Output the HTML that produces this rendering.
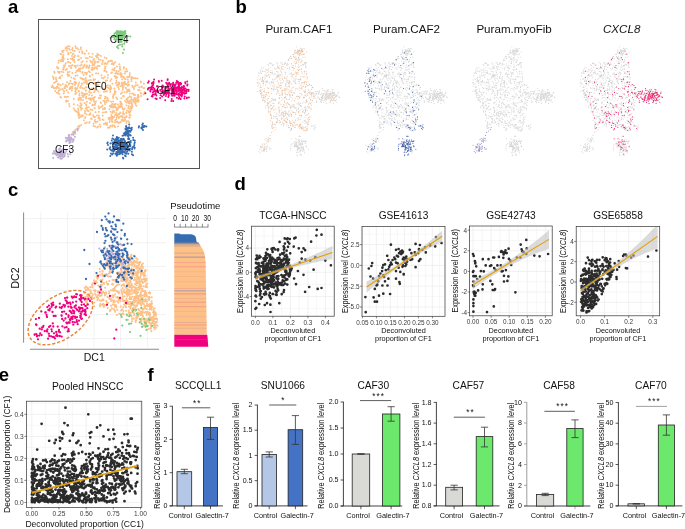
<!DOCTYPE html><html><head><meta charset="utf-8"><style>html,body{margin:0;padding:0;background:#fff;}svg{display:block;will-change:transform;font-family:"Liberation Sans",sans-serif;}</style></head><body><svg width="685" height="529" viewBox="0 0 685 529"><text x="8" y="13" font-size="18.5" text-anchor="start" fill="#000" font-weight="bold">a</text>
<rect x="38.5" y="19.5" width="161" height="149" fill="none" stroke="#555" stroke-width="1"/>
<path d="M109.8 120h0M78.9 118h0M126.2 84.3h0M79.2 68.6h0M74.6 82.4h0M98.4 91.4h0M109.6 127.6h0M70.9 58.8h0M53.8 88.2h0M94.7 121.6h0M110.2 88.2h0M97.7 66h0M98.9 115.8h0M111.2 107.1h0M59.1 90.4h0M98.7 117.8h0M84.8 95.1h0M56 77.7h0M81.1 58h0M128 77h0M143.5 94.5h0M107.9 98.5h0M92.3 65.4h0M88.7 53.5h0M114.3 70.4h0M133.5 100.5h0M104.6 57.6h0M102.9 60.5h0M134.5 98.8h0M104.6 76.7h0M89.5 65.4h0M94.9 91h0M81 107.9h0M52.8 76.4h0M91.1 89h0M106.5 102.2h0M84.2 88.6h0M123.2 121h0M90.2 113.2h0M125.8 88.1h0M119.4 64.3h0M69.3 75.6h0M67.5 74.2h0M140.6 93.1h0M82.7 68h0M140.9 82.4h0M143.6 88.3h0M100 119.9h0M121 93.7h0M91 118.4h0M89.5 122.1h0M56.9 81.2h0M99.8 124.4h0M114.7 105h0M110.3 126.1h0M82 78.6h0M69.7 49.7h0M107.8 85.3h0M107 100.2h0M94.7 97.6h0M110.8 60.8h0M56.3 79.7h0M123.1 113.2h0M133.9 88.9h0M74.4 66.1h0M68.2 92.6h0M66.2 101.8h0M139.6 90.2h0M127.6 100.1h0M108.5 61.4h0M82.6 71.9h0M61.1 97.5h0M126.2 71.5h0M105 98.5h0M113.3 98h0M128.8 112.2h0M81.5 105.4h0M65.8 47.7h0M112.3 63.3h0M104 123.9h0M86.5 66.5h0M93.8 100.1h0M60 77.1h0M129.4 76.8h0M85.8 90.3h0M70.9 66h0M81.8 83.5h0M105.5 70.4h0M62.9 56.6h0M62.8 52.2h0M79.5 114.6h0M109.4 61h0M91.8 118.9h0M86.1 104.5h0M124.2 114h0M114.5 76.3h0M56.5 88.6h0M75.7 90h0M121.6 119.9h0M62.4 60.8h0M126.4 99h0M124.3 78.3h0M111.4 60.8h0M122.6 108.4h0M119 82.4h0M86.4 80.3h0M102 77.7h0M102.5 105.4h0M86.7 114.4h0M118.2 114h0M61.5 60.2h0M105.1 82.5h0M80.2 71.4h0M118.8 83.3h0M73.8 78.2h0M72 55.9h0M53.5 87.3h0M62.1 60.1h0M132.2 85.7h0M67.9 101.1h0M75.7 89.2h0M77.3 88.3h0M110.2 90h0M88 111.1h0M63.4 54.9h0M70.2 87.5h0M97.7 121.4h0M54.3 71.7h0M72.9 84.1h0M129.2 108.7h0M117.7 116h0M115.2 106.6h0M79.1 59.4h0M137.8 95h0M65.2 88.2h0M105.1 112.2h0M77.2 112h0M117.2 98.9h0M140.8 81.5h0M89.9 102.9h0M129.8 73.3h0M114.1 62.9h0M102.9 109.3h0M95 79.5h0M118.9 88.9h0M103.9 91.8h0M93.5 97.9h0M106.8 63.9h0M69.2 83.2h0M121.8 104.2h0M103 112.5h0M94.7 97h0M128.3 101.8h0M111.4 79.2h0M103.5 78.4h0M121.2 77.1h0M94.8 108.2h0M98.3 73.6h0M129 77.1h0M130.7 110.7h0M92.9 104.7h0M53.7 77.9h0M132.2 93.6h0M103.4 100.7h0M114.8 93.9h0M90.4 60.7h0M78.2 69.8h0M83.9 82.6h0M85.7 93.8h0M86.3 67.7h0M134.5 86.5h0M97.4 61.9h0M90.4 114.2h0M129.1 84.8h0M123.4 83.5h0M85.9 90.8h0M69.5 71.8h0M117.6 109.5h0M128.1 82.5h0M73.8 98.9h0M86.2 98.4h0M74.9 85.1h0M100.3 97.9h0M77.9 70.9h0M74.8 51.1h0M90.6 109.6h0M63.4 72.2h0M123.5 86h0M138.2 100h0M109.4 109.2h0M121.7 74h0M74.8 81.8h0M96.9 57.3h0M92.4 98.6h0M63.3 57h0M66.9 69h0M67.9 59.2h0M94 59h0M76 111.3h0M67.9 96.7h0M89 80.2h0M113.5 95.3h0M61.3 71.7h0M108.6 100.8h0M114.9 92.8h0M141 96h0M82.3 88.1h0M116.4 80.4h0M131.4 108.2h0M82.4 51.9h0M63 60.8h0M79.3 82.6h0M135.9 102h0M131.6 79h0M73.7 57.3h0M126.4 102.5h0M70.6 67.7h0M102.7 115.8h0M58.4 68.3h0M123.1 96h0M80.1 97.7h0M93.6 117.1h0M78.3 108.4h0M110.9 107h0M86.4 105.7h0M116.8 77.7h0M119.9 68.6h0M95 116.9h0M93 69.4h0M79.5 51.9h0M71.3 68h0M66.8 50.7h0M94.7 63.3h0M120.7 122.1h0M76.4 93h0M95.5 112.3h0M85.5 108.6h0M57.4 67.5h0M127.7 84.5h0M93.5 125.9h0M80.8 49h0M87.7 58.2h0M58.2 92.6h0M141.1 93.6h0M111.9 72.4h0M104.7 107.9h0M106.4 112.1h0M102.7 61.9h0M105.8 86.2h0M66.2 96.9h0M102.2 106.4h0M88.7 67.9h0M85.8 90.5h0M115.7 91.9h0M74.1 59.9h0M54.6 73.1h0M68.7 84.5h0M66.7 85.9h0M100.2 107.4h0M92 57.2h0M127.3 71.3h0M93.7 100.4h0M98.7 59.2h0M63.6 69.1h0M62.8 84.1h0M84.3 94.2h0M77.1 48.3h0M81.9 108.2h0M74.7 79.1h0M122.2 79.3h0M79.9 106.6h0M74.5 57.1h0M92 95.5h0M118.1 85h0M59.2 73h0M137.7 96.3h0M56.8 92.7h0M94 92.3h0M120.5 101.8h0M127.7 79.6h0M124.9 119.5h0M93.5 123.8h0M86 108.3h0M95.2 82.7h0M87.1 81.4h0M63.7 50.6h0M122.1 92.4h0M114.3 112.1h0M72.3 64.9h0M76.8 70.7h0M122.7 76.6h0M81.1 98.3h0M68.1 54.3h0M116.7 108.3h0M78.6 98.3h0M53.6 79.1h0M105.4 66.5h0M83.5 96.1h0M106.5 58.3h0M74.5 62.1h0M108 127.7h0M100 95.4h0M117.2 73.4h0M82.1 51.3h0M91.8 62.5h0M135.8 98.3h0M59.3 71.9h0M82.3 73.1h0M114.7 90.9h0M75.2 93.9h0M111.3 88.6h0M116.3 112.9h0M125.2 83h0M67.2 48.4h0M88.7 71.3h0M92.5 62.1h0M118.2 87.2h0M80.5 68.8h0M139.7 87.3h0M144.6 93.6h0M55.6 87.9h0M98.3 81.6h0M62.3 58.1h0M89.2 114.7h0M109.7 106.1h0M105.2 62.9h0M95.2 126.4h0M91.2 100.3h0M86.7 87.3h0M78.5 100h0M141.7 86.4h0M94.7 116.8h0M78 112.2h0M77.7 105.3h0M82.2 95.5h0M127.2 90.5h0M86.4 74.6h0M57 66.9h0M114.1 125.4h0M109.5 88.8h0M69.5 88.6h0M78 55.9h0M63.2 61.2h0M105.9 80.6h0M91.2 62.6h0M113.6 69.5h0M88.4 84h0M118.7 71.2h0M135.5 78.2h0M98.4 118.3h0M65.7 63.2h0M58.6 84.7h0M106.7 71.9h0M126.9 92.2h0M63.5 90.5h0M110.3 81h0M132.6 77.9h0M99 55h0M104 109.1h0M119.9 66.8h0M90.7 79.9h0M111.2 105.2h0M99.5 118h0M95 84.1h0M80.5 103.2h0M89.3 123.1h0M57.4 86.8h0M55.1 91.1h0M68 76h0M79.4 95.5h0M81.7 92.8h0M133.1 99.7h0M78.3 110.1h0M121.7 82.8h0M64.4 88.1h0M78.6 91.1h0M121.1 116.6h0M143.9 83.7h0M133.5 93.8h0M75.7 72.5h0M106.6 97.6h0M68.8 75.5h0M128.2 91.1h0M99.1 108.6h0M112.7 69.6h0M58.7 83.9h0M134.1 95.1h0M55.5 82h0M87 93.8h0M106.2 124.5h0M82.6 79.4h0M108.7 119.1h0M117.6 84.6h0M127.9 85.8h0M78.7 115.8h0M108.4 87.7h0M96 55.9h0M97.8 66h0M89.2 98.6h0M65.7 85.1h0M97.2 127.6h0M58.7 87.9h0M137.4 78.6h0M75.3 91.6h0M58.5 62.7h0M117.2 121.6h0M84.5 53.7h0M103.6 88.8h0M85 72.7h0M68.1 46.2h0M135 95.1h0M114.3 106.4h0M98.4 106.6h0M112.9 96.7h0M89.4 90.9h0M118.7 123.3h0M120.4 74.3h0M94.1 88.9h0M108.8 127.6h0M115.8 78.1h0M118.4 84.2h0M89.7 75.8h0M97.3 68.8h0M73.4 57.8h0M92.3 69.8h0M83.1 96.9h0M103.2 82.3h0M112.2 125.2h0M113.7 111.6h0M110.8 117.7h0M81.4 104.3h0M75.5 87.7h0M115.2 62.2h0M127.3 100.8h0M81 100.1h0M105.2 96.7h0M92.9 64.2h0M119.4 84h0M121.3 75.7h0M58.7 90.5h0M109.6 122h0M123.8 67.2h0M116.7 77h0M81 86h0M100.9 103.1h0M111.1 101.8h0M86.9 101.7h0M83.2 95.9h0M94.1 92.2h0M52.1 86.9h0M71.3 77.5h0M60.4 97h0M62 75.5h0M97.4 55.3h0M80.7 68.3h0M84.9 111.1h0M63.7 93.6h0M91.6 69.4h0M128.5 107.5h0M63.1 69.8h0M108.6 117.9h0M111.7 63.9h0M85.6 97.3h0M116.7 82.3h0M113.1 101.4h0M94.6 61.2h0M88.7 107.3h0M68.4 53h0M94.4 65h0M126.5 113.3h0M112 61h0M128.7 105.9h0M121.4 103.4h0M114.4 88.4h0M82.5 72.6h0M65.2 86.3h0M85.5 80.5h0M131.4 102.1h0M115.1 127.2h0M71.1 87.7h0M59.2 78.1h0M122.5 117.3h0M98.8 111.7h0M92.3 74.8h0M98.5 61.7h0M79.6 70.8h0M131.5 99.2h0M91.1 61.9h0M60.5 54.1h0M83.6 79.3h0M138.2 90h0M64.3 91.4h0M65.6 48.8h0M68.4 53.9h0M112.4 83.8h0M74.8 110.3h0M96.9 90h0M93.9 101.6h0M57 86.6h0M72.7 54h0M69 66.1h0M131.5 103.5h0M80.4 78h0M92.3 69.9h0M90.5 109.5h0M57.6 68.5h0M96 101.6h0M111.8 105.7h0M60.4 60.5h0M79.8 68.9h0M78.7 112.2h0M138.3 94.9h0M83.6 75h0M110.6 117.2h0M82.8 61.3h0M131.3 97.3h0M85.2 111.5h0M88.6 98.4h0M115.8 83h0M94.8 105h0M72.9 50.7h0M68.5 62.1h0M89.9 72.2h0M84.9 113.3h0M127.2 89.8h0M92.1 67.7h0M102 63.9h0M81 47.5h0M112.9 116.7h0M126.3 117.1h0M96.9 115.4h0M94.3 67.4h0M96.1 73.3h0M123.4 114.5h0M63.8 59.1h0M86.9 84h0M114.8 67.9h0M57.9 71.7h0M81.1 105.6h0M110.2 91.9h0M122.7 88.1h0M65.7 63.4h0M86.5 73h0M56.2 79.2h0M93.1 69.3h0M86.9 73.1h0M86.2 96.9h0M97.7 61.9h0M126 88.1h0M94 104.7h0M121.9 116h0M127.5 101h0M116.9 66.6h0M74.9 55.5h0M112.9 107.6h0M111.4 115.1h0M75.9 83.8h0M66.8 90.2h0M83.1 99.9h0M100.9 102.5h0M73.8 104.2h0M120.3 105.4h0M105.3 68.1h0M91.7 88.5h0M99.6 66.1h0M75.6 75.7h0M124.7 81.8h0M54.1 83h0M69.5 46.5h0M101.5 75.2h0M90.2 76.5h0M66.3 100.4h0M124.8 108.6h0M72.2 88.2h0M117.2 77.6h0M93.1 115.3h0M72 49.4h0M90 99.4h0M69.1 104h0M69.5 106.2h0M59.2 94.1h0M97.9 85.3h0M124.7 83.9h0M97.7 85.9h0M93.6 79.2h0M65.7 70h0M75.6 66.1h0M69.9 89.2h0M80.1 65.4h0M85.9 87.2h0M114.5 126.2h0M131.5 81.2h0M93.4 80h0M113.4 94.4h0M89.3 95h0M60.2 78.2h0M72.6 48.1h0M81.4 62.4h0M51.7 86.9h0M115.8 76.2h0M130.4 111.6h0M81.4 115.8h0M138.8 97h0M83.9 120.2h0M113.6 64.8h0M104.3 71.1h0M69.1 49.1h0M71.2 83.5h0M78.5 113.7h0M106.7 91.6h0M116.4 71h0M86.9 65.5h0M78.2 60.1h0M84.6 103h0M97 68.8h0M82.9 93.5h0M120.1 112.5h0M118 126.6h0M76.9 88.8h0M70.8 52.4h0M92.1 105.2h0M78.2 114.6h0M82.1 83.9h0M129.8 75.2h0M127 110.4h0M95 119.9h0M87 107.7h0M111.2 73h0M101 95.8h0M100.9 55.9h0M128.4 81.4h0M118.2 114.2h0M128.6 103.1h0M125.1 118h0M84.2 79.5h0M72.4 73h0M91 92.7h0M77.5 75.4h0M122 84.5h0M107.1 80.6h0M103.4 120h0M75.8 88.6h0M141.9 86.9h0M73.7 108.6h0M128 97.8h0M100.6 107.2h0M137.6 98.7h0M107.7 77.7h0M104.8 91.5h0M120.5 122.2h0M94.5 107.9h0M78.6 84.3h0M78.1 86h0M79.2 91.5h0M112.6 118.5h0M121.3 98.2h0M87.1 109.9h0M135.8 85.3h0M79.5 94.1h0M97.7 57.6h0M122.1 107h0M64.2 67.1h0M126.5 121.2h0M133.1 87.2h0M85.3 82.5h0M67.2 86.7h0M72.4 58.9h0M86.6 50.8h0M95.1 103.3h0M112.3 126.4h0M134.6 98.1h0M135.8 82.4h0M126.4 69.1h0M100.5 126.8h0M107.3 87.6h0M125.3 71.4h0M73.1 60.2h0M105 103.9h0M124 77.3h0M62 50.9h0M72.4 86.4h0M104 88.8h0M116.3 97.5h0M82.4 53.2h0M110.7 111.7h0M86.8 122.4h0M106.9 90.9h0M128.2 97.4h0M107.9 75.1h0M96 67.3h0M80.2 87.8h0M70.4 62.8h0M88.7 111.1h0M144.6 91.9h0M84.6 64.9h0M67.8 72.3h0M125.1 100.9h0M120.3 101.4h0M80.2 117h0M70.4 80.9h0M58.7 60.4h0M123.3 87h0M113.3 106.4h0M108.1 61.9h0M76.1 82.7h0M61.3 54.3h0M112.4 107.1h0M85.7 77.9h0M70.1 88.8h0M105.6 123h0M119.4 114h0M112.3 69.5h0M109.6 118.3h0M60.6 85.3h0M121.3 102.9h0M62.4 89.1h0M116 73.3h0M98.3 126.5h0M110.9 87.2h0M131.3 107.1h0M129.8 93.5h0M105.2 89.5h0M120.3 72.9h0M97.6 84.5h0M113.3 63.4h0M118.6 107.7h0M92.6 54h0M94.6 117.1h0M98.8 97.9h0M86 58h0M110 85.8h0M83.3 67h0M116.6 71.9h0M105.2 67.1h0M122 76.6h0M95.9 122.5h0M118.7 106.6h0M82.7 115.2h0M135.6 100.2h0M129.5 90.7h0M63.9 65.6h0M105.1 108.8h0M122 85.8h0M84.9 53.5h0M124 120.8h0M85.1 123.3h0M132.3 103.9h0M117.2 115.3h0M101.4 87.6h0M85.3 117.3h0M123.8 68.4h0M67.9 61.9h0M104.9 68.7h0M73.4 53.7h0M81.3 109.7h0M52.5 85.6h0M93.3 59.7h0M96.1 122.1h0M133.8 78h0M144.2 87.9h0M71.8 90.6h0M116.6 85.5h0M83.9 66.1h0M78.6 49.6h0M125.4 79.1h0M107 63.8h0M113.9 104.2h0M120.3 86.3h0M104.8 102.1h0M111.8 119.8h0M60.4 89.5h0M60.9 61.3h0M86.8 61.4h0M82.4 116.6h0M115.7 103.9h0M113.6 107.3h0M121.6 104.8h0M123.9 96.3h0M75.4 46.3h0M121.6 73.8h0M97.4 53.8h0M124.6 92h0M115.3 73.4h0M131.7 77h0M120.3 69.7h0M90.7 98.3h0M71.4 86.9h0M81.6 65.1h0M139.3 87.6h0M112.3 104h0M57.9 84.3h0M66.6 47.2h0M137.9 97.5h0M89.8 56.8h0M122.8 89.7h0M129 89.6h0M79 99.6h0M64.8 96.7h0M118.4 73.9h0M116.7 110.2h0M129.8 96.6h0M130.9 100.2h0M87.4 66.4h0M122.9 82.7h0M63.4 67.8h0M86.2 105.3h0M78.5 56.3h0M115.4 107.6h0M68.9 74.9h0M92.5 109.9h0M78.5 99.8h0M87.5 84.1h0M94.3 68.6h0M116.6 115.3h0M65 65.2h0M107.1 123.2h0M95.3 62.2h0M107 125h0M89.4 67.3h0M131.4 78h0M77.6 65.4h0M85.3 118.1h0M86.7 82.7h0M104.3 63.9h0M75.8 67.6h0M75.1 88.3h0M67 82.3h0M89.3 92.2h0M102.7 119.6h0M129.6 91.1h0M95.3 103.6h0M126.2 112.4h0M104.5 101h0M131.4 79.2h0M127.2 77h0M100.6 59.9h0M122.6 119.4h0M137.6 85.3h0M76 48h0M124.8 73.5h0M129.4 102.4h0M112.3 121.2h0M136.6 100.8h0M118.7 118h0M117.9 104.5h0M120.3 106.9h0M123.2 112.1h0M129 122.2h0M114.1 116.9h0M115.3 122.5h0M128.5 102.7h0M136.8 101h0M131.1 109.1h0M126.6 115.9h0M115.2 122.2h0M119.3 106.7h0M122 120.3h0M135.5 103.7h0M120.4 112.9h0M113.4 110.4h0M128.7 111.2h0M115 120.3h0M120.3 103.6h0M116.6 117.2h0M115.1 115.1h0M124.6 120.2h0M112 121.5h0M128.3 121.2h0M111.8 117.1h0M120.3 116.3h0M112.6 121.9h0M119 117.6h0M112.9 111.8h0M118 108.1h0M131.9 105.6h0M126.4 105.4h0M116.4 110.3h0M118.6 122.9h0M124.4 117.3h0M138.6 100.2h0M116.9 115.7h0M129.7 101h0M134.7 102.5h0M115.2 114.7h0M111.9 119.4h0M126.4 123.2h0M129.6 115h0M123.6 120.5h0M132.3 106.5h0M116.2 119.2h0M136.3 105.7h0M133.7 101h0M130.5 115.6h0M136.1 105.4h0M129.2 117.4h0M133.4 101.6h0M129.5 103.6h0M138.5 101.8h0M117.1 122.1h0M128.3 108.1h0M112.3 113.1h0M132.1 107.8h0M116.6 121.8h0M130.7 106.8h0M122.5 108.7h0M118.8 122.6h0M129.7 117.7h0M121.3 105.7h0M123.7 109.8h0M129.6 112.9h0M74.4 131.9h0M77.3 129h0M73 132.4h0M73.3 135.3h0M78.1 126.6h0M74.8 131.5h0M81.3 124.9h0M73.2 131.8h0M79.5 126.7h0M75.3 133.7h0M79.5 125.8h0M75.4 129.8h0M73.7 133.6h0M78.5 128.8h0" stroke="#FDC086" stroke-width="2" stroke-linecap="round" fill="none"/>
<path d="M184.9 91.6h0M163 86.9h0M159 81.7h0M174.3 94.2h0M188.6 89.7h0M170 84.7h0M180.4 91.9h0M166.9 93.3h0M176.8 81h0M178.3 90.7h0M168.7 88h0M186.9 97.4h0M187.5 84.5h0M166.4 94.3h0M161.7 86.5h0M156.7 98.9h0M181 92.2h0M173.9 88h0M168.6 93h0M165.9 95.9h0M167.8 85.8h0M183 89.3h0M176.7 88h0M152.9 92.6h0M160.6 95.2h0M158.8 81h0M174.6 92h0M172.9 84.2h0M179.6 83h0M168.1 86.2h0M168.8 94.1h0M166.6 92.7h0M177.9 81.8h0M162.1 88.2h0M167 91.5h0M155.6 93.5h0M178.3 89.2h0M160.2 90h0M167.4 92.7h0M171.3 93.5h0M168.3 96.9h0M152.4 85.1h0M176.2 82.7h0M178.3 84.2h0M172.8 85.6h0M168.2 90.8h0M171.1 88.2h0M163.8 94.5h0M179 95.9h0M187.2 85.5h0M181 95.5h0M172 91.2h0M152.4 87.2h0M187.2 81.4h0M167.4 91.4h0M176.9 97.8h0M157 90.2h0M179.3 83.7h0M171.7 99h0M183.2 92.6h0M152.4 89.4h0M175.3 88.5h0M171.4 101h0M170.2 85.3h0M174.1 88.5h0M169.4 89.6h0M178.6 91.1h0M161.8 89.4h0M176 87.8h0M181.8 93.7h0M163.6 91.5h0M188.9 97.5h0M171.5 94.3h0M166.3 83h0M176.7 91.2h0M176.4 89.9h0M174.8 87.5h0M176 94h0M171.5 93.9h0M156.9 86.2h0M184.3 98.5h0M174.1 89.5h0M161.2 91.7h0M178.6 82.9h0M176.8 92.4h0M175.7 84.6h0M176.6 82.8h0M184.7 90.6h0M162.1 96.5h0M181.8 86.9h0M174.7 95.7h0M152.7 94.8h0M171.4 89.9h0M162.8 91.6h0M162.6 85.4h0M168.2 84.1h0M185.4 83.6h0M165.6 88.5h0M172 93.8h0M179 88.5h0M168.7 90.2h0M179 93.3h0M167.6 80.1h0M174.2 91.6h0M167.6 85.2h0M169.2 88.9h0M166.7 83h0M169.3 92.8h0M167.8 90.1h0M154.4 89h0M171 84.1h0M157.3 92h0M165.1 92.3h0M168.4 93h0M169.1 82.8h0M171.3 88.4h0M177.6 87.8h0M168.7 94.1h0M181.9 93.6h0M180.8 92.2h0M178.5 94.2h0M175.4 90.3h0M173.2 101h0M172.1 88.9h0M168.9 89.8h0M174.1 84.6h0M155.2 91.4h0M158.3 91.2h0M173.2 95.5h0M186.2 91.8h0M167.3 84.4h0M165.3 90.2h0M154.4 90.4h0M171.9 93.1h0M169.2 90.5h0M165.7 87.8h0M156.9 90.6h0M185.2 90.8h0M175.1 85.3h0M184.2 86.3h0M178.8 90.5h0M163.8 94.9h0M172.1 90.9h0M175.8 89.9h0M168.8 92.2h0M168.6 90.3h0M166.3 82.8h0M166.3 87.6h0M172.1 95.7h0M157.6 90.6h0M153.2 85h0M167.7 79.2h0M156.2 90.7h0M172.7 89.5h0M165.2 100.3h0M170.6 85.9h0M186.3 92.9h0M168.8 95.7h0M173.3 93.1h0M174 85.1h0M180.3 90.8h0M163.4 86.3h0M180.1 88.2h0M172.4 93.1h0M173.1 82.7h0M177.4 94.5h0M179.4 97.8h0M175.1 93.7h0M185.5 88.6h0M186.8 98.3h0M178.7 98.8h0M179.2 85.8h0M181.7 91.6h0M175.5 90.7h0M183.6 92.7h0M166.1 92.3h0M178.2 86.5h0M168.3 88.2h0M166.8 91.7h0M180.7 99.1h0M182.2 94.9h0M181.7 96.4h0M168.8 93.3h0M174.7 89.4h0M168.1 87.6h0M169.7 84.1h0M176.4 89.9h0M154.5 90.5h0M157.6 86.3h0M153.5 81.8h0M161.7 80.8h0M156.4 95.6h0M151.7 96.3h0M163.2 93.3h0M165.5 91.8h0M150.4 91.4h0M151.8 83.2h0M147.6 99.3h0M151.3 88.9h0M150.7 89.7h0M152.8 87.2h0M148 82.7h0M150.3 90.4h0M164.4 93.8h0M163.2 91.2h0M153.6 83.1h0M154.1 79.4h0M152.6 96.4h0M155.7 94.2h0M152.2 82.9h0M151.7 87.3h0M160.1 98h0M150.4 87.5h0M153.4 87.5h0M147.9 89.5h0M155.9 90.8h0M148.1 88.6h0M145.4 93.2h0M149 87.9h0M151.9 86.5h0M148.8 81.2h0M162.8 90.3h0M155.5 98.6h0M153.6 91.6h0M154.3 94.5h0M156.7 90.6h0M180.2 90.6h0M185.2 82.3h0M180.7 88.1h0M180.1 82.7h0M183.7 86.7h0M180.3 87.9h0M175.3 88.1h0M174.7 86.3h0M180 89.6h0M181.3 89.1h0M188.6 91.1h0M176.8 87.5h0M178.8 89h0M179 86.6h0M186.9 89.8h0M179.9 88.7h0M180.4 94.5h0M182.8 93.5h0M172.9 90.8h0M184.8 96.5h0M181.2 83.6h0M183.2 87.5h0M174.9 87.5h0M184.8 93.8h0M183.6 86h0M180.9 84.6h0M185.7 91.2h0M184.2 89.9h0M180.9 90.2h0M174.5 93.1h0M184.3 88.3h0M181.1 90.7h0M186.6 91.2h0M181.3 87.9h0M175.9 87.6h0M181.4 88.8h0M181.4 92.3h0M182.7 90.6h0M183.5 90.3h0" stroke="#F0027F" stroke-width="2" stroke-linecap="round" fill="none"/>
<path d="M121.1 149.6h0M110.9 153.5h0M113.5 151.4h0M121.4 152.8h0M121.5 142.5h0M127.7 148.2h0M122 147.7h0M127.3 151.3h0M122.7 139.5h0M118.9 147.8h0M132.1 149.2h0M120.8 153.2h0M120.6 147.1h0M122.3 139.8h0M127.1 149.4h0M119.6 141.6h0M122.6 154.3h0M117.5 142h0M123.9 139.3h0M108 145.1h0M117.2 145.9h0M118 148.9h0M120 144.3h0M118.6 150.4h0M127.1 151.8h0M125.5 135.5h0M115.3 145.7h0M122.6 139.2h0M129.9 148.8h0M117.6 148.1h0M119.3 143.5h0M124.4 145h0M112.9 144.1h0M120.7 141.9h0M128.9 141.9h0M131.9 151.8h0M115.7 148h0M128.5 146.4h0M114.2 147.9h0M133.3 139.9h0M124.7 147.4h0M120.7 145.4h0M119.5 152.5h0M125 142.3h0M130.8 140.9h0M125.4 148.3h0M128.6 149.1h0M127.8 147.2h0M127.3 149.1h0M134.3 143.9h0M128.6 149.7h0M122.5 144.5h0M124.1 140h0M113.2 150.9h0M112.1 154.6h0M119.8 148.6h0M121.9 149.5h0M119.8 145.5h0M120.7 152.6h0M128.3 153.7h0M123.6 146.4h0M111.4 150.6h0M126.5 145.4h0M126.3 153.8h0M122 152.7h0M123.3 138.7h0M118.6 145.3h0M124.6 143.1h0M118.8 142.6h0M121.2 147.7h0M127.3 151.4h0M122.4 148.6h0M122.1 147.9h0M130.7 135.5h0M120.4 148.9h0M128.2 141.9h0M123.5 151.7h0M118.8 137.8h0M119.3 141.4h0M125.4 143.1h0M132.1 148.1h0M116.6 144.9h0M114.9 149.3h0M130.4 146.3h0M127 142.7h0M123.3 158.5h0M113 153.5h0M128.5 138h0M112.9 142.5h0M127.3 145.2h0M120.5 150.9h0M122.2 148.5h0M119.5 153h0M116.8 155.8h0M119.4 143.4h0M125.3 149.6h0M109.6 148.5h0M113.4 143.2h0M126.2 143.1h0M123.6 145.5h0M133 146.9h0M114.4 141.8h0M116 148h0M121.4 152.2h0M122.4 148h0M123.4 146.7h0M123.2 151.3h0M126.1 144.6h0M110.8 143.3h0M123.1 135.5h0M118.5 149.6h0M118 141.7h0M131.9 154.2h0M119.8 153.9h0M129.2 141.7h0M134.8 142.6h0M119.8 141.8h0M121.8 140.7h0M121.3 152.7h0M122.6 146h0M130.6 142.8h0M127.1 145.8h0M122.6 147.4h0M122.1 147h0M116.6 144.4h0M123.9 146.7h0M114.3 143.7h0M117.1 147h0M122.3 147.7h0M117.3 147.3h0M113 135.5h0M120.9 138.9h0M115.6 141.2h0M125 141.1h0M122.9 144.7h0M113.8 139.3h0M124 149.1h0M125.8 156.3h0M122.8 148.5h0M120.4 147.6h0M119 142.6h0M133.1 137.8h0M122.6 149.3h0M122 142.3h0M119.9 144.8h0M114.6 146.8h0M118.6 144.3h0M125.1 141.7h0M123.7 144h0M123.6 147.4h0M122.5 142.1h0M116.4 142.7h0M122 150.7h0M127.4 144.5h0M121.5 138.9h0M107.7 142.6h0M117 139.2h0M110.3 149.6h0M116.1 138.6h0M134.8 147.8h0M119 150.3h0M116.4 154.8h0M111.7 140.4h0M120.1 143.1h0M129.3 138.9h0M116.5 148.1h0M124.2 151.9h0M122.9 157.8h0M118 147.7h0M125.9 145.3h0M119.1 144.5h0M116.9 141.2h0M117.5 139.1h0M123.1 138.9h0M133.1 155.3h0M127.4 145.7h0M117.2 152.9h0M121.8 149.6h0M116.4 152.1h0M116 147.3h0M110.4 143.5h0M123.7 144.5h0M118 150.7h0M120.3 152.9h0M107.2 149.6h0M123.7 139.1h0M112.9 151.1h0M114.3 143.6h0M124.3 145.1h0M123.5 142.4h0M122.5 152.1h0M122.6 135.8h0M124.6 147h0M115.3 153.7h0M110.3 156.1h0M116.9 154.6h0M120.4 140.1h0M121.2 148.4h0M123.9 152h0M115.3 149.2h0M125.1 145.4h0M115.1 142h0M125.2 150.7h0M115.7 140.1h0M128.1 139h0M121.6 142.7h0M110.2 147.3h0M119.5 153.9h0M134.2 145.8h0M126.8 151.9h0M117.5 142.4h0M130.3 144.9h0M120.5 145.3h0M119.9 143.7h0M125.1 153h0M118.4 139.9h0M121 139.3h0M116.8 152.8h0M134.5 148.6h0M114.3 150.6h0M107.3 143.3h0M129.8 150.4h0M112.4 138.4h0M125.8 146.5h0M117.1 148.8h0M117.2 137.2h0M125.5 143.5h0M114.7 140.1h0M122.2 142.7h0M124.4 145.4h0M127.1 144.8h0M116.8 136.9h0M114.1 150.3h0M134.8 140.5h0M114.5 148.4h0M123.5 143.4h0M121.1 138.7h0M118.9 151.2h0M130.4 145.9h0M119.1 149h0M127.3 149.1h0M116.2 148.5h0M126.4 143.2h0M112.7 149.3h0M122.9 151.5h0M121.2 143.5h0M118.1 141.6h0M115 143.9h0M117.8 152.3h0M113.4 146.5h0M117.2 154.1h0M122.3 144.9h0M125.6 147.1h0M117.9 154.4h0M124.9 155.4h0M127.6 150.6h0M121.5 141.4h0M124.9 147.1h0M124.8 146.7h0M116.6 141.8h0M129.1 134.7h0M126.7 132.2h0M130.8 128.4h0M126.5 127.5h0M130.3 131.7h0M126.2 125.9h0M126.9 133.8h0M126.7 129.6h0M129 127.2h0M127.5 132.7h0M125.5 128.4h0M128 130.6h0M126.8 131.5h0M128 128.1h0M125.7 132.2h0M130.2 134.9h0M125.3 134.1h0M129.3 130.8h0M128.6 133.4h0M131.8 127.8h0M128.9 130.5h0M126.9 134.3h0M129.4 127.9h0M126.7 131.6h0M123.9 133.5h0M127.2 131.4h0M128.3 136.3h0M127.5 129.8h0M131.7 129.4h0M126.1 126.8h0M130.1 131.7h0M128.6 131.4h0M127.1 128.6h0M125.5 132.2h0M127.7 135.8h0M125.5 129.5h0M124.9 135h0M124.4 133.2h0M131 130.5h0M129.2 124.6h0M142.5 124.5h0M143.9 127h0M141.5 128.4h0M144.3 126.2h0M142.2 124.8h0M143 130.1h0M141.7 127.6h0M142.1 128.2h0M144.5 126.6h0M139 126.2h0M146.4 126.6h0M145 126.2h0M138.8 127.6h0M144.2 126.1h0M142.5 127.4h0M142 127.5h0M142.9 123.5h0M143.1 126.1h0M141.4 127.6h0M142.2 127.8h0" stroke="#386CB0" stroke-width="2" stroke-linecap="round" fill="none"/>
<path d="M72 139.2h0M65.8 137.7h0M71.6 138.5h0M67.5 138.8h0M70.6 139.4h0M71 137.5h0M68.8 138.5h0M69.4 135.2h0M68.9 136.6h0M72.7 141.7h0M73.4 140.4h0M68.3 140.7h0M69 140.1h0M67.3 137.9h0M70.6 142.1h0M69.4 143h0M75 136.7h0M69.4 137.3h0M69.1 138h0M69.3 140.7h0M71.7 139.4h0M69.5 139.2h0M69.8 140h0M69.5 139.9h0M66.4 140.4h0M73.6 139.3h0M66.1 141.4h0M68.7 134.9h0M68.9 140.1h0M70.4 141.2h0M63.8 153.8h0M54 150.9h0M62.1 155h0M57.6 152.1h0M63.2 149.1h0M54.1 152.9h0M62.4 152.4h0M52.8 153.5h0M56.5 155h0M61.1 154.1h0M63.9 152.3h0M64.6 156.3h0M62.9 156.5h0M59.1 155.6h0M62.5 151.2h0M61.2 152.3h0M59.4 153.7h0M65.4 152.8h0M61.9 150.1h0M61.9 156.1h0M64.5 154.6h0M59.5 151.3h0M61.1 150.4h0M56.8 155.6h0M58 157.6h0M56.1 154.5h0M57 153.9h0M57.5 153.6h0M60.9 152.4h0M63.4 156.9h0M59.2 155.5h0M61.8 153.4h0M69.7 148.5h0M58.9 149.3h0M60.3 153h0M70.2 154.3h0M68.2 156.4h0M59.8 154.6h0M67.7 153.9h0M62.2 154.6h0M55.8 151.6h0M62.7 154.7h0M58 152.7h0M61 153.1h0M64.1 153.7h0M62.1 150.2h0M57.5 154.2h0M55.4 154.1h0M59 151.6h0M63.9 151.9h0M58.2 151.9h0M61.7 158.8h0M53.5 153.4h0M60.5 155.6h0M60 148.2h0M66.4 151h0M61.2 150.3h0M57.3 152.3h0M64.7 155.4h0M59.2 154.6h0M60 153.7h0M62 154.9h0M59.1 153.1h0M62.2 153.6h0M58.4 157.4h0M59.7 155.2h0M62.2 156.2h0M53.2 158.1h0M60.6 150.6h0M61.9 158.6h0M63.3 150.6h0M59.6 156.5h0M56.1 153h0M60.3 158.4h0M60.3 156.4h0M77.5 128.4h0M77.5 130.6h0M74.4 131.8h0M74.8 132.2h0M73.3 134h0M71.6 134.6h0" stroke="#BEAED4" stroke-width="2" stroke-linecap="round" fill="none"/>
<path d="M118.9 33h0M116.9 33.4h0M116.5 33.6h0M120.7 31.6h0M123.4 36.9h0M124.8 31h0M124.7 33.8h0M120.7 32.4h0M120.9 35.9h0M122.5 32.7h0M118.9 32.7h0M122.6 36.8h0M117.7 33.4h0M119.8 32.1h0M122.1 34.4h0M116.7 31.6h0M124.5 34h0M122.4 32.5h0M119.8 34.3h0M119.4 31.5h0M120.9 35.1h0M117.8 35.3h0M123 31.9h0M120.9 33.4h0M122.8 34.6h0M117 31h0M124 33.6h0M122.1 34h0M125.4 31.3h0M124.1 32h0M123.1 35.8h0M116.8 34.2h0M120.1 32.9h0M121 31.6h0M118 34.6h0M123.4 32.4h0M116.6 37.6h0M124.2 34.1h0M117.8 32.4h0M121.6 31.7h0M125.6 33.7h0M122.1 31.6h0M118.2 32h0M121.7 33h0M120 34h0M121.6 36.1h0M120.3 31.6h0M120.9 36h0M119.3 33.5h0M119.8 34.2h0M121.7 32h0M120.2 35.1h0M124.1 35.1h0M123.4 32.8h0M119.8 35.1h0M117.4 33.3h0M115.4 32.8h0M118.8 31.3h0M122.6 32.1h0M119.8 33h0M118.7 36h0M119.4 33.8h0M117.1 32.6h0M119.9 32.9h0M119.2 33.7h0M125.5 33.2h0M120.5 32.8h0M127.9 36.3h0M122.5 34.7h0M118.8 33.2h0M120.8 38.2h0M116.1 36h0M122.1 38.7h0M110.6 38.1h0M125.5 36.3h0M120.9 34.4h0M123.5 35.2h0M114.3 37.1h0M130.3 36.4h0M114.3 39.1h0M120.9 42h0M114.3 34h0M118.5 38.9h0M121.4 40.6h0M113.3 35.9h0M119.3 40h0M122 36.9h0M115.4 40.1h0M124.1 43.8h0M119.1 41.9h0M114.5 36.6h0M116.9 36.8h0M116 36.6h0M119.6 36.8h0M122.8 37.7h0M119.9 41.5h0M121.3 38.3h0M119.8 38.1h0M122.4 36h0M124.9 41.8h0M125 36.7h0M112.8 36.9h0M120.5 40h0M119.1 37.2h0M126.6 36.3h0M124 49.4h0M117 47h0M119.3 42.2h0M115.5 39.7h0M122.1 44.4h0M121.7 41.7h0M120 44.8h0M116.4 39.4h0M122.2 46.5h0M118.2 45.5h0M122.9 53.1h0M118.3 48.3h0" stroke="#7FC97F" stroke-width="2" stroke-linecap="round" fill="none"/>
<text x="119.2" y="42.7" font-size="10" text-anchor="middle" fill="#111">CF4</text>
<text x="97" y="90.3" font-size="10" text-anchor="middle" fill="#111">CF0</text>
<text x="166" y="93.7" font-size="10" text-anchor="middle" fill="#111">CF1</text>
<text x="121.2" y="150" font-size="10" text-anchor="middle" fill="#111">CF2</text>
<text x="64.5" y="153.1" font-size="10" text-anchor="middle" fill="#111">CF3</text>
<text x="235.5" y="13" font-size="18.5" text-anchor="start" fill="#000" font-weight="bold">b</text>
<text x="298.9" y="33.2" font-size="11.6" text-anchor="middle" fill="#111">Puram.CAF1</text>
<path d="M316.5 102.5h0M283 64.3h0M276.7 71.4h0M311.8 96.9h0M276.9 75.1h0M294.2 117.1h0M277.9 68.1h0M277.5 75.1h0M263.7 80.8h0M287 65.3h0M282.6 92.7h0M307.2 126.1h0M268.7 108.6h0M307.4 106.6h0M279 74.4h0M279.7 111.2h0M282.3 74.7h0M304.7 62.7h0M283.1 66.4h0M297.7 89.1h0M263.2 83.5h0M303.4 97h0M289.8 121.8h0M273.2 106.6h0M279.1 93.6h0M260.7 78.6h0M297.6 73.9h0M282.8 118.3h0M293.1 125.5h0M283.7 124.6h0M293.5 67.6h0M326.9 92.9h0M271.7 125.3h0M291.9 107h0M339.4 97.1h0M289.1 84.2h0M301.3 109h0M298.4 102.4h0M285.6 108h0M285.6 113.6h0M267.1 102.7h0M279 76.9h0M262.1 81.6h0M269 76.1h0M266.3 94.4h0M301.3 69.4h0M292 100.7h0M301.3 115h0M302 82.6h0M304.8 109.3h0M276.9 116.2h0M275.1 108.8h0M314.8 94.7h0M290.1 97h0M291.4 72.3h0M266.8 105.2h0M268.6 74.2h0M291.4 73.7h0M305.4 130.9h0M302.5 64.4h0M267.6 105.4h0M283.7 125.9h0M286 77.7h0M336.8 95.3h0M319 93.7h0M263.5 99.1h0M281.7 73.1h0M270.1 74.8h0M299.7 125.4h0M315.6 93.3h0M279.3 76.1h0M330.4 100.2h0M305.9 100.2h0M272.1 99.7h0M280.2 95.3h0M282.3 95h0M297.8 69.2h0M259.8 90.4h0M335.6 100.9h0M321.9 94.4h0M268 92.8h0M271.5 109.2h0M272.4 65.5h0M272.3 124.3h0M260.1 87.5h0M278.4 82.7h0M303.4 76.9h0M303.9 64.7h0M299.6 128.1h0M292.2 74.4h0M290.4 113.1h0M300.7 62.2h0M295 80.6h0M288.1 60.7h0M282.9 98.9h0M298.7 108.2h0M271.8 89.9h0M339.1 96.9h0M286.7 124.7h0M271.6 126.8h0M305 117.2h0M272.8 85.9h0M296.7 124.3h0M258.3 82.6h0M291.4 129.7h0M288.4 90h0M271.9 128.1h0M302.9 126.5h0M265.2 77.7h0M282.9 123.3h0M281.6 110h0M324.9 100h0M290.9 108.5h0M295.7 76.7h0M278.8 87h0M288.7 112.7h0M271.7 108.4h0M299 105.1h0M306.1 108.3h0M271.6 118.2h0M284.7 64.5h0M306.4 101.2h0M272.1 125.3h0M285.2 86.2h0M277.7 71.9h0M291.5 115.3h0M298.9 119.1h0M261.8 95.5h0M276.6 62.8h0M307.4 101.6h0M325.8 101.1h0M298.1 74.1h0M284.9 88.9h0M292.2 75h0M282.2 76.8h0M272.6 98.8h0M264.3 71.6h0M285.7 96.8h0M274.2 123.8h0M301.7 85h0M272.7 65.4h0M291.8 110.2h0M315.4 91.6h0M279.5 78.9h0M288.5 104.3h0M284.8 120.5h0M287 86.7h0M293 124.8h0M309.8 107.1h0M269.7 62.9h0M270.8 67.2h0M294.8 125.3h0M265.4 107.7h0M316.5 100.7h0M281.3 72.2h0M275.6 69.3h0M309 108.5h0M281.3 67.1h0M260.3 72.8h0M261.6 92.4h0M275.6 124.8h0M273.9 103.5h0M261 90.7h0M270.1 63.5h0M335.3 96.9h0M261.1 69h0M309.4 107.8h0M277.5 121.6h0M298.7 117.7h0M300.4 119.1h0M334.6 93.8h0M289.5 94.2h0M291.1 106.1h0M287.4 102.4h0M311 104.8h0M311.5 85.4h0M330.6 101.7h0M292.2 105.9h0M267.6 103.3h0M290 127.7h0M283.6 90.3h0M265.6 84.7h0M319 98.7h0M299.4 87.7h0M281.2 97.5h0M289.4 81.8h0M331.9 95.2h0M289.4 95.9h0M268.9 71.8h0M282.7 93.1h0M279.8 65.7h0M260.5 89.9h0M273.7 90.6h0M273.9 115.7h0M288.4 82.5h0M294.8 106.2h0M258.8 84h0M291.9 84.7h0M306.8 115.1h0M289 60.5h0M302 86.8h0M280.8 62.7h0M283.9 119.1h0M333.1 95.3h0M267.6 100.7h0M294 57.2h0M259.2 73.5h0M298 54.8h0M282.7 122.1h0M309.2 98.8h0M266.8 82.9h0M289.3 85.9h0M283.1 114.9h0M295.6 125.1h0M290.3 74.7h0M303.9 54.1h0M265.2 101.4h0M300.9 124.5h0M321.6 97.5h0M299.7 97.8h0M291.3 97.3h0M293.5 112.4h0M301.8 59.5h0M287.4 63.4h0M285.1 118.8h0M279.4 115.6h0M302.1 95.1h0M306 96.4h0M305.5 106.7h0M262.1 67.9h0M289.5 67.9h0M308.4 90.3h0M284 69.5h0M272.2 72.3h0M276.6 93.8h0M336.3 95.2h0M283.3 106.3h0M281.9 62.9h0M286.8 80h0M302.9 122.1h0M277.1 89.5h0M282.8 118.3h0M302.8 109h0M285 67.5h0M274.7 124.3h0M299.6 79.3h0M305.3 87.5h0M267.8 72.6h0M270.2 114.5h0M304.3 63.7h0M290.1 73.6h0M287.5 107h0M268 64.6h0M280.4 80.2h0M279.2 115.8h0M278.8 75.2h0M302.7 103.1h0M295.2 90.1h0M284.9 97.9h0M289.4 81.5h0M266 99.2h0M301.2 61.2h0M321.9 96.8h0M262.1 93.3h0M276.8 68.3h0M305 57.1h0M281.3 97.3h0M268.2 107.8h0M310.7 100.8h0M279.5 86h0M264.4 100.4h0M272.1 126.5h0M295.4 79.1h0M309.9 103.3h0M307.7 123.2h0M330.8 100.7h0M297.9 99.1h0M306.3 129.2h0M303.6 110.2h0M305.5 126.9h0M270.2 114.6h0M305.3 89.6h0M335.9 96.4h0M297.9 88.9h0M280.7 74.8h0M278.5 91.6h0M293.6 54.3h0M297.5 96.1h0M293.1 77.3h0M279.1 123.1h0M285.5 94.1h0M291.6 128.6h0M265.8 106.8h0M273.2 127.2h0M272.5 73.4h0M285.1 72.8h0M291.5 116.6h0M266.3 73.1h0M270.3 114.1h0M336.3 99.8h0M304.7 121.1h0M274.9 73.5h0M283.6 104.6h0M291.3 58.1h0M290.2 56.4h0M296.1 61.4h0M305.5 112.7h0M300.8 76.8h0M268.5 88.5h0M290.9 56.4h0M314.6 97.2h0M322.8 90.3h0M296.9 78.9h0M309 84h0M286.4 105.1h0M290.3 130.5h0M287 117.7h0M304.5 113.6h0M277.1 122.5h0M303.7 97.4h0M321.4 97.8h0M304.3 112.6h0M288.7 114.8h0M285.4 84.1h0M261.6 93.5h0M321.8 93.1h0M313.5 92.6h0M267 95.3h0M287.4 76.4h0M282.2 64.2h0M288.9 127.7h0M284.8 120.5h0M307 77.7h0M272.4 82.5h0M331.3 93.6h0M272.1 64.2h0M268.3 103.3h0M301.6 68.8h0M298.1 60.2h0M279.9 85.2h0M331.8 99.1h0M264.1 77h0M304 84.3h0M298.6 52.7h0M267.3 80.4h0M268.3 70.2h0M318.1 97.4h0M308.8 85.6h0M307.5 95.1h0M277.2 76.4h0M295.9 83.7h0M273.5 83.1h0M307.5 93.4h0M258.7 75.9h0M292.2 74.3h0M292.1 76.8h0M289.6 91.8h0M306.9 73.5h0M285.9 72.8h0M298 104h0M276.3 77.1h0M263.5 81.7h0M333.5 93.5h0M275.3 73.7h0M306.9 128.2h0M281.2 100.6h0M283.8 113.6h0M269.3 82h0M290.7 107.9h0M300.7 115.9h0M261.3 73.4h0M288.8 64.2h0M285.1 72h0M291 66h0M280.9 115.8h0M257.8 79.9h0M283.4 80.9h0M298.9 90.8h0M299.2 87.6h0M303.3 111.9h0M260.2 91.4h0M274.8 99.5h0M271.8 100.9h0M321.4 99.6h0M305.1 120.2h0M321.3 102.4h0M289 82.5h0M282.4 90.1h0M298.7 64.9h0M277.8 63.2h0M299.1 110.6h0M275.5 109.7h0M283.8 81h0M273.6 89.4h0M323.2 93.8h0M270.5 110.9h0M268.4 110.7h0M301.9 117h0M307.6 122.2h0M274.9 99h0M279 112.7h0M293.1 70.4h0M274.4 112.2h0M282 69.5h0M289.3 69.2h0M299.3 66.9h0M285.8 111.1h0M276.9 87.9h0M304.8 92.4h0M265.7 71h0M264.8 98.1h0M275.5 116.6h0M275.5 89.4h0M296.9 58.9h0M305.4 87.4h0M297.7 124.3h0M261.3 97.1h0M292.4 94.5h0M310.2 94.4h0M305.5 81.5h0M331.5 96.7h0M278.7 67.4h0M311.7 105.6h0M271.6 98.5h0M273.1 82.6h0M295.4 98.5h0M273.8 100.6h0M279.4 97.6h0M265.8 85h0M303.4 130.5h0M296.5 109.9h0M280.8 78.1h0M333.4 98.5h0M319.5 98.5h0M296.9 96.8h0M331.7 93.1h0M303.9 127.7h0M292.8 98.2h0M292.7 87.5h0M309.9 91.1h0M322.1 100.5h0M285.3 85.6h0M275.6 99.4h0M327.9 94h0M285 63.2h0M270 70.1h0M295.3 53.1h0M273.8 86.2h0M277.7 64.8h0M278.2 107.9h0M318.1 96.7h0M290.4 95.4h0M303 98.1h0M267.7 82.1h0M289.4 99.1h0M282.3 115.1h0M304.2 127.5h0M296.7 111h0M289.4 80.7h0M270.7 105.9h0M262.2 81.5h0M313.8 93h0M309.1 122h0M305 123.5h0M325.1 94.3h0M308.7 89.6h0M289.2 110.8h0M307.2 81.5h0M278.9 108h0M273.4 118.3h0M307.3 106.8h0M276 116.8h0M303.7 82.4h0M281.3 117.9h0M263.2 85.7h0M316.3 94h0M304.1 120.2h0M281.5 87.9h0M295.4 59.5h0M294.1 122.4h0M260.8 71.8h0M307.7 95.6h0M266.9 81.5h0M270.4 104.7h0M311.7 92.7h0M330.6 93.9h0M279.5 112.1h0M281.4 85.6h0M298.8 119.4h0M302.2 76.4h0M273.8 81.2h0M264.7 75.3h0M319.6 91.9h0M289.2 116.5h0M314.8 97h0M267.6 98.7h0M298.8 102.9h0M270.9 85.3h0M316.8 101.9h0M286.9 78.9h0M274.1 87.3h0M287.1 113h0M303.9 102h0M311.8 102.6h0M271.3 72.9h0M281.1 114.4h0M285.4 74.6h0M278.7 74.1h0M264.8 79h0M260.3 70.6h0M296.8 107.2h0M296.2 75.9h0M287.2 64.8h0M289.8 87.5h0M277.5 118.9h0M272.1 70.9h0M284.5 111.6h0M275.5 100.5h0M270.2 63.7h0M323.7 102.4h0M278.2 114.8h0M281.6 112.7h0M287.3 94.7h0M292.8 54.5h0M288.5 115.5h0M296 59.8h0M285.7 84.1h0M273.2 64.7h0M294.5 52.5h0M299.2 83.4h0M337 102.2h0M263.2 70.8h0M299 111.2h0M305 62.5h0M293 124.8h0M296 58.6h0M291.8 88.8h0M283.3 112.2h0M309.2 102.2h0M262.8 99.2h0M334.1 94.8h0M272.5 79.4h0M310.1 92.2h0M331 100.3h0M270.7 115.5h0M298.6 107.7h0M297.2 124.9h0M294.1 61.2h0M267.5 87.5h0M295.5 53.2h0M314.4 97.2h0M300.1 96h0M308 124.3h0M285.9 84.4h0M268.6 106.7h0M258.8 72.8h0M270.1 88.1h0M294.7 82.7h0M285.3 113.8h0M317.7 91.3h0M286.9 112.8h0M293.5 68.6h0M273.8 74.7h0M281.6 83.1h0M282.2 115.1h0M304.2 83.5h0M305.9 62.7h0M313.6 98.4h0M311 108.4h0M307.1 79.3h0M268.5 65.6h0M299.6 81.2h0M288.6 111h0M295.5 119.9h0M298.5 54.8h0M306.3 67h0M280.6 75.4h0M291.3 129.1h0M297.1 118.2h0M290.2 92h0M274.1 88.5h0M278.8 87.5h0M274.9 116.9h0M284.4 63.1h0M300 128.1h0M301.3 62h0M271.1 63.4h0M266 81.9h0M272 88.5h0M295.2 127.3h0M260 79.6h0M263.2 80.4h0M303.2 129h0M320.4 101.4h0M286 83.2h0M284.1 105.3h0M263.8 67.8h0M277.6 87h0M286.2 103.5h0M276.7 118.3h0M264.9 92.4h0M304.1 73.9h0M276.3 118.8h0M268.7 68.2h0M305.7 115.2h0M279.8 102.3h0M299 57h0M288.8 111.2h0M275 73.9h0M329 93.4h0M334.8 100.3h0M272.9 79.9h0M273.6 116h0M291.7 114.6h0M296.8 103.7h0M281.3 124.5h0M272.4 122.9h0M286.9 87.1h0M284.4 76.8h0M315.2 95.5h0M269.6 101.9h0M261.8 97.4h0M305.9 64.1h0M299.5 104.1h0M259.2 73.5h0M301.4 106.4h0M287.1 119.7h0M277.3 92h0M325.6 95.1h0M330.1 93h0M330.6 94.9h0M331.4 99.9h0M334.4 95.2h0M322.6 88.6h0M316.6 93.8h0M330.1 94.1h0M325.9 91.2h0M319.6 90.8h0M333.1 89.9h0M333.4 93.3h0M332.5 96.9h0M333.8 99.9h0M324.6 93h0M326.6 93.6h0M329.2 97.4h0M326.3 99.5h0M318.1 96.8h0M332.1 93.6h0M324.9 98.9h0M327.1 89.9h0M321 99.2h0M323.8 100.2h0M337.2 95.4h0M332.3 93.4h0M326.6 93.8h0M332.5 91.9h0M328.2 96.2h0M332.1 89.2h0M318.3 93.2h0M327.6 96.4h0M330.1 102.4h0M332.9 97.8h0M326 98.5h0M333.1 98.1h0M328.3 98h0M338 93.4h0M316.1 98.6h0M333.3 95.2h0M326.3 103.4h0M326.2 92.1h0M326.1 97.6h0M325.3 94.7h0M330.7 94.6h0M329.7 95.8h0M322.6 96.2h0M322 98.9h0M323.3 95.2h0M318.1 94.5h0M321.5 100.7h0M328.2 97.6h0M318.5 92h0M327.9 91.6h0M335.7 94.7h0M329.8 96.9h0M328 98.4h0M324.9 97.1h0M336 96.6h0M329.6 94.9h0M329.2 98.1h0M327.4 90.6h0M329.8 95.4h0M331.6 96h0M338.2 92.1h0M323.1 98h0M322.8 96.9h0M328.7 89.7h0M332.8 100.2h0M330.1 91.5h0M333.5 92.6h0M328.1 97.2h0M328 95.8h0M323.8 93.5h0M333.2 95.6h0M326.1 94h0M329.8 96.2h0M327.8 91.5h0M326.6 93.9h0M329.2 99.5h0M329.5 94.9h0M330.8 94.4h0M326.8 93.3h0M328.5 95.6h0M339.6 97.6h0M326.6 98.3h0M326 99h0M333.3 103.4h0M322.5 95.7h0M328.1 96.8h0M332.9 92.9h0M324.6 96.8h0M334.4 92.4h0M333.7 99.3h0M330.1 97.3h0M328.1 95.7h0M334.7 94.5h0M325.6 94.6h0M325.8 96.3h0M327.6 94.5h0M337 96.8h0M326.8 99.8h0M325.6 95.9h0M328.3 94.1h0M326.6 96.1h0M320.5 94.7h0M301 51.2h0M302.1 50.5h0M301.5 50.2h0M297.6 51.8h0M299.6 49.9h0M300.6 48.3h0M297.8 49.5h0M299.4 50.1h0M298.8 51.8h0M301.8 50.6h0M301.1 50.9h0M296.7 46.7h0M301.9 49.8h0M301.4 50.2h0M297.4 50.7h0M297.7 50.9h0M301.6 51.8h0M300.8 48.4h0M301 52.3h0M301.8 49h0M303 48.8h0M298.3 51.8h0M299.7 51.1h0M295 50h0M299 53.4h0M301.3 143.9h0M296.1 146h0M297.1 154.7h0M290.8 146.1h0M290.8 150h0M296.5 152.2h0M297.4 150.2h0M300.1 150.6h0M299.4 136.3h0M296.7 139.6h0M302.8 148h0M299.4 147.7h0M300.1 143.6h0M306.4 146.8h0M298.7 140h0M297.1 145.9h0M298.7 143.9h0M299.2 141.4h0M299.4 139.7h0M296.3 142.9h0M302.5 147.8h0M299.6 141.3h0M297.9 149h0M303.9 140h0M297.8 146.3h0M300.6 145.9h0M301.8 140.1h0M305 141.3h0M299.6 147.9h0M303.6 149.5h0M302.5 151h0M298.8 148.9h0M305 142.8h0M294.3 141.9h0M304.5 150.8h0M298.1 146.9h0M301.1 150.1h0M292.6 143.7h0M298.5 147.2h0M299.7 144.6h0M300.5 136.3h0M308.2 149.2h0M302.6 143.3h0M300.9 154.1h0M306 146.2h0M294.9 146.6h0M298.3 149.3h0M294.8 145.2h0M300.4 144h0M303.3 141.4h0M294.9 144.5h0M302.4 144.7h0M297.3 149.2h0M300.2 143.8h0M299.9 145h0M301.6 146.5h0M296.5 144h0M297.9 147.4h0M300.8 142.6h0M298.7 147.2h0M303.4 146.9h0M306.5 146h0M302.1 144.6h0M295.8 146.4h0M301.2 147.2h0M300 144.6h0M296.4 144.7h0M301.1 149.8h0M290.8 148.4h0M303.4 151h0M300.8 148.6h0M297.8 145.6h0M301.3 141.5h0M296.6 146.7h0M294.6 146.1h0M294 146.7h0M299.5 143.7h0M296 143.9h0M291.3 144.3h0M299.9 150.8h0M297.6 145.2h0M304.5 152.9h0M297.7 150.1h0M303.7 148h0M295.8 142.1h0M301.5 155.3h0M298.8 152.2h0M306.3 140.9h0M297.2 152h0M303 148.1h0M299.4 148.5h0M297.1 155.7h0M295.2 138.7h0M300 151.7h0M297.6 145.7h0M295.7 145.6h0M295.7 141.9h0M294.1 143.7h0M306.2 145.7h0M300.1 154.9h0M297.1 141.9h0M301.3 141h0M300.6 150.6h0M295.5 143.8h0M305.6 141.6h0M296.9 146.9h0M298.3 142.5h0M305.3 143.6h0M300.6 144.3h0M298.6 140.4h0M302.8 144.2h0M304.1 141.2h0M297.7 147.9h0M299.8 143.3h0M298.9 140.7h0M299.6 136.3h0M300.1 151.4h0M302.7 149.4h0M297.9 147.9h0M298 145.6h0M299.1 136.3h0M302.8 147.8h0M302.5 142.1h0M302 147.9h0M291.3 138.8h0M313.3 126.2h0M313.2 126.2h0M315.3 124.8h0M311.4 125.8h0M311.4 126.3h0M313.2 125.4h0M313.8 128.5h0M314.7 129.3h0M314.8 126.9h0M315.7 127.8h0M269.4 147.5h0M257.9 145.3h0M263.4 150.3h0M266.8 148.1h0M264.2 151.2h0M264.6 144h0M263.9 148.9h0M259 151.6h0M269.8 149.1h0M266.7 151.5h0M263.5 150.4h0M265.1 144.5h0M261.4 146.7h0M267.1 148.2h0M266.8 146.9h0M260.3 152.8h0M270.9 148.9h0M263.4 150.7h0M260.8 147.5h0M264.7 147.1h0M262.1 144.5h0M261.6 150.8h0M263 150.9h0M261.5 147.8h0M262.7 147.4h0M266.2 143.3h0M264 148.2h0M263.4 149.6h0M264.2 146h0M264.4 150.2h0M264.6 146.9h0M262.7 143.7h0M263.5 150.3h0M262.9 145.9h0M268.7 139.3h0M269.7 138.4h0M267.1 141.5h0M268.6 137.2h0M268.8 140.6h0M266.1 140.8h0M269.7 138.3h0M270.7 140.7h0M267.9 138.9h0M267.6 140.1h0M266.1 138.2h0M264.8 139.5h0M275.9 127.5h0M275.4 129.6h0M273.3 131h0M271.5 132.4h0M270.2 135.4h0" stroke="#D6D6D6" stroke-width="1.1" stroke-linecap="round" fill="none"/>
<path d="M274.7 84.8h0M265.6 96.6h0M277.3 81.2h0M326.9 94.9h0M276 78.2h0M285.1 88.7h0M325.4 98h0M270.3 120.3h0M313 94h0M301.7 127.4h0M296 88.5h0M304.1 54.1h0M282.1 93.1h0M283.7 123.2h0M293.4 106.8h0M305.6 86.4h0M290.7 123.5h0M264.1 97h0M291.4 63.8h0M302.9 57.3h0M274.2 68.3h0M296.1 73.5h0M295 51.9h0M282.6 106.6h0M300.7 103.2h0M268.5 92.4h0M306.4 130.6h0M261.2 87.5h0M264.1 95.2h0M304.9 91.3h0M299.3 98h0M271.3 88.3h0M271.4 81.7h0M296.3 73.9h0M292.5 124.8h0M261.3 95h0M281.4 113.3h0M276.5 122.8h0M285 92.9h0M279.1 107h0M308.3 120.9h0M299.9 93.6h0M292.5 112h0M298.9 81.5h0M299.1 126.5h0M295.8 120.9h0M296.8 52.9h0M269 106.7h0M302.5 111.7h0M261.6 81.4h0M294.5 68.5h0M287.7 114.5h0M279.4 95.3h0M306.6 99.9h0M306.5 101.2h0M288.9 86.4h0M263.5 97.4h0M294.9 58h0M288.7 83.5h0M280.9 104.2h0M262 89.5h0M309.7 92.9h0M264.3 90.9h0M290.2 90.6h0M305.5 63h0M286.8 90h0M301.3 94h0M295.8 56.8h0M273.8 109.9h0M287.6 119.5h0M300.7 105.6h0M264.2 88.7h0M299.6 59.6h0M278.8 103.5h0M265.9 75h0M311.3 93.2h0M282.9 112.1h0M296.7 52.4h0M270.9 108.8h0M297 96.4h0M285.7 112h0M291.7 92.4h0M310.6 99.4h0M290.3 107.4h0M300.9 79.7h0M294.1 78.8h0M307.5 129.7h0M272.9 124.3h0M289.5 83h0M305.6 111.5h0M286.3 81.3h0M302.9 128.1h0M301.2 65.8h0M277.9 90.9h0M295.8 112.9h0M304.9 107.4h0M289.8 58.1h0M288.6 59.4h0M278.7 102.2h0M295.8 83.2h0M309.5 84.5h0M312.2 92.8h0M268.7 92.6h0M333.1 100.8h0M307.5 85.6h0M306.6 74.2h0M293.4 92.3h0M282.7 82.8h0M286.9 64.9h0M282.5 78.9h0M294.6 123.1h0M267.1 70.1h0M278 67.3h0M305.7 67.3h0M258 86.1h0M285.5 63.1h0M286.4 122.2h0M286.8 118h0M294.4 107.8h0M288.8 127.4h0M309.9 116.9h0M293.7 87h0M289.6 120.9h0M293.5 81h0M307.2 76.9h0M289.8 81.5h0M268.3 103.4h0M290.1 122.6h0M273.7 127.8h0M284.8 90.7h0M288.4 92.8h0M295 127.2h0M306.4 84.3h0M263.7 91.5h0M273 103.5h0M298.8 112.8h0M298.4 111.8h0M287.9 80.6h0M280.4 85.3h0M284.3 107.5h0M284.1 116.4h0M300.6 78.9h0M304.5 82.4h0M305.6 110.5h0M299.7 69.6h0M301.8 87.7h0M308.8 92.4h0M280.1 122.3h0M276.3 122h0M287.3 94.7h0M280 122.5h0M263 94.9h0M262.3 79.1h0M293.8 54.3h0M302.1 73h0M295.4 72h0M300.3 124.4h0M296.8 72.5h0M287.1 122.4h0M262.5 71.3h0M266.6 92.8h0M330.8 98.2h0M307.9 119.1h0M278.5 84h0M301.8 88.9h0M300.8 127.2h0M289.5 104.2h0M307 128.1h0M301.8 82.9h0M280.8 70.9h0M263.8 82.1h0M264.9 102.1h0M283.6 113.7h0M305.1 95.5h0M293.9 74.2h0M265.8 81.4h0M284.5 97.6h0M268.1 88.2h0M304.6 71.8h0M298.7 58.8h0M289.8 94.2h0M304.6 97.6h0M284 120.4h0M316.8 91.7h0M300.5 53.5h0M299.7 97.2h0M270.5 114.3h0M306.5 122.7h0M300.5 125.7h0M281.9 68.6h0M291.9 76.2h0M293.3 74.2h0M300.2 105.7h0M274.8 79.3h0M281.9 66.6h0M310.3 103.2h0M293.7 56.4h0M298.5 96.5h0M304.9 76.7h0M293.6 122.1h0M287.6 68.3h0M288 103.5h0M281.8 91.5h0M276.6 113.8h0M308.1 119h0M268 102.7h0M292.4 95.4h0M296.2 63.5h0M312.3 100.4h0M327.9 97.8h0M260.5 91.4h0M291.6 128.5h0M298.4 79.6h0M263 100.4h0M305.6 109.2h0M295.5 108h0M300.2 88.3h0M295.6 83.1h0M292.5 67h0M271.4 115.8h0M307.1 110.3h0M308.4 117.5h0M291.2 83.1h0M282.1 95h0M279.3 98.4h0M298.5 70.4h0M276.8 86.8h0M312.9 87.8h0M291.7 90.2h0M285 89.8h0M270.6 72.5h0M307.2 114.7h0M277.8 76.8h0M266 94.7h0M293.2 65.5h0M311.9 93.4h0M280.5 83h0M280.5 88.1h0M295.1 63.7h0M271.4 93.3h0M277.4 120h0M286.3 122.2h0M285.9 94.8h0M294.1 105h0M331.2 97.9h0M309.8 97.2h0M295.7 114.7h0M266.7 76.1h0M297.6 53.7h0M268.6 98.5h0M266 69.5h0M267.9 75.6h0M299.6 55.3h0M293 126.5h0M298.1 67.1h0M301.9 60.7h0M268.3 111.9h0M285.8 121.4h0M306.5 82.3h0M271.7 82.7h0M311.5 94.9h0M298.4 126.8h0M286.1 107.3h0M269.2 96.2h0M269.9 83.6h0M308 124.4h0M292.2 120.3h0M257.6 91.3h0M289.9 114.9h0M305.9 62.6h0M288.6 125.2h0M282.5 112.2h0M299.7 54.3h0M279.4 120.2h0M308.7 104.1h0M260.6 86.1h0M313.9 96.3h0M284.7 102.2h0M283.9 116.1h0M312.2 87.3h0M293.9 112.4h0M271.3 105.3h0M277.8 66.3h0M311.1 85.3h0M300.1 85.3h0M298.5 62h0M306.2 71.7h0M295.5 66h0M304.2 71.3h0M312.8 87.6h0M299.5 125.1h0M305.8 121.5h0M262.5 77.4h0M284.3 101h0M304.4 82h0M273.7 99.9h0M288.1 99.6h0M308.7 113.6h0M298.1 109.1h0M298 60.2h0M305.8 102.6h0M291.4 114.4h0M271.6 117.9h0M259.8 83.8h0M290 105.7h0M285 78.2h0M286.5 99h0M302.1 129h0M299.4 115.6h0M263.4 83.6h0M257.2 82.9h0M285.1 113.5h0M285.4 115.1h0M305.6 65.7h0M280.3 121.7h0M272.6 128.3h0M294.6 100.6h0M298.4 57.6h0M311.1 109.7h0M267.9 104.8h0M309.6 119.3h0M279.2 110.6h0M270 111.9h0M283.4 116.1h0M322.5 97.9h0M272.4 107.9h0M301.2 71.2h0M305.6 91.2h0M269.6 77.2h0M303.3 65h0M305.9 94.8h0M270.4 101.8h0M278.2 75.9h0M277.7 77h0M281.6 118.9h0M308.2 106.9h0M301.5 128.6h0M303.1 86.4h0M289.9 123.1h0M297.9 72.3h0M298.1 120h0M286.8 113.6h0M277.9 90.3h0M303.9 91.1h0M296.3 62.2h0M311.6 89.2h0M273.9 106h0M304.7 130.2h0M282.3 90.5h0M287.8 82.5h0M286.9 88.7h0M260.6 93.6h0M282.2 94.2h0M292.2 67.4h0M290.6 125.4h0M305.1 92.6h0M262.2 80.1h0M291.3 58.6h0M279.1 109.7h0M291.8 123.1h0M284.4 77.9h0M285.6 97.1h0M276.7 93.8h0M291.2 129.6h0M301.6 115.3h0M313.3 96h0M293.1 104.6h0M279.2 68.6h0M294.3 93.2h0M272.1 121.9h0M295 81.3h0M333.1 95.7h0M324.2 90.6h0M334.4 97.9h0M319.8 99.4h0M323.1 95.3h0M301.2 54.8h0M300.1 50.7h0M304.2 48.8h0M302 51.6h0M301.8 49.6h0M306.2 52h0M298.6 51.2h0M302.8 50.9h0M295 50.5h0M300 53.1h0M302.9 54.4h0M299.1 50.9h0M302.7 51.8h0M298.5 50.7h0M297.5 51.6h0M264.5 149.2h0M260.6 146.3h0M267.1 146.1h0M259.9 149.1h0M266.1 149.6h0M265.1 148.1h0M270.1 138.8h0M268.3 141.9h0" stroke="#F3B688" stroke-width="1.1" stroke-linecap="round" fill="none"/>
<text x="406.5" y="33.2" font-size="11.6" text-anchor="middle" fill="#111">Puram.CAF2</text>
<path d="M424.1 102.5h0M390.6 64.3h0M384.9 81.2h0M384.3 71.4h0M434.5 94.9h0M419.4 96.9h0M384.5 75.1h0M383.6 78.2h0M401.8 117.1h0M385.5 68.1h0M385.1 75.1h0M371.3 80.8h0M392.7 88.7h0M433 98h0M394.6 65.3h0M377.9 120.3h0M420.6 94h0M390.2 92.7h0M414.8 126.1h0M376.3 108.6h0M415 106.6h0M389.7 93.1h0M386.6 74.4h0M391.3 123.2h0M387.3 111.2h0M389.9 74.7h0M412.3 62.7h0M390.7 66.4h0M405.3 89.1h0M401 106.8h0M370.8 83.5h0M411 97h0M398.3 123.5h0M399 63.8h0M397.4 121.8h0M380.8 106.6h0M386.7 93.6h0M410.5 57.3h0M403.7 73.5h0M368.3 78.6h0M402.6 51.9h0M390.2 106.6h0M405.2 73.9h0M408.3 103.2h0M390.4 118.3h0M376.1 92.4h0M414 130.6h0M412.5 91.3h0M406.9 98h0M400.7 125.5h0M378.9 88.3h0M403.9 73.9h0M391.3 124.6h0M401.1 67.6h0M434.5 92.9h0M400.1 124.8h0M379.3 125.3h0M399.5 107h0M447 97.1h0M396.7 84.2h0M408.9 109h0M406 102.4h0M393.2 108h0M393.2 113.6h0M374.7 102.7h0M389 113.3h0M386.6 76.9h0M384.1 122.8h0M369.7 81.6h0M376.6 76.1h0M386.7 107h0M373.9 94.4h0M408.9 69.4h0M399.6 100.7h0M408.9 115h0M409.6 82.6h0M407.5 93.6h0M412.4 109.3h0M400.1 112h0M406.5 81.5h0M384.5 116.2h0M382.7 108.8h0M406.7 126.5h0M422.4 94.7h0M397.7 97h0M376.6 106.7h0M399 72.3h0M402.1 68.5h0M374.4 105.2h0M376.2 74.2h0M399 73.7h0M413 130.9h0M410.1 64.4h0M375.2 105.4h0M391.3 125.9h0M393.6 77.7h0M387 95.3h0M444.4 95.3h0M426.6 93.7h0M371.1 99.1h0M389.3 73.1h0M377.7 74.8h0M407.3 125.4h0M423.2 93.3h0M414.1 101.2h0M386.9 76.1h0M438 100.2h0M413.5 100.2h0M396.5 86.4h0M379.7 99.7h0M387.8 95.3h0M389.9 95h0M405.4 69.2h0M367.4 90.4h0M443.2 100.9h0M429.5 94.4h0M375.6 92.8h0M379.1 109.2h0M380 65.5h0M379.9 124.3h0M367.7 87.5h0M386 82.7h0M396.3 83.5h0M388.5 104.2h0M411 76.9h0M411.5 64.7h0M407.2 128.1h0M399.8 74.4h0M398 113.1h0M408.3 62.2h0M402.6 80.6h0M395.7 60.7h0M390.5 98.9h0M406.3 108.2h0M379.4 89.9h0M446.7 96.9h0M417.3 92.9h0M394.3 124.7h0M379.2 126.8h0M397.8 90.6h0M412.6 117.2h0M413.1 63h0M380.4 85.9h0M404.3 124.3h0M394.4 90h0M365.9 82.6h0M399 129.7h0M396 90h0M379.5 128.1h0M403.4 56.8h0M410.5 126.5h0M372.8 77.7h0M381.4 109.9h0M390.5 123.3h0M389.2 110h0M432.5 100h0M398.5 108.5h0M403.3 76.7h0M386.4 87h0M396.3 112.7h0M395.2 119.5h0M379.3 108.4h0M406.6 105.1h0M413.7 108.3h0M379.2 118.2h0M392.3 64.5h0M414 101.2h0M386.4 103.5h0M379.7 125.3h0M392.8 86.2h0M385.3 71.9h0M399.1 115.3h0M406.5 119.1h0M369.4 95.5h0M384.2 62.8h0M418.9 93.2h0M415 101.6h0M404.3 52.4h0M433.4 101.1h0M405.7 74.1h0M392.5 88.9h0M399.8 75h0M389.8 76.8h0M380.2 98.8h0M371.9 71.6h0M378.5 108.8h0M393.3 96.8h0M381.8 123.8h0M409.3 85h0M380.3 65.4h0M399.4 110.2h0M423 91.6h0M404.6 96.4h0M399.3 92.4h0M387.1 78.9h0M418.2 99.4h0M397.9 107.4h0M408.5 79.7h0M396.1 104.3h0M392.4 120.5h0M394.6 86.7h0M400.6 124.8h0M380.5 124.3h0M417.4 107.1h0M397.1 83h0M377.3 62.9h0M378.4 67.2h0M402.4 125.3h0M373 107.7h0M424.1 100.7h0M388.9 72.2h0M393.9 81.3h0M383.2 69.3h0M416.6 108.5h0M388.9 67.1h0M367.9 72.8h0M369.2 92.4h0M383.2 124.8h0M381.5 103.5h0M368.6 90.7h0M377.7 63.5h0M442.9 96.9h0M417 107.8h0M403.4 112.9h0M385.1 121.6h0M406.3 117.7h0M408 119.1h0M442.2 93.8h0M397.1 94.2h0M397.4 58.1h0M386.3 102.2h0M403.4 83.2h0M398.7 106.1h0M395 102.4h0M417.1 84.5h0M418.6 104.8h0M419.1 85.4h0M438.2 101.7h0M399.8 105.9h0M375.2 103.3h0M397.6 127.7h0M419.8 92.8h0M391.2 90.3h0M376.3 92.6h0M440.7 100.8h0M415.1 85.6h0M373.2 84.7h0M426.6 98.7h0M414.2 74.2h0M407 87.7h0M401 92.3h0M388.8 97.5h0M390.3 82.8h0M397 81.8h0M439.5 95.2h0M397 95.9h0M376.5 71.8h0M390.3 93.1h0M390.1 78.9h0M387.4 65.7h0M368.1 89.9h0M381.3 90.6h0M381.5 115.7h0M396 82.5h0M402.4 106.2h0M366.4 84h0M399.5 84.7h0M414.4 115.1h0M402.2 123.1h0M396.6 60.5h0M409.6 86.8h0M388.4 62.7h0M391.5 119.1h0M440.7 95.3h0M375.2 100.7h0M401.6 57.2h0M413.3 67.3h0M405.6 54.8h0M390.3 122.1h0M416.8 98.8h0M374.4 82.9h0M396.9 85.9h0M390.7 114.9h0M403.2 125.1h0M394 122.2h0M394.4 118h0M402 107.8h0M397.9 74.7h0M411.5 54.1h0M372.8 101.4h0M408.5 124.5h0M429.2 97.5h0M407.3 97.8h0M398.9 97.3h0M401.3 87h0M401.1 112.4h0M397.2 120.9h0M409.4 59.5h0M395 63.4h0M401.1 81h0M392.7 118.8h0M387 115.6h0M409.7 95.1h0M413.6 96.4h0M413.1 106.7h0M369.7 67.9h0M414.8 76.9h0M397.4 81.5h0M397.1 67.9h0M416 90.3h0M375.9 103.4h0M397.7 122.6h0M391.6 69.5h0M379.8 72.3h0M384.2 93.8h0M381.3 127.8h0M392.4 90.7h0M443.9 95.2h0M390.9 106.3h0M389.5 62.9h0M394.4 80h0M410.5 122.1h0M396 92.8h0M384.7 89.5h0M390.4 118.3h0M410.4 109h0M392.6 67.5h0M382.3 124.3h0M402.6 127.2h0M414 84.3h0M407.2 79.3h0M412.9 87.5h0M375.4 72.6h0M377.8 114.5h0M411.9 63.7h0M397.7 73.6h0M395.1 107h0M375.6 64.6h0M388 80.2h0M395.5 80.6h0M386.8 115.8h0M388 85.3h0M391.9 107.5h0M391.7 116.4h0M408.2 78.9h0M386.4 75.2h0M410.3 103.1h0M412.1 82.4h0M402.8 90.1h0M392.5 97.9h0M397 81.5h0M373.6 99.2h0M408.8 61.2h0M429.5 96.8h0M369.7 93.3h0M384.4 68.3h0M412.6 57.1h0M388.9 97.3h0M375.8 107.8h0M407.3 69.6h0M409.4 87.7h0M418.3 100.8h0M387.1 86h0M416.4 92.4h0M387.7 122.3h0M372 100.4h0M379.7 126.5h0M403 79.1h0M417.5 103.3h0M415.3 123.2h0M438.4 100.7h0M405.5 99.1h0M394.9 94.7h0M413.9 129.2h0M411.2 110.2h0M413.1 126.9h0M377.8 114.6h0M387.6 122.5h0M412.9 89.6h0M443.5 96.4h0M405.5 88.9h0M388.3 74.8h0M401.4 54.3h0M386.1 91.6h0M401.2 54.3h0M403 72h0M405.1 96.1h0M400.7 77.3h0M386.7 123.1h0M393.1 94.1h0M399.2 128.6h0M407.9 124.4h0M404.4 72.5h0M373.4 106.8h0M380.8 127.2h0M380.1 73.4h0M392.7 72.8h0M399.1 116.6h0M373.9 73.1h0M377.9 114.1h0M438.4 98.2h0M443.9 99.8h0M412.3 121.1h0M382.5 73.5h0M391.2 104.6h0M398.9 58.1h0M397.8 56.4h0M397.1 104.2h0M409.4 82.9h0M388.4 70.9h0M391.2 113.7h0M412.7 95.5h0M403.7 61.4h0M413.1 112.7h0M401.5 74.2h0M408.4 76.8h0M392.1 97.6h0M376.1 88.5h0M375.7 88.2h0M398.5 56.4h0M422.2 97.2h0M430.4 90.3h0M406.3 58.8h0M397.4 94.2h0M404.5 78.9h0M416.6 84h0M394 105.1h0M397.9 130.5h0M394.6 117.7h0M412.2 97.6h0M412.1 113.6h0M391.6 120.4h0M384.7 122.5h0M424.4 91.7h0M411.3 97.4h0M429 97.8h0M411.9 112.6h0M408.1 53.5h0M407.3 97.2h0M396.3 114.8h0M378.1 114.3h0M393 84.1h0M369.2 93.5h0M429.4 93.1h0M389.5 68.6h0M421.1 92.6h0M399.5 76.2h0M374.6 95.3h0M407.8 105.7h0M395 76.4h0M389.8 64.2h0M396.5 127.7h0M382.4 79.3h0M389.5 66.6h0M417.9 103.2h0M392.4 120.5h0M401.3 56.4h0M406.1 96.5h0M414.6 77.7h0M412.5 76.7h0M401.2 122.1h0M380 82.5h0M438.9 93.6h0M379.7 64.2h0M395.2 68.3h0M375.9 103.3h0M409.2 68.8h0M405.7 60.2h0M387.5 85.2h0M439.4 99.1h0M371.7 77h0M411.6 84.3h0M406.2 52.7h0M374.9 80.4h0M375.9 70.2h0M425.7 97.4h0M416.4 85.6h0M384.2 113.8h0M415.1 95.1h0M384.8 76.4h0M403.5 83.7h0M381.1 83.1h0M415.7 119h0M415.1 93.4h0M400 95.4h0M419.9 100.4h0M366.3 75.9h0M435.5 97.8h0M399.8 74.3h0M399.7 76.8h0M406 79.6h0M397.2 91.8h0M413.2 109.2h0M414.5 73.5h0M393.5 72.8h0M405.6 104h0M383.9 77.1h0M403.1 108h0M407.8 88.3h0M371.1 81.7h0M441.1 93.5h0M403.2 83.1h0M400.1 67h0M382.9 73.7h0M379 115.8h0M414.5 128.2h0M388.8 100.6h0M391.4 113.6h0M376.9 82h0M398.3 107.9h0M416 117.5h0M398.8 83.1h0M389.7 95h0M408.3 115.9h0M396.4 64.2h0M392.7 72h0M398.6 66h0M388.5 115.8h0M365.4 79.9h0M386.9 98.4h0M391 80.9h0M406.1 70.4h0M406.5 90.8h0M406.8 87.6h0M384.4 86.8h0M410.9 111.9h0M367.8 91.4h0M382.4 99.5h0M379.4 100.9h0M429 99.6h0M420.5 87.8h0M412.7 120.2h0M428.9 102.4h0M396.6 82.5h0M390 90.1h0M406.3 64.9h0M385.4 63.2h0M399.3 90.2h0M406.7 110.6h0M392.6 89.8h0M378.2 72.5h0M383.1 109.7h0M391.4 81h0M381.2 89.4h0M430.8 93.8h0M378.1 110.9h0M376 110.7h0M409.5 117h0M415.2 122.2h0M382.5 99h0M386.6 112.7h0M385.4 76.8h0M400.7 70.4h0M382 112.2h0M389.6 69.5h0M396.9 69.2h0M406.9 66.9h0M393.4 111.1h0M384.5 87.9h0M412.4 92.4h0M373.3 71h0M372.4 98.1h0M383.1 116.6h0M419.5 93.4h0M383.1 89.4h0M404.5 58.9h0M413 87.4h0M405.3 124.3h0M368.9 97.1h0M388.1 83h0M400 94.5h0M402.7 63.7h0M417.8 94.4h0M413.1 81.5h0M439.1 96.7h0M386.3 67.4h0M379 93.3h0M385 120h0M419.3 105.6h0M393.9 122.2h0M379.2 98.5h0M393.5 94.8h0M380.7 82.6h0M403 98.5h0M381.4 100.6h0M387 97.6h0M401.7 105h0M373.4 85h0M411 130.5h0M438.8 97.9h0M417.4 97.2h0M404.1 109.9h0M403.3 114.7h0M388.4 78.1h0M441 98.5h0M427.1 98.5h0M404.5 96.8h0M405.2 53.7h0M439.3 93.1h0M376.2 98.5h0M411.5 127.7h0M400.4 98.2h0M407.2 55.3h0M400.3 87.5h0M417.5 91.1h0M429.7 100.5h0M392.9 85.6h0M383.2 99.4h0M435.5 94h0M392.6 63.2h0M377.6 70.1h0M402.9 53.1h0M381.4 86.2h0M400.6 126.5h0M405.7 67.1h0M409.5 60.7h0M385.3 64.8h0M385.8 107.9h0M425.7 96.7h0M398 95.4h0M375.9 111.9h0M410.6 98.1h0M375.3 82.1h0M397 99.1h0M393.4 121.4h0M414.1 82.3h0M389.9 115.1h0M411.8 127.5h0M404.3 111h0M397 80.7h0M378.3 105.9h0M369.8 81.5h0M421.4 93h0M416.7 122h0M412.6 123.5h0M432.7 94.3h0M416.3 89.6h0M396.8 110.8h0M414.8 81.5h0M419.1 94.9h0M386.5 108h0M381 118.3h0M393.7 107.3h0M414.9 106.8h0M383.6 116.8h0M411.3 82.4h0M388.9 117.9h0M370.8 85.7h0M423.9 94h0M377.5 83.6h0M411.7 120.2h0M389.1 87.9h0M399.8 120.3h0M403 59.5h0M401.7 122.4h0M415.3 95.6h0M374.5 81.5h0M397.5 114.9h0M396.2 125.2h0M390.1 112.2h0M378 104.7h0M407.3 54.3h0M419.3 92.7h0M438.2 93.9h0M387.1 112.1h0M389 85.6h0M406.4 119.4h0M409.8 76.4h0M381.4 81.2h0M372.3 75.3h0M427.2 91.9h0M396.8 116.5h0M387 120.2h0M392.3 102.2h0M422.4 97h0M391.5 116.1h0M375.2 98.7h0M406.4 102.9h0M378.5 85.3h0M419.8 87.3h0M401.5 112.4h0M378.9 105.3h0M424.4 101.9h0M385.4 66.3h0M394.5 78.9h0M381.7 87.3h0M394.7 113h0M411.5 102h0M419.4 102.6h0M378.9 72.9h0M407.7 85.3h0M406.1 62h0M413.8 71.7h0M388.7 114.4h0M403.1 66h0M393 74.6h0M386.3 74.1h0M411.8 71.3h0M372.4 79h0M404.4 107.2h0M420.4 87.6h0M403.8 75.9h0M394.8 64.8h0M397.4 87.5h0M385.1 118.9h0M379.7 70.9h0M391.9 101h0M392.1 111.6h0M383.1 100.5h0M377.8 63.7h0M431.3 102.4h0M412 82h0M385.8 114.8h0M389.2 112.7h0M381.3 99.9h0M394.9 94.7h0M395.7 99.6h0M400.4 54.5h0M396.1 115.5h0M416.3 113.6h0M403.6 59.8h0M393.3 84.1h0M380.8 64.7h0M402.1 52.5h0M405.6 60.2h0M406.8 83.4h0M444.6 102.2h0M399 114.4h0M406.6 111.2h0M379.2 117.9h0M412.6 62.5h0M397.6 105.7h0M392.6 78.2h0M400.6 124.8h0M403.6 58.6h0M394.1 99h0M399.4 88.8h0M390.9 112.2h0M416.8 102.2h0M392.7 113.5h0M370.4 99.2h0M441.7 94.8h0M393 115.1h0M380.1 79.4h0M417.7 92.2h0M438.6 100.3h0M413.2 65.7h0M378.3 115.5h0M406.2 107.7h0M404.8 124.9h0M401.7 61.2h0M375.1 87.5h0M403.1 53.2h0M422 97.2h0M387.9 121.7h0M407.7 96h0M415.6 124.3h0M393.5 84.4h0M376.2 106.7h0M366.4 72.8h0M377.7 88.1h0M402.3 82.7h0M380.2 128.3h0M402.2 100.6h0M392.9 113.8h0M425.3 91.3h0M386.8 110.6h0M391 116.1h0M394.5 112.8h0M401.1 68.6h0M381.4 74.7h0M389.2 83.1h0M430.1 97.9h0M389.8 115.1h0M411.8 83.5h0M408.8 71.2h0M413.5 62.7h0M421.2 98.4h0M418.6 108.4h0M413.2 91.2h0M377.2 77.2h0M414.7 79.3h0M376.1 65.6h0M407.2 81.2h0M410.9 65h0M396.2 111h0M403.1 119.9h0M413.5 94.8h0M406.1 54.8h0M413.9 67h0M378 101.8h0M388.2 75.4h0M398.9 129.1h0M385.8 75.9h0M385.3 77h0M389.2 118.9h0M404.7 118.2h0M397.8 92h0M381.7 88.5h0M415.8 106.9h0M386.4 87.5h0M382.5 116.9h0M392 63.1h0M407.6 128.1h0M408.9 62h0M378.7 63.4h0M409.1 128.6h0M410.7 86.4h0M373.6 81.9h0M379.6 88.5h0M402.8 127.3h0M397.5 123.1h0M367.6 79.6h0M370.8 80.4h0M410.8 129h0M428 101.4h0M393.6 83.2h0M391.7 105.3h0M405.5 72.3h0M371.4 67.8h0M385.2 87h0M405.7 120h0M394.4 113.6h0M385.5 90.3h0M393.8 103.5h0M411.5 91.1h0M384.3 118.3h0M403.9 62.2h0M372.5 92.4h0M411.7 73.9h0M383.9 118.8h0M419.2 89.2h0M376.3 68.2h0M381.5 106h0M389.9 90.5h0M395.4 82.5h0M413.3 115.2h0M387.4 102.3h0M394.5 88.7h0M389.8 94.2h0M406.6 57h0M399.8 67.4h0M398.2 125.4h0M396.4 111.2h0M382.6 73.9h0M436.6 93.4h0M442.4 100.3h0M380.5 79.9h0M381.2 116h0M399.3 114.6h0M398.9 58.6h0M404.4 103.7h0M388.9 124.5h0M380 122.9h0M386.7 109.7h0M399.4 123.1h0M394.5 87.1h0M392 76.8h0M422.8 95.5h0M392 77.9h0M377.2 101.9h0M393.2 97.1h0M369.4 97.4h0M413.5 64.1h0M407.1 104.1h0M366.8 73.5h0M409 106.4h0M394.7 119.7h0M384.9 92h0M398.8 129.6h0M400.7 104.6h0M386.8 68.6h0M401.9 93.2h0M379.7 121.9h0M402.6 81.3h0M433.2 95.1h0M437.7 93h0M438.2 94.9h0M439 99.9h0M442 95.2h0M430.2 88.6h0M424.2 93.8h0M437.7 94.1h0M433.5 91.2h0M427.2 90.8h0M440.7 89.9h0M441 93.3h0M440.1 96.9h0M441.4 99.9h0M432.2 93h0M434.2 93.6h0M440.7 95.7h0M436.8 97.4h0M433.9 99.5h0M425.7 96.8h0M439.7 93.6h0M432.5 98.9h0M434.7 89.9h0M428.6 99.2h0M431.4 100.2h0M444.8 95.4h0M439.9 93.4h0M434.2 93.8h0M440.1 91.9h0M435.8 96.2h0M439.7 89.2h0M425.9 93.2h0M435.2 96.4h0M437.7 102.4h0M440.5 97.8h0M433.6 98.5h0M440.7 98.1h0M435.9 98h0M445.6 93.4h0M423.7 98.6h0M440.9 95.2h0M433.9 103.4h0M433.8 92.1h0M433.7 97.6h0M432.9 94.7h0M438.3 94.6h0M437.3 95.8h0M430.2 96.2h0M429.6 98.9h0M430.9 95.2h0M425.7 94.5h0M429.1 100.7h0M435.8 97.6h0M426.1 92h0M435.5 91.6h0M443.3 94.7h0M437.4 96.9h0M435.6 98.4h0M432.5 97.1h0M443.6 96.6h0M437.2 94.9h0M436.8 98.1h0M435 90.6h0M437.4 95.4h0M439.2 96h0M445.8 92.1h0M430.7 98h0M430.4 96.9h0M436.3 89.7h0M440.4 100.2h0M437.7 91.5h0M441.1 92.6h0M435.7 97.2h0M431.8 90.6h0M435.6 95.8h0M431.4 93.5h0M440.8 95.6h0M433.7 94h0M437.4 96.2h0M435.4 91.5h0M434.2 93.9h0M436.8 99.5h0M442 97.9h0M437.1 94.9h0M438.4 94.4h0M434.4 93.3h0M436.1 95.6h0M447.2 97.6h0M434.2 98.3h0M433.6 99h0M440.9 103.4h0M430.1 95.7h0M435.7 96.8h0M440.5 92.9h0M432.2 96.8h0M442 92.4h0M427.4 99.4h0M441.3 99.3h0M430.7 95.3h0M437.7 97.3h0M435.7 95.7h0M442.3 94.5h0M433.2 94.6h0M433.4 96.3h0M435.2 94.5h0M444.6 96.8h0M434.4 99.8h0M433.2 95.9h0M435.9 94.1h0M434.2 96.1h0M428.1 94.7h0M408.6 51.2h0M408.8 54.8h0M409.7 50.5h0M407.7 50.7h0M409.1 50.2h0M411.8 48.8h0M409.6 51.6h0M405.2 51.8h0M409.4 49.6h0M413.8 52h0M407.2 49.9h0M406.2 51.2h0M408.2 48.3h0M405.4 49.5h0M407 50.1h0M406.4 51.8h0M410.4 50.9h0M402.6 50.5h0M409.4 50.6h0M408.7 50.9h0M404.3 46.7h0M409.5 49.8h0M409 50.2h0M407.6 53.1h0M405 50.7h0M405.3 50.9h0M409.2 51.8h0M408.4 48.4h0M408.6 52.3h0M410.5 54.4h0M409.4 49h0M406.7 50.9h0M410.6 48.8h0M410.3 51.8h0M405.9 51.8h0M406.1 50.7h0M407.3 51.1h0M405.1 51.6h0M402.6 50h0M406.6 53.4h0M404.3 139.6h0M407.7 143.6h0M406.3 140h0M404.7 145.9h0M406.4 148.9h0M412.6 142.8h0M410.9 141.4h0M407.5 145h0M414.1 146h0M407.6 144.6h0M403.6 143.9h0M412.1 152.9h0M405.3 150.1h0M409.1 155.3h0M410.6 148.1h0M407.6 151.7h0M404.5 146.9h0M406.2 140.4h0M409.6 147.9h0M377 147.5h0M365.5 145.3h0M371 150.3h0M374.4 148.1h0M371.8 151.2h0M366.6 151.6h0M377.4 149.1h0M374.3 151.5h0M371.1 150.4h0M372.7 144.5h0M369 146.7h0M367.9 152.8h0M378.5 148.9h0M371 150.7h0M368.4 147.5h0M372.3 147.1h0M369.7 144.5h0M369.2 150.8h0M370.6 150.9h0M369.1 147.8h0M370.3 147.4h0M371.6 148.2h0M372.2 146.9h0M370.3 143.7h0M371.1 150.3h0M370.5 145.9h0M376.3 139.3h0M377.3 138.4h0M374.7 141.5h0M376.2 137.2h0M376.4 140.6h0M377.3 138.3h0M378.3 140.7h0M375.5 138.9h0M375.2 140.1h0M373.7 138.2h0M372.4 139.5h0M383.5 127.5h0M383 129.6h0M380.9 131h0M379.1 132.4h0M377.8 135.4h0" stroke="#D6D6D6" stroke-width="1.1" stroke-linecap="round" fill="none"/>
<path d="M382.3 84.8h0M373.2 96.6h0M409.3 127.4h0M403.6 88.5h0M411.7 54.1h0M413.2 86.4h0M371.7 97h0M381.8 68.3h0M368.8 87.5h0M371.7 95.2h0M379 81.7h0M368.9 95h0M392.6 92.9h0M415.9 120.9h0M403.4 120.9h0M404.4 52.9h0M410.1 111.7h0M369.2 81.4h0M395.3 114.5h0M414.2 99.9h0M371.1 97.4h0M402.5 58h0M369.6 89.5h0M371.9 90.9h0M408.9 94h0M408.3 105.6h0M371.8 88.7h0M407.2 59.6h0M373.5 75h0M390.5 112.1h0M393.3 112h0M401.7 78.8h0M415.1 129.7h0M413.2 111.5h0M410.5 128.1h0M408.8 65.8h0M385.5 90.9h0M368.7 69h0M412.5 107.4h0M396.2 59.4h0M394.5 64.9h0M374.7 70.1h0M385.6 67.3h0M366.8 73.5h0M365.6 86.1h0M393.1 63.1h0M396.4 127.4h0M417.5 116.9h0M371.3 91.5h0M380.6 103.5h0M406.4 112.8h0M406 111.8h0M413.2 110.5h0M383.9 122h0M370.6 94.9h0M369.9 79.1h0M409.7 73h0M394.7 122.4h0M370.1 71.3h0M374.2 92.8h0M415.5 119.1h0M386.1 84h0M409.4 88.9h0M408.4 127.2h0M414.6 128.1h0M371.4 82.1h0M372.5 102.1h0M373.4 81.4h0M412.2 71.8h0M414.1 122.7h0M408.1 125.7h0M400.9 74.2h0M395.6 103.5h0M389.4 91.5h0M375.6 102.7h0M403.8 63.5h0M368.1 91.4h0M399.2 128.5h0M370.6 100.4h0M414.7 110.3h0M368.9 73.4h0M414.8 114.7h0M373.6 94.7h0M400.8 65.5h0M388.1 88.1h0M374.3 76.1h0M373.6 69.5h0M375.5 75.6h0M379.3 82.7h0M406 126.8h0M376.8 96.2h0M415.6 124.4h0M365.2 91.3h0M368.4 71.8h0M413.5 62.6h0M416.3 104.1h0M368.2 86.1h0M421.5 96.3h0M418.7 85.3h0M367.9 70.6h0M407.1 125.1h0M413.4 121.5h0M370.1 77.4h0M405.7 109.1h0M413.4 102.6h0M370.8 70.8h0M367.4 83.8h0M409.7 129h0M407 115.6h0M371 83.6h0M364.8 82.9h0M406 57.6h0M418.7 109.7h0M375.5 104.8h0M417.2 119.3h0M377.6 111.9h0M380 107.9h0M412.3 130.2h0M368.2 93.6h0M412.7 92.6h0M369.8 80.1h0M384.3 93.8h0M409.2 115.3h0M420.9 96h0M408.9 143.9h0M403.7 146h0M404.7 154.7h0M398.4 146.1h0M398.4 150h0M404.1 152.2h0M405 150.2h0M407.7 150.6h0M407 136.3h0M410.4 148h0M407 147.7h0M414 146.8h0M406.3 143.9h0M406.8 141.4h0M407 139.7h0M403.9 142.9h0M410.1 147.8h0M407.2 141.3h0M405.5 149h0M411.5 140h0M405.4 146.3h0M408.2 145.9h0M409.4 140.1h0M412.6 141.3h0M407.2 147.9h0M411.2 149.5h0M410.1 151h0M401.9 141.9h0M412.1 150.8h0M405.7 146.9h0M408.7 150.1h0M400.2 143.7h0M406.1 147.2h0M407.3 144.6h0M408.1 136.3h0M415.8 149.2h0M410.2 143.3h0M408.5 154.1h0M413.6 146.2h0M402.5 146.6h0M405.9 149.3h0M402.4 145.2h0M408 144h0M402.5 144.5h0M410 144.7h0M404.9 149.2h0M407.8 143.8h0M409.2 146.5h0M404.1 144h0M405.5 147.4h0M408.4 142.6h0M406.3 147.2h0M411 146.9h0M409.7 144.6h0M403.4 146.4h0M408.8 147.2h0M404 144.7h0M408.7 149.8h0M398.4 148.4h0M411 151h0M408.4 148.6h0M405.4 145.6h0M408.9 141.5h0M404.2 146.7h0M402.2 146.1h0M401.6 146.7h0M407.1 143.7h0M398.9 144.3h0M407.5 150.8h0M405.2 145.2h0M411.3 148h0M403.4 142.1h0M406.4 152.2h0M413.9 140.9h0M404.8 152h0M407 148.5h0M404.7 155.7h0M402.8 138.7h0M405.2 145.7h0M403.3 145.6h0M403.3 141.9h0M401.7 143.7h0M413.8 145.7h0M407.7 154.9h0M404.7 141.9h0M408.9 141h0M408.2 150.6h0M403.1 143.8h0M413.2 141.6h0M405.9 142.5h0M412.9 143.6h0M408.2 144.3h0M410.4 144.2h0M411.7 141.2h0M405.3 147.9h0M407.4 143.3h0M406.5 140.7h0M407.2 136.3h0M407.7 151.4h0M410.3 149.4h0M405.5 147.9h0M405.6 145.6h0M406.7 136.3h0M410.4 147.8h0M410.1 142.1h0M398.9 138.8h0M420.9 126.2h0M420.8 126.2h0M422.9 124.8h0M419 125.8h0M419 126.3h0M420.8 125.4h0M421.4 128.5h0M422.3 129.3h0M422.4 126.9h0M423.3 127.8h0M372.1 149.2h0M368.2 146.3h0M374.7 146.1h0M372.2 144h0M371.5 148.9h0M374.7 148.2h0M374.4 146.9h0M367.5 149.1h0M373.8 143.3h0M373.7 149.6h0M371 149.6h0M371.8 146h0M372 150.2h0M372.7 148.1h0M377.7 138.8h0M373.7 140.8h0M375.9 141.9h0" stroke="#4563AE" stroke-width="1.1" stroke-linecap="round" fill="none"/>
<text x="514.1" y="33.2" font-size="11.6" text-anchor="middle" fill="#111">Puram.myoFib</text>
<path d="M531.7 102.5h0M489.9 84.8h0M480.8 96.6h0M498.2 64.3h0M492.5 81.2h0M491.9 71.4h0M542.1 94.9h0M527 96.9h0M492.1 75.1h0M491.2 78.2h0M509.4 117.1h0M493.1 68.1h0M492.7 75.1h0M478.9 80.8h0M500.3 88.7h0M540.6 98h0M502.2 65.3h0M485.5 120.3h0M528.2 94h0M497.8 92.7h0M522.4 126.1h0M483.9 108.6h0M516.9 127.4h0M511.2 88.5h0M519.3 54.1h0M522.6 106.6h0M497.3 93.1h0M494.2 74.4h0M498.9 123.2h0M494.9 111.2h0M497.5 74.7h0M519.9 62.7h0M498.3 66.4h0M512.9 89.1h0M508.6 106.8h0M478.4 83.5h0M518.6 97h0M520.8 86.4h0M505.9 123.5h0M479.3 97h0M506.6 63.8h0M505 121.8h0M488.4 106.6h0M494.3 93.6h0M518.1 57.3h0M489.4 68.3h0M511.3 73.5h0M475.9 78.6h0M510.2 51.9h0M497.8 106.6h0M512.8 73.9h0M515.9 103.2h0M498 118.3h0M483.7 92.4h0M521.6 130.6h0M476.4 87.5h0M479.3 95.2h0M520.1 91.3h0M514.5 98h0M508.3 125.5h0M486.5 88.3h0M486.6 81.7h0M511.5 73.9h0M498.9 124.6h0M508.7 67.6h0M542.1 92.9h0M507.7 124.8h0M486.9 125.3h0M507.1 107h0M554.6 97.1h0M476.5 95h0M504.3 84.2h0M516.5 109h0M513.6 102.4h0M500.8 108h0M500.8 113.6h0M482.3 102.7h0M496.6 113.3h0M494.2 76.9h0M491.7 122.8h0M500.2 92.9h0M477.3 81.6h0M484.2 76.1h0M494.3 107h0M481.5 94.4h0M523.5 120.9h0M516.5 69.4h0M507.2 100.7h0M516.5 115h0M517.2 82.6h0M515.1 93.6h0M520 109.3h0M507.7 112h0M514.1 81.5h0M492.1 116.2h0M490.3 108.8h0M514.3 126.5h0M511 120.9h0M530 94.7h0M505.3 97h0M512 52.9h0M484.2 106.7h0M517.7 111.7h0M506.6 72.3h0M476.8 81.4h0M509.7 68.5h0M482 105.2h0M483.8 74.2h0M506.6 73.7h0M520.6 130.9h0M517.7 64.4h0M502.9 114.5h0M482.8 105.4h0M498.9 125.9h0M501.2 77.7h0M494.6 95.3h0M552 95.3h0M534.2 93.7h0M478.7 99.1h0M521.8 99.9h0M496.9 73.1h0M485.3 74.8h0M514.9 125.4h0M530.8 93.3h0M521.7 101.2h0M494.5 76.1h0M545.6 100.2h0M521.1 100.2h0M504.1 86.4h0M487.3 99.7h0M495.4 95.3h0M478.7 97.4h0M497.5 95h0M513 69.2h0M475 90.4h0M550.8 100.9h0M537.1 94.4h0M510.1 58h0M483.2 92.8h0M486.7 109.2h0M487.6 65.5h0M487.5 124.3h0M475.3 87.5h0M493.6 82.7h0M503.9 83.5h0M496.1 104.2h0M518.6 76.9h0M519.1 64.7h0M514.8 128.1h0M507.4 74.4h0M505.6 113.1h0M515.9 62.2h0M510.2 80.6h0M503.3 60.7h0M498.1 98.9h0M513.9 108.2h0M487 89.9h0M477.2 89.5h0M554.3 96.9h0M524.9 92.9h0M501.9 124.7h0M479.5 90.9h0M486.8 126.8h0M505.4 90.6h0M520.2 117.2h0M520.7 63h0M488 85.9h0M511.9 124.3h0M502 90h0M473.5 82.6h0M516.5 94h0M506.6 129.7h0M503.6 90h0M487.1 128.1h0M511 56.8h0M518.1 126.5h0M480.4 77.7h0M489 109.9h0M498.1 123.3h0M496.8 110h0M540.1 100h0M506.1 108.5h0M510.9 76.7h0M494 87h0M503.9 112.7h0M502.8 119.5h0M486.9 108.4h0M515.9 105.6h0M514.2 105.1h0M479.4 88.7h0M521.3 108.3h0M486.8 118.2h0M499.9 64.5h0M521.6 101.2h0M514.8 59.6h0M494 103.5h0M487.3 125.3h0M500.4 86.2h0M492.9 71.9h0M506.7 115.3h0M514.1 119.1h0M481.1 75h0M477 95.5h0M491.8 62.8h0M526.5 93.2h0M522.6 101.6h0M498.1 112.1h0M511.9 52.4h0M541 101.1h0M513.3 74.1h0M500.1 88.9h0M507.4 75h0M497.4 76.8h0M487.8 98.8h0M479.5 71.6h0M486.1 108.8h0M500.9 96.8h0M489.4 123.8h0M516.9 85h0M487.9 65.4h0M507 110.2h0M530.6 91.6h0M512.2 96.4h0M500.9 112h0M506.9 92.4h0M494.7 78.9h0M525.8 99.4h0M505.5 107.4h0M516.1 79.7h0M509.3 78.8h0M503.7 104.3h0M500 120.5h0M502.2 86.7h0M508.2 124.8h0M522.7 129.7h0M488.1 124.3h0M525 107.1h0M504.7 83h0M484.9 62.9h0M486 67.2h0M510 125.3h0M520.8 111.5h0M480.6 107.7h0M531.7 100.7h0M496.5 72.2h0M501.5 81.3h0M490.8 69.3h0M524.2 108.5h0M496.5 67.1h0M475.5 72.8h0M518.1 128.1h0M516.4 65.8h0M476.8 92.4h0M490.8 124.8h0M489.1 103.5h0M476.2 90.7h0M485.3 63.5h0M550.5 96.9h0M493.1 90.9h0M476.3 69h0M524.6 107.8h0M511 112.9h0M492.7 121.6h0M513.9 117.7h0M515.6 119.1h0M549.8 93.8h0M504.7 94.2h0M520.1 107.4h0M505 58.1h0M503.8 59.4h0M493.9 102.2h0M511 83.2h0M506.3 106.1h0M502.6 102.4h0M524.7 84.5h0M526.2 104.8h0M526.7 85.4h0M545.8 101.7h0M507.4 105.9h0M482.8 103.3h0M505.2 127.7h0M527.4 92.8h0M498.8 90.3h0M483.9 92.6h0M548.3 100.8h0M522.7 85.6h0M480.8 84.7h0M534.2 98.7h0M521.8 74.2h0M514.6 87.7h0M508.6 92.3h0M496.4 97.5h0M497.9 82.8h0M502.1 64.9h0M504.6 81.8h0M547.1 95.2h0M504.6 95.9h0M484.1 71.8h0M497.9 93.1h0M497.7 78.9h0M495 65.7h0M475.7 89.9h0M488.9 90.6h0M489.1 115.7h0M503.6 82.5h0M510 106.2h0M474 84h0M507.1 84.7h0M522 115.1h0M509.8 123.1h0M504.2 60.5h0M482.3 70.1h0M493.2 67.3h0M517.2 86.8h0M496 62.7h0M499.1 119.1h0M548.3 95.3h0M482.8 100.7h0M509.2 57.2h0M520.9 67.3h0M474.4 73.5h0M513.2 54.8h0M497.9 122.1h0M524.4 98.8h0M473.2 86.1h0M482 82.9h0M504.5 85.9h0M498.3 114.9h0M510.8 125.1h0M500.7 63.1h0M501.6 122.2h0M502 118h0M509.6 107.8h0M505.5 74.7h0M504 127.4h0M519.1 54.1h0M480.4 101.4h0M516.1 124.5h0M525.1 116.9h0M536.8 97.5h0M514.9 97.8h0M506.5 97.3h0M508.9 87h0M508.7 112.4h0M504.8 120.9h0M517 59.5h0M502.6 63.4h0M508.7 81h0M500.3 118.8h0M494.6 115.6h0M517.3 95.1h0M521.2 96.4h0M520.7 106.7h0M477.3 67.9h0M522.4 76.9h0M505 81.5h0M504.7 67.9h0M523.6 90.3h0M483.5 103.4h0M505.3 122.6h0M499.2 69.5h0M487.4 72.3h0M491.8 93.8h0M488.9 127.8h0M500 90.7h0M551.5 95.2h0M498.5 106.3h0M497.1 62.9h0M502 80h0M518.1 122.1h0M503.6 92.8h0M492.3 89.5h0M498 118.3h0M518 109h0M500.2 67.5h0M489.9 124.3h0M510.2 127.2h0M521.6 84.3h0M478.9 91.5h0M514.8 79.3h0M520.5 87.5h0M488.2 103.5h0M483 72.6h0M514 112.8h0M513.6 111.8h0M485.4 114.5h0M519.5 63.7h0M505.3 73.6h0M502.7 107h0M483.2 64.6h0M495.6 80.2h0M503.1 80.6h0M494.4 115.8h0M495.6 85.3h0M499.5 107.5h0M499.3 116.4h0M515.8 78.9h0M494 75.2h0M517.9 103.1h0M519.7 82.4h0M510.4 90.1h0M500.1 97.9h0M520.8 110.5h0M504.6 81.5h0M481.2 99.2h0M516.4 61.2h0M537.1 96.8h0M477.3 93.3h0M492 68.3h0M520.2 57.1h0M496.5 97.3h0M483.4 107.8h0M514.9 69.6h0M517 87.7h0M525.9 100.8h0M494.7 86h0M524 92.4h0M495.3 122.3h0M479.6 100.4h0M487.3 126.5h0M510.6 79.1h0M525.1 103.3h0M522.9 123.2h0M491.5 122h0M546 100.7h0M513.1 99.1h0M502.5 94.7h0M521.5 129.2h0M518.8 110.2h0M520.7 126.9h0M485.4 114.6h0M495.2 122.5h0M520.5 89.6h0M551.1 96.4h0M478.2 94.9h0M513.1 88.9h0M477.5 79.1h0M495.9 74.8h0M509 54.3h0M493.7 91.6h0M508.8 54.3h0M517.3 73h0M510.6 72h0M512.7 96.1h0M508.3 77.3h0M494.3 123.1h0M500.7 94.1h0M506.8 128.6h0M515.5 124.4h0M512 72.5h0M481 106.8h0M502.3 122.4h0M488.4 127.2h0M487.7 73.4h0M500.3 72.8h0M506.7 116.6h0M477.7 71.3h0M481.8 92.8h0M481.5 73.1h0M485.5 114.1h0M546 98.2h0M551.5 99.8h0M519.9 121.1h0M523.1 119.1h0M490.1 73.5h0M498.8 104.6h0M506.5 58.1h0M505.4 56.4h0M493.7 84h0M517 88.9h0M516 127.2h0M504.7 104.2h0M522.2 128.1h0M517 82.9h0M496 70.9h0M479 82.1h0M480.1 102.1h0M498.8 113.7h0M520.3 95.5h0M511.3 61.4h0M520.7 112.7h0M509.1 74.2h0M481 81.4h0M516 76.8h0M499.7 97.6h0M483.7 88.5h0M483.3 88.2h0M506.1 56.4h0M529.8 97.2h0M538 90.3h0M519.8 71.8h0M513.9 58.8h0M505 94.2h0M512.1 78.9h0M524.2 84h0M501.6 105.1h0M505.5 130.5h0M502.2 117.7h0M519.8 97.6h0M519.7 113.6h0M499.2 120.4h0M492.3 122.5h0M532 91.7h0M518.9 97.4h0M536.6 97.8h0M519.5 112.6h0M515.7 53.5h0M514.9 97.2h0M503.9 114.8h0M485.7 114.3h0M521.7 122.7h0M500.6 84.1h0M476.8 93.5h0M537 93.1h0M515.7 125.7h0M497.1 68.6h0M528.7 92.6h0M507.1 76.2h0M482.2 95.3h0M508.5 74.2h0M515.4 105.7h0M502.6 76.4h0M497.4 64.2h0M504.1 127.7h0M490 79.3h0M497.1 66.6h0M525.5 103.2h0M500 120.5h0M508.9 56.4h0M513.7 96.5h0M522.2 77.7h0M520.1 76.7h0M508.8 122.1h0M487.6 82.5h0M546.5 93.6h0M487.3 64.2h0M502.8 68.3h0M483.5 103.3h0M503.2 103.5h0M497 91.5h0M516.8 68.8h0M513.3 60.2h0M495.1 85.2h0M547 99.1h0M479.3 77h0M519.2 84.3h0M513.8 52.7h0M482.5 80.4h0M483.5 70.2h0M533.3 97.4h0M524 85.6h0M491.8 113.8h0M522.7 95.1h0M492.4 76.4h0M511.1 83.7h0M488.7 83.1h0M523.3 119h0M483.2 102.7h0M522.7 93.4h0M507.6 95.4h0M511.4 63.5h0M527.5 100.4h0M473.9 75.9h0M543.1 97.8h0M507.4 74.3h0M475.7 91.4h0M506.8 128.5h0M507.3 76.8h0M513.6 79.6h0M504.8 91.8h0M478.2 100.4h0M520.8 109.2h0M522.1 73.5h0M501.1 72.8h0M513.2 104h0M491.5 77.1h0M510.7 108h0M515.4 88.3h0M478.7 81.7h0M548.7 93.5h0M510.8 83.1h0M507.7 67h0M490.5 73.7h0M486.6 115.8h0M522.1 128.2h0M496.4 100.6h0M522.3 110.3h0M499 113.6h0M484.5 82h0M505.9 107.9h0M523.6 117.5h0M506.4 83.1h0M497.3 95h0M515.9 115.9h0M476.5 73.4h0M504 64.2h0M500.3 72h0M506.2 66h0M496.1 115.8h0M473 79.9h0M494.5 98.4h0M498.6 80.9h0M513.7 70.4h0M514.1 90.8h0M514.4 87.6h0M492 86.8h0M518.5 111.9h0M475.4 91.4h0M490 99.5h0M487 100.9h0M536.6 99.6h0M528.1 87.8h0M520.3 120.2h0M536.5 102.4h0M504.2 82.5h0M497.6 90.1h0M513.9 64.9h0M493 63.2h0M506.9 90.2h0M514.3 110.6h0M500.2 89.8h0M485.8 72.5h0M490.7 109.7h0M499 81h0M488.8 89.4h0M538.4 93.8h0M485.7 110.9h0M483.6 110.7h0M517.1 117h0M522.8 122.2h0M522.4 114.7h0M490.1 99h0M494.2 112.7h0M493 76.8h0M508.3 70.4h0M489.6 112.2h0M497.2 69.5h0M504.5 69.2h0M514.5 66.9h0M501 111.1h0M492.1 87.9h0M520 92.4h0M480.9 71h0M481.2 94.7h0M508.4 65.5h0M480 98.1h0M490.7 116.6h0M527.1 93.4h0M490.7 89.4h0M512.1 58.9h0M520.6 87.4h0M512.9 124.3h0M476.5 97.1h0M495.7 83h0M495.7 88.1h0M507.6 94.5h0M510.3 63.7h0M525.4 94.4h0M520.7 81.5h0M546.7 96.7h0M493.9 67.4h0M486.6 93.3h0M492.6 120h0M526.9 105.6h0M501.5 122.2h0M486.8 98.5h0M501.1 94.8h0M488.3 82.6h0M510.6 98.5h0M489 100.6h0M494.6 97.6h0M509.3 105h0M481 85h0M518.6 130.5h0M546.4 97.9h0M525 97.2h0M511.7 109.9h0M510.9 114.7h0M496 78.1h0M548.6 98.5h0M534.7 98.5h0M481.9 76.1h0M512.1 96.8h0M512.8 53.7h0M546.9 93.1h0M483.8 98.5h0M481.2 69.5h0M519.1 127.7h0M483.1 75.6h0M508 98.2h0M514.8 55.3h0M507.9 87.5h0M525.1 91.1h0M537.3 100.5h0M500.5 85.6h0M490.8 99.4h0M543.1 94h0M500.2 63.2h0M485.2 70.1h0M510.5 53.1h0M489 86.2h0M508.2 126.5h0M513.3 67.1h0M517.1 60.7h0M492.9 64.8h0M493.4 107.9h0M533.3 96.7h0M505.6 95.4h0M483.5 111.9h0M518.2 98.1h0M482.9 82.1h0M504.6 99.1h0M501 121.4h0M521.7 82.3h0M497.5 115.1h0M519.4 127.5h0M511.9 111h0M486.9 82.7h0M504.6 80.7h0M485.9 105.9h0M477.4 81.5h0M529 93h0M524.3 122h0M520.2 123.5h0M540.3 94.3h0M523.9 89.6h0M504.4 110.8h0M522.4 81.5h0M526.7 94.9h0M513.6 126.8h0M494.1 108h0M488.6 118.3h0M501.3 107.3h0M522.5 106.8h0M491.2 116.8h0M484.4 96.2h0M518.9 82.4h0M496.5 117.9h0M478.4 85.7h0M531.5 94h0M485.1 83.6h0M523.2 124.4h0M519.3 120.2h0M496.7 87.9h0M507.4 120.3h0M472.8 91.3h0M510.6 59.5h0M509.3 122.4h0M476 71.8h0M522.9 95.6h0M482.1 81.5h0M505.1 114.9h0M521.1 62.6h0M503.8 125.2h0M497.7 112.2h0M485.6 104.7h0M514.9 54.3h0M526.9 92.7h0M545.8 93.9h0M494.7 112.1h0M496.6 85.6h0M514 119.4h0M517.4 76.4h0M489 81.2h0M479.9 75.3h0M534.8 91.9h0M504.4 116.5h0M494.6 120.2h0M523.9 104.1h0M475.8 86.1h0M529.1 96.3h0M499.9 102.2h0M530 97h0M499.1 116.1h0M482.8 98.7h0M514 102.9h0M486.1 85.3h0M527.4 87.3h0M509.1 112.4h0M486.5 105.3h0M532 101.9h0M493 66.3h0M502.1 78.9h0M489.3 87.3h0M526.3 85.3h0M502.3 113h0M519.1 102h0M527 102.6h0M486.5 72.9h0M515.3 85.3h0M513.7 62h0M521.4 71.7h0M496.3 114.4h0M510.7 66h0M500.6 74.6h0M493.9 74.1h0M519.4 71.3h0M480 79h0M475.5 70.6h0M512 107.2h0M528 87.6h0M511.4 75.9h0M502.4 64.8h0M505 87.5h0M514.7 125.1h0M521 121.5h0M477.7 77.4h0M492.7 118.9h0M487.3 70.9h0M499.5 101h0M499.7 111.6h0M490.7 100.5h0M485.4 63.7h0M538.9 102.4h0M519.6 82h0M493.4 114.8h0M496.8 112.7h0M488.9 99.9h0M502.5 94.7h0M503.3 99.6h0M508 54.5h0M503.7 115.5h0M523.9 113.6h0M513.3 109.1h0M511.2 59.8h0M500.9 84.1h0M488.4 64.7h0M509.7 52.5h0M513.2 60.2h0M514.4 83.4h0M521 102.6h0M552.2 102.2h0M506.6 114.4h0M478.4 70.8h0M514.2 111.2h0M486.8 117.9h0M520.2 62.5h0M475 83.8h0M505.2 105.7h0M500.2 78.2h0M508.2 124.8h0M511.2 58.6h0M501.7 99h0M517.3 129h0M514.6 115.6h0M507 88.8h0M478.6 83.6h0M498.5 112.2h0M524.4 102.2h0M472.4 82.9h0M500.3 113.5h0M478 99.2h0M549.3 94.8h0M500.6 115.1h0M487.7 79.4h0M525.3 92.2h0M546.2 100.3h0M520.8 65.7h0M485.9 115.5h0M513.8 107.7h0M512.4 124.9h0M509.3 61.2h0M482.7 87.5h0M510.7 53.2h0M529.6 97.2h0M495.5 121.7h0M515.3 96h0M523.2 124.3h0M501.1 84.4h0M483.8 106.7h0M474 72.8h0M485.3 88.1h0M509.9 82.7h0M487.8 128.3h0M509.8 100.6h0M500.5 113.8h0M513.6 57.6h0M526.3 109.7h0M483.1 104.8h0M524.8 119.3h0M532.9 91.3h0M494.4 110.6h0M485.2 111.9h0M498.6 116.1h0M502.1 112.8h0M508.7 68.6h0M489 74.7h0M496.8 83.1h0M537.7 97.9h0M497.4 115.1h0M487.6 107.9h0M519.4 83.5h0M516.4 71.2h0M521.1 62.7h0M528.8 98.4h0M526.2 108.4h0M520.8 91.2h0M484.8 77.2h0M522.3 79.3h0M483.7 65.6h0M514.8 81.2h0M518.5 65h0M503.8 111h0M510.7 119.9h0M521.1 94.8h0M513.7 54.8h0M521.5 67h0M485.6 101.8h0M495.8 75.4h0M506.5 129.1h0M493.4 75.9h0M492.9 77h0M496.8 118.9h0M512.3 118.2h0M505.4 92h0M489.3 88.5h0M523.4 106.9h0M494 87.5h0M490.1 116.9h0M499.6 63.1h0M515.2 128.1h0M516.5 62h0M486.3 63.4h0M516.7 128.6h0M518.3 86.4h0M481.2 81.9h0M487.2 88.5h0M510.4 127.3h0M505.1 123.1h0M475.2 79.6h0M478.4 80.4h0M518.4 129h0M535.6 101.4h0M501.2 83.2h0M499.3 105.3h0M513.1 72.3h0M479 67.8h0M492.8 87h0M513.3 120h0M502 113.6h0M493.1 90.3h0M501.4 103.5h0M519.1 91.1h0M491.9 118.3h0M511.5 62.2h0M480.1 92.4h0M519.3 73.9h0M491.5 118.8h0M526.8 89.2h0M483.9 68.2h0M489.1 106h0M519.9 130.2h0M497.5 90.5h0M503 82.5h0M520.9 115.2h0M495 102.3h0M502.1 88.7h0M475.8 93.6h0M497.4 94.2h0M514.2 57h0M507.4 67.4h0M505.8 125.4h0M504 111.2h0M490.2 73.9h0M544.2 93.4h0M550 100.3h0M520.3 92.6h0M488.1 79.9h0M488.8 116h0M506.9 114.6h0M477.4 80.1h0M506.5 58.6h0M512 103.7h0M496.5 124.5h0M487.6 122.9h0M494.3 109.7h0M507 123.1h0M502.1 87.1h0M499.6 76.8h0M530.4 95.5h0M499.6 77.9h0M484.8 101.9h0M500.8 97.1h0M477 97.4h0M521.1 64.1h0M514.7 104.1h0M474.4 73.5h0M516.6 106.4h0M502.3 119.7h0M491.9 93.8h0M492.5 92h0M506.4 129.6h0M516.8 115.3h0M528.5 96h0M508.3 104.6h0M494.4 68.6h0M509.5 93.2h0M487.3 121.9h0M510.2 81.3h0M540.8 95.1h0M545.3 93h0M545.8 94.9h0M546.6 99.9h0M549.6 95.2h0M537.8 88.6h0M531.8 93.8h0M545.3 94.1h0M541.1 91.2h0M534.8 90.8h0M548.3 89.9h0M548.6 93.3h0M547.7 96.9h0M549 99.9h0M539.8 93h0M541.8 93.6h0M548.3 95.7h0M544.4 97.4h0M541.5 99.5h0M533.3 96.8h0M547.3 93.6h0M540.1 98.9h0M542.3 89.9h0M536.2 99.2h0M539 100.2h0M552.4 95.4h0M547.5 93.4h0M541.8 93.8h0M547.7 91.9h0M543.4 96.2h0M547.3 89.2h0M533.5 93.2h0M542.8 96.4h0M545.3 102.4h0M548.1 97.8h0M541.2 98.5h0M548.3 98.1h0M543.5 98h0M553.2 93.4h0M531.3 98.6h0M548.5 95.2h0M541.5 103.4h0M541.4 92.1h0M541.3 97.6h0M540.5 94.7h0M545.9 94.6h0M544.9 95.8h0M537.8 96.2h0M537.2 98.9h0M538.5 95.2h0M533.3 94.5h0M536.7 100.7h0M543.4 97.6h0M533.7 92h0M543.1 91.6h0M550.9 94.7h0M545 96.9h0M543.2 98.4h0M540.1 97.1h0M551.2 96.6h0M544.8 94.9h0M544.4 98.1h0M542.6 90.6h0M545 95.4h0M546.8 96h0M553.4 92.1h0M538.3 98h0M538 96.9h0M543.9 89.7h0M548 100.2h0M545.3 91.5h0M548.7 92.6h0M543.3 97.2h0M539.4 90.6h0M543.2 95.8h0M539 93.5h0M548.4 95.6h0M541.3 94h0M545 96.2h0M543 91.5h0M541.8 93.9h0M544.4 99.5h0M549.6 97.9h0M544.7 94.9h0M546 94.4h0M542 93.3h0M543.7 95.6h0M554.8 97.6h0M541.8 98.3h0M541.2 99h0M548.5 103.4h0M537.7 95.7h0M543.3 96.8h0M548.1 92.9h0M539.8 96.8h0M549.6 92.4h0M535 99.4h0M548.9 99.3h0M538.3 95.3h0M545.3 97.3h0M543.3 95.7h0M549.9 94.5h0M540.8 94.6h0M541 96.3h0M542.8 94.5h0M552.2 96.8h0M542 99.8h0M540.8 95.9h0M543.5 94.1h0M541.8 96.1h0M535.7 94.7h0M516.2 51.2h0M516.4 54.8h0M517.3 50.5h0M515.3 50.7h0M516.7 50.2h0M519.4 48.8h0M517.2 51.6h0M512.8 51.8h0M517 49.6h0M521.4 52h0M514.8 49.9h0M513.8 51.2h0M515.8 48.3h0M513 49.5h0M514.6 50.1h0M514 51.8h0M518 50.9h0M510.2 50.5h0M517 50.6h0M516.3 50.9h0M511.9 46.7h0M517.1 49.8h0M516.6 50.2h0M515.2 53.1h0M512.6 50.7h0M512.9 50.9h0M516.8 51.8h0M516 48.4h0M516.2 52.3h0M518.1 54.4h0M517 49h0M514.3 50.9h0M518.2 48.8h0M517.9 51.8h0M513.5 51.8h0M513.7 50.7h0M514.9 51.1h0M512.7 51.6h0M510.2 50h0M514.2 53.4h0M516.5 143.9h0M511.3 146h0M512.3 154.7h0M506 146.1h0M506 150h0M511.7 152.2h0M512.6 150.2h0M515.3 150.6h0M514.6 136.3h0M511.9 139.6h0M518 148h0M514.6 147.7h0M515.3 143.6h0M521.6 146.8h0M513.9 140h0M512.3 145.9h0M513.9 143.9h0M514.4 141.4h0M514.6 139.7h0M511.5 142.9h0M517.7 147.8h0M514.8 141.3h0M513.1 149h0M519.1 140h0M513 146.3h0M515.8 145.9h0M517 140.1h0M520.2 141.3h0M514.8 147.9h0M518.8 149.5h0M517.7 151h0M514 148.9h0M520.2 142.8h0M509.5 141.9h0M519.7 150.8h0M513.3 146.9h0M516.3 150.1h0M507.8 143.7h0M513.7 147.2h0M514.9 144.6h0M515.7 136.3h0M523.4 149.2h0M517.8 143.3h0M516.1 154.1h0M521.2 146.2h0M510.1 146.6h0M513.5 149.3h0M510 145.2h0M515.6 144h0M518.5 141.4h0M510.1 144.5h0M517.6 144.7h0M512.5 149.2h0M515.4 143.8h0M515.1 145h0M516.8 146.5h0M511.7 144h0M513.1 147.4h0M516 142.6h0M513.9 147.2h0M518.6 146.9h0M521.7 146h0M517.3 144.6h0M511 146.4h0M516.4 147.2h0M515.2 144.6h0M511.6 144.7h0M516.3 149.8h0M506 148.4h0M518.6 151h0M516 148.6h0M513 145.6h0M516.5 141.5h0M511.8 146.7h0M509.8 146.1h0M509.2 146.7h0M514.7 143.7h0M511.2 143.9h0M506.5 144.3h0M515.1 150.8h0M512.8 145.2h0M519.7 152.9h0M512.9 150.1h0M518.9 148h0M511 142.1h0M516.7 155.3h0M514 152.2h0M521.5 140.9h0M512.4 152h0M518.2 148.1h0M514.6 148.5h0M512.3 155.7h0M510.4 138.7h0M515.2 151.7h0M512.8 145.7h0M510.9 145.6h0M510.9 141.9h0M509.3 143.7h0M521.4 145.7h0M515.3 154.9h0M512.3 141.9h0M516.5 141h0M515.8 150.6h0M510.7 143.8h0M520.8 141.6h0M512.1 146.9h0M513.5 142.5h0M520.5 143.6h0M515.8 144.3h0M513.8 140.4h0M518 144.2h0M519.3 141.2h0M512.9 147.9h0M515 143.3h0M514.1 140.7h0M514.8 136.3h0M515.3 151.4h0M517.9 149.4h0M513.1 147.9h0M513.2 145.6h0M514.3 136.3h0M518 147.8h0M517.7 142.1h0M517.2 147.9h0M506.5 138.8h0M528.5 126.2h0M528.4 126.2h0M530.5 124.8h0M526.6 125.8h0M526.6 126.3h0M528.4 125.4h0M529 128.5h0M529.9 129.3h0M530 126.9h0M530.9 127.8h0M483.9 139.3h0M483.8 137.2h0" stroke="#D6D6D6" stroke-width="1.1" stroke-linecap="round" fill="none"/>
<path d="M484.6 147.5h0M473.1 145.3h0M479.7 149.2h0M478.6 150.3h0M475.8 146.3h0M482 148.1h0M479.4 151.2h0M482.3 146.1h0M479.8 144h0M479.1 148.9h0M474.2 151.6h0M485 149.1h0M481.9 151.5h0M478.7 150.4h0M480.3 144.5h0M476.6 146.7h0M482.3 148.2h0M482 146.9h0M475.5 152.8h0M486.1 148.9h0M478.6 150.7h0M476 147.5h0M475.1 149.1h0M479.9 147.1h0M477.3 144.5h0M476.8 150.8h0M478.2 150.9h0M476.7 147.8h0M477.9 147.4h0M481.4 143.3h0M481.3 149.6h0M479.2 148.2h0M478.6 149.6h0M479.4 146h0M479.6 150.2h0M480.3 148.1h0M479.8 146.9h0M477.9 143.7h0M478.7 150.3h0M478.1 145.9h0M485.3 138.8h0M484.9 138.4h0M482.3 141.5h0M484 140.6h0M481.3 140.8h0M483.5 141.9h0M484.9 138.3h0M485.9 140.7h0M483.1 138.9h0M482.8 140.1h0M481.3 138.2h0M480 139.5h0M491.1 127.5h0M490.6 129.6h0M488.5 131h0M486.7 132.4h0M485.4 135.4h0" stroke="#9C8CC4" stroke-width="1.1" stroke-linecap="round" fill="none"/>
<text x="621.7" y="33.2" font-size="11.6" text-anchor="middle" fill="#111" font-style="italic">CXCL8</text>
<path d="M605.8 64.3h0M600.1 81.2h0M599.5 71.4h0M634.6 96.9h0M599.7 75.1h0M598.8 78.2h0M617 117.1h0M600.7 68.1h0M600.3 75.1h0M586.5 80.8h0M607.9 88.7h0M609.8 65.3h0M593.1 120.3h0M605.4 92.7h0M630 126.1h0M591.5 108.6h0M630.2 106.6h0M604.9 93.1h0M601.8 74.4h0M606.5 123.2h0M602.5 111.2h0M605.1 74.7h0M627.5 62.7h0M605.9 66.4h0M620.5 89.1h0M586 83.5h0M626.2 97h0M586.9 97h0M614.2 63.8h0M612.6 121.8h0M596 106.6h0M601.9 93.6h0M625.7 57.3h0M618.9 73.5h0M583.5 78.6h0M617.8 51.9h0M620.4 73.9h0M605.6 118.3h0M591.3 92.4h0M629.2 130.6h0M584 87.5h0M586.9 95.2h0M615.9 125.5h0M594.1 88.3h0M619.1 73.9h0M606.5 124.6h0M616.3 67.6h0M594.5 125.3h0M614.7 107h0M584.1 95h0M611.9 84.2h0M624.1 109h0M621.2 102.4h0M608.4 108h0M608.4 113.6h0M589.9 102.7h0M601.8 76.9h0M584.9 81.6h0M591.8 76.1h0M589.1 94.4h0M624.1 69.4h0M614.8 100.7h0M624.1 115h0M624.8 82.6h0M622.7 93.6h0M627.6 109.3h0M599.7 116.2h0M597.9 108.8h0M621.9 126.5h0M612.9 97h0M591.8 106.7h0M614.2 72.3h0M584.4 81.4h0M617.3 68.5h0M589.6 105.2h0M591.4 74.2h0M614.2 73.7h0M628.2 130.9h0M625.3 64.4h0M590.4 105.4h0M606.5 125.9h0M608.8 77.7h0M602.2 95.3h0M586.3 99.1h0M604.5 73.1h0M592.9 74.8h0M622.5 125.4h0M602.1 76.1h0M628.7 100.2h0M611.7 86.4h0M594.9 99.7h0M603 95.3h0M586.3 97.4h0M605.1 95h0M620.6 69.2h0M582.6 90.4h0M658.4 100.9h0M644.7 94.4h0M590.8 92.8h0M594.3 109.2h0M595.2 65.5h0M595.1 124.3h0M582.9 87.5h0M601.2 82.7h0M611.5 83.5h0M603.7 104.2h0M626.2 76.9h0M626.7 64.7h0M622.4 128.1h0M615 74.4h0M613.2 113.1h0M623.5 62.2h0M617.8 80.6h0M610.9 60.7h0M605.7 98.9h0M621.5 108.2h0M594.6 89.9h0M584.8 89.5h0M609.5 124.7h0M587.1 90.9h0M594.4 126.8h0M613 90.6h0M627.8 117.2h0M628.3 63h0M595.6 85.9h0M619.5 124.3h0M609.6 90h0M581.1 82.6h0M614.2 129.7h0M611.2 90h0M594.7 128.1h0M618.6 56.8h0M625.7 126.5h0M588 77.7h0M596.6 109.9h0M605.7 123.3h0M604.4 110h0M613.7 108.5h0M618.5 76.7h0M601.6 87h0M611.5 112.7h0M610.4 119.5h0M594.5 108.4h0M621.8 105.1h0M587 88.7h0M628.9 108.3h0M594.4 118.2h0M607.5 64.5h0M629.2 101.2h0M601.6 103.5h0M594.9 125.3h0M608 86.2h0M600.5 71.9h0M614.3 115.3h0M621.7 119.1h0M584.6 95.5h0M599.4 62.8h0M634.1 93.2h0M630.2 101.6h0M619.5 52.4h0M620.9 74.1h0M607.7 88.9h0M615 75h0M605 76.8h0M595.4 98.8h0M587.1 71.6h0M593.7 108.8h0M608.5 96.8h0M597 123.8h0M624.5 85h0M595.5 65.4h0M614.6 110.2h0M602.3 78.9h0M633.4 99.4h0M611.3 104.3h0M607.6 120.5h0M609.8 86.7h0M615.8 124.8h0M632.6 107.1h0M612.3 83h0M592.5 62.9h0M593.6 67.2h0M617.6 125.3h0M588.2 107.7h0M604.1 72.2h0M598.4 69.3h0M631.8 108.5h0M604.1 67.1h0M583.1 72.8h0M584.4 92.4h0M598.4 124.8h0M596.7 103.5h0M583.8 90.7h0M592.9 63.5h0M583.9 69h0M632.2 107.8h0M600.3 121.6h0M621.5 117.7h0M623.2 119.1h0M612.3 94.2h0M601.5 102.2h0M618.6 83.2h0M613.9 106.1h0M610.2 102.4h0M633.8 104.8h0M634.3 85.4h0M615 105.9h0M590.4 103.3h0M612.8 127.7h0M606.4 90.3h0M591.5 92.6h0M630.3 85.6h0M588.4 84.7h0M622.2 87.7h0M616.2 92.3h0M604 97.5h0M605.5 82.8h0M612.2 81.8h0M612.2 95.9h0M591.7 71.8h0M605.5 93.1h0M605.3 78.9h0M602.6 65.7h0M583.3 89.9h0M596.5 90.6h0M596.7 115.7h0M611.2 82.5h0M617.6 106.2h0M581.6 84h0M614.7 84.7h0M629.6 115.1h0M611.8 60.5h0M589.9 70.1h0M624.8 86.8h0M603.6 62.7h0M606.7 119.1h0M655.9 95.3h0M590.4 100.7h0M616.8 57.2h0M628.5 67.3h0M582 73.5h0M620.8 54.8h0M605.5 122.1h0M632 98.8h0M580.8 86.1h0M589.6 82.9h0M612.1 85.9h0M605.9 114.9h0M618.4 125.1h0M617.2 107.8h0M613.1 74.7h0M626.7 54.1h0M588 101.4h0M623.7 124.5h0M644.4 97.5h0M622.5 97.8h0M614.1 97.3h0M616.3 112.4h0M612.4 120.9h0M624.6 59.5h0M610.2 63.4h0M616.3 81h0M607.9 118.8h0M602.2 115.6h0M624.9 95.1h0M628.8 96.4h0M628.3 106.7h0M584.9 67.9h0M630 76.9h0M612.6 81.5h0M612.3 67.9h0M631.2 90.3h0M591.1 103.4h0M612.9 122.6h0M606.8 69.5h0M595 72.3h0M599.4 93.8h0M607.6 90.7h0M606.1 106.3h0M604.7 62.9h0M609.6 80h0M625.7 122.1h0M611.2 92.8h0M599.9 89.5h0M605.6 118.3h0M625.6 109h0M607.8 67.5h0M597.5 124.3h0M586.5 91.5h0M622.4 79.3h0M628.1 87.5h0M590.6 72.6h0M593 114.5h0M627.1 63.7h0M612.9 73.6h0M610.3 107h0M590.8 64.6h0M603.2 80.2h0M610.7 80.6h0M602 115.8h0M603.2 85.3h0M607.1 107.5h0M601.6 75.2h0M625.5 103.1h0M618 90.1h0M607.7 97.9h0M612.2 81.5h0M588.8 99.2h0M624 61.2h0M584.9 93.3h0M599.6 68.3h0M627.8 57.1h0M604.1 97.3h0M591 107.8h0M622.5 69.6h0M624.6 87.7h0M633.5 100.8h0M602.3 86h0M602.9 122.3h0M587.2 100.4h0M594.9 126.5h0M618.2 79.1h0M632.7 103.3h0M630.5 123.2h0M620.7 99.1h0M610.1 94.7h0M629.1 129.2h0M626.4 110.2h0M628.3 126.9h0M593 114.6h0M628.1 89.6h0M658.7 96.4h0M620.7 88.9h0M585.1 79.1h0M603.5 74.8h0M616.6 54.3h0M601.3 91.6h0M616.4 54.3h0M618.2 72h0M620.3 96.1h0M615.9 77.3h0M601.9 123.1h0M608.3 94.1h0M614.4 128.6h0M623.1 124.4h0M619.6 72.5h0M588.6 106.8h0M596 127.2h0M595.3 73.4h0M607.9 72.8h0M614.3 116.6h0M589.1 73.1h0M593.1 114.1h0M627.5 121.1h0M597.7 73.5h0M606.4 104.6h0M614.1 58.1h0M613 56.4h0M612.3 104.2h0M624.6 82.9h0M586.6 82.1h0M587.7 102.1h0M627.9 95.5h0M618.9 61.4h0M628.3 112.7h0M616.7 74.2h0M623.6 76.8h0M591.3 88.5h0M590.9 88.2h0M613.7 56.4h0M621.5 58.8h0M619.7 78.9h0M631.8 84h0M609.2 105.1h0M613.1 130.5h0M609.8 117.7h0M627.4 97.6h0M627.3 113.6h0M599.9 122.5h0M626.5 97.4h0M627.1 112.6h0M623.3 53.5h0M622.5 97.2h0M611.5 114.8h0M593.3 114.3h0M608.2 84.1h0M584.4 93.5h0M604.7 68.6h0M636.3 92.6h0M614.7 76.2h0M589.8 95.3h0M623 105.7h0M610.2 76.4h0M605 64.2h0M611.7 127.7h0M597.6 79.3h0M604.7 66.6h0M633.1 103.2h0M607.6 120.5h0M616.5 56.4h0M629.8 77.7h0M616.4 122.1h0M595.2 82.5h0M594.9 64.2h0M610.4 68.3h0M591.1 103.3h0M624.4 68.8h0M620.9 60.2h0M602.7 85.2h0M654.6 99.1h0M586.9 77h0M626.8 84.3h0M621.4 52.7h0M590.1 80.4h0M591.1 70.2h0M631.6 85.6h0M599.4 113.8h0M630.3 95.1h0M600 76.4h0M618.7 83.7h0M596.3 83.1h0M630.9 119h0M590.8 102.7h0M630.3 93.4h0M615.2 95.4h0M635.1 100.4h0M581.5 75.9h0M615 74.3h0M583.3 91.4h0M614.9 76.8h0M612.4 91.8h0M585.8 100.4h0M628.4 109.2h0M629.7 73.5h0M608.7 72.8h0M620.8 104h0M599.1 77.1h0M618.3 108h0M586.3 81.7h0M618.4 83.1h0M615.3 67h0M598.1 73.7h0M594.2 115.8h0M629.7 128.2h0M604 100.6h0M606.6 113.6h0M592.1 82h0M613.5 107.9h0M631.2 117.5h0M614 83.1h0M604.9 95h0M623.5 115.9h0M584.1 73.4h0M611.6 64.2h0M607.9 72h0M613.8 66h0M603.7 115.8h0M580.6 79.9h0M602.1 98.4h0M606.2 80.9h0M621.3 70.4h0M621.7 90.8h0M622 87.6h0M599.6 86.8h0M626.1 111.9h0M583 91.4h0M597.6 99.5h0M594.6 100.9h0M627.9 120.2h0M644.1 102.4h0M611.8 82.5h0M605.2 90.1h0M621.5 64.9h0M600.6 63.2h0M614.5 90.2h0M621.9 110.6h0M607.8 89.8h0M593.4 72.5h0M598.3 109.7h0M606.6 81h0M596.4 89.4h0M593.3 110.9h0M591.2 110.7h0M624.7 117h0M630.4 122.2h0M597.7 99h0M601.8 112.7h0M600.6 76.8h0M615.9 70.4h0M597.2 112.2h0M604.8 69.5h0M612.1 69.2h0M622.1 66.9h0M608.6 111.1h0M599.7 87.9h0M627.6 92.4h0M588.5 71h0M588.8 94.7h0M587.6 98.1h0M598.3 116.6h0M598.3 89.4h0M619.7 58.9h0M628.2 87.4h0M620.5 124.3h0M584.1 97.1h0M603.3 83h0M615.2 94.5h0M617.9 63.7h0M633 94.4h0M628.3 81.5h0M601.5 67.4h0M594.2 93.3h0M634.5 105.6h0M594.4 98.5h0M608.7 94.8h0M595.9 82.6h0M618.2 98.5h0M596.6 100.6h0M602.2 97.6h0M588.6 85h0M626.2 130.5h0M619.3 109.9h0M603.6 78.1h0M589.5 76.1h0M619.7 96.8h0M620.4 53.7h0M591.4 98.5h0M588.8 69.5h0M626.7 127.7h0M590.7 75.6h0M615.6 98.2h0M622.4 55.3h0M615.5 87.5h0M632.7 91.1h0M608.1 85.6h0M598.4 99.4h0M650.7 94h0M607.8 63.2h0M592.8 70.1h0M618.1 53.1h0M596.6 86.2h0M620.9 67.1h0M624.7 60.7h0M600.5 64.8h0M601 107.9h0M613.2 95.4h0M591.1 111.9h0M625.8 98.1h0M590.5 82.1h0M612.2 99.1h0M608.6 121.4h0M605.1 115.1h0M627 127.5h0M619.5 111h0M612.2 80.7h0M593.5 105.9h0M585 81.5h0M636.6 93h0M631.9 122h0M627.8 123.5h0M647.9 94.3h0M631.5 89.6h0M612 110.8h0M630 81.5h0M634.3 94.9h0M601.7 108h0M596.2 118.3h0M608.9 107.3h0M630.1 106.8h0M598.8 116.8h0M626.5 82.4h0M604.1 117.9h0M586 85.7h0M592.7 83.6h0M626.9 120.2h0M604.3 87.9h0M615 120.3h0M580.4 91.3h0M618.2 59.5h0M616.9 122.4h0M583.6 71.8h0M630.5 95.6h0M589.7 81.5h0M612.7 114.9h0M593.2 104.7h0M622.5 54.3h0M634.5 92.7h0M602.3 112.1h0M604.2 85.6h0M621.6 119.4h0M625 76.4h0M596.6 81.2h0M587.5 75.3h0M612 116.5h0M602.2 120.2h0M583.4 86.1h0M606.7 116.1h0M590.4 98.7h0M621.6 102.9h0M593.7 85.3h0M594.1 105.3h0M639.6 101.9h0M600.6 66.3h0M609.7 78.9h0M596.9 87.3h0M609.9 113h0M626.7 102h0M634.6 102.6h0M594.1 72.9h0M622.9 85.3h0M621.3 62h0M603.9 114.4h0M618.3 66h0M608.2 74.6h0M601.5 74.1h0M627 71.3h0M587.6 79h0M583.1 70.6h0M619.6 107.2h0M635.6 87.6h0M619 75.9h0M610 64.8h0M612.6 87.5h0M600.3 118.9h0M594.9 70.9h0M607.1 101h0M607.3 111.6h0M598.3 100.5h0M593 63.7h0M601 114.8h0M604.4 112.7h0M596.5 99.9h0M610.1 94.7h0M610.9 99.6h0M615.6 54.5h0M611.3 115.5h0M631.5 113.6h0M618.8 59.8h0M608.5 84.1h0M596 64.7h0M617.3 52.5h0M620.8 60.2h0M622 83.4h0M586 70.8h0M621.8 111.2h0M627.8 62.5h0M582.6 83.8h0M607.8 78.2h0M615.8 124.8h0M618.8 58.6h0M609.3 99h0M614.6 88.8h0M606.1 112.2h0M632 102.2h0M580 82.9h0M585.6 99.2h0M595.3 79.4h0M632.9 92.2h0M628.4 65.7h0M593.5 115.5h0M621.4 107.7h0M620 124.9h0M616.9 61.2h0M590.3 87.5h0M618.3 53.2h0M637.2 97.2h0M622.9 96h0M630.8 124.3h0M608.7 84.4h0M591.4 106.7h0M581.6 72.8h0M592.9 88.1h0M617.5 82.7h0M617.4 100.6h0M608.1 113.8h0M609.7 112.8h0M616.3 68.6h0M596.6 74.7h0M604.4 83.1h0M605 115.1h0M627 83.5h0M624 71.2h0M628.7 62.7h0M636.4 98.4h0M633.8 108.4h0M592.4 77.2h0M629.9 79.3h0M591.3 65.6h0M622.4 81.2h0M626.1 65h0M611.4 111h0M618.3 119.9h0M621.3 54.8h0M629.1 67h0M603.4 75.4h0M614.1 129.1h0M601 75.9h0M600.5 77h0M604.4 118.9h0M619.9 118.2h0M613 92h0M596.9 88.5h0M631 106.9h0M601.6 87.5h0M597.7 116.9h0M607.2 63.1h0M622.8 128.1h0M624.1 62h0M593.9 63.4h0M624.3 128.6h0M588.8 81.9h0M594.8 88.5h0M618 127.3h0M582.8 79.6h0M586 80.4h0M626 129h0M608.8 83.2h0M606.9 105.3h0M620.7 72.3h0M586.6 67.8h0M600.4 87h0M620.9 120h0M600.7 90.3h0M609 103.5h0M626.7 91.1h0M599.5 118.3h0M619.1 62.2h0M587.7 92.4h0M626.9 73.9h0M599.1 118.8h0M591.5 68.2h0M596.7 106h0M605.1 90.5h0M610.6 82.5h0M628.5 115.2h0M602.6 102.3h0M609.7 88.7h0M583.4 93.6h0M605 94.2h0M621.8 57h0M613.4 125.4h0M611.6 111.2h0M597.8 73.9h0M595.7 79.9h0M596.4 116h0M614.5 114.6h0M585 80.1h0M614.1 58.6h0M619.6 103.7h0M604.1 124.5h0M595.2 122.9h0M601.9 109.7h0M614.6 123.1h0M609.7 87.1h0M607.2 76.8h0M607.2 77.9h0M592.4 101.9h0M608.4 97.1h0M584.6 97.4h0M628.7 64.1h0M622.3 104.1h0M582 73.5h0M624.2 106.4h0M609.9 119.7h0M600.1 92h0M602 68.6h0M594.9 121.9h0M617.8 81.3h0M655.3 96.9h0M654.9 93.6h0M660 95.4h0M655.1 93.4h0M648.1 94.7h0M650.2 90.6h0M645.6 96.9h0M652.3 94.9h0M647.4 96.8h0M650.4 94.5h0M623.8 51.2h0M624 54.8h0M624.9 50.5h0M622.9 50.7h0M624.3 50.2h0M627 48.8h0M624.8 51.6h0M620.4 51.8h0M624.6 49.6h0M629 52h0M622.4 49.9h0M621.4 51.2h0M623.4 48.3h0M620.6 49.5h0M622.2 50.1h0M621.6 51.8h0M625.6 50.9h0M617.8 50.5h0M624.6 50.6h0M623.9 50.9h0M619.5 46.7h0M624.7 49.8h0M624.2 50.2h0M622.8 53.1h0M620.2 50.7h0M620.5 50.9h0M624.4 51.8h0M623.6 48.4h0M623.8 52.3h0M625.7 54.4h0M624.6 49h0M621.9 50.9h0M625.8 48.8h0M625.5 51.8h0M621.1 51.8h0M621.3 50.7h0M622.5 51.1h0M620.3 51.6h0M617.8 50h0M621.8 53.4h0M624.1 143.9h0M618.9 146h0M619.9 154.7h0M613.6 146.1h0M613.6 150h0M619.3 152.2h0M620.2 150.2h0M622.9 150.6h0M622.2 136.3h0M619.5 139.6h0M625.6 148h0M622.9 143.6h0M621.5 140h0M619.9 145.9h0M621.5 143.9h0M622 141.4h0M619.1 142.9h0M625.3 147.8h0M620.7 149h0M626.7 140h0M620.6 146.3h0M623.4 145.9h0M624.6 140.1h0M627.8 141.3h0M622.4 147.9h0M626.4 149.5h0M625.3 151h0M621.6 148.9h0M627.8 142.8h0M617.1 141.9h0M615.4 143.7h0M622.5 144.6h0M631 149.2h0M625.4 143.3h0M628.8 146.2h0M617.7 146.6h0M617.6 145.2h0M626.1 141.4h0M617.7 144.5h0M625.2 144.7h0M620.1 149.2h0M623 143.8h0M622.7 145h0M624.4 146.5h0M619.3 144h0M620.7 147.4h0M623.6 142.6h0M621.5 147.2h0M626.2 146.9h0M629.3 146h0M618.6 146.4h0M624 147.2h0M622.8 144.6h0M623.9 149.8h0M613.6 148.4h0M623.6 148.6h0M620.6 145.6h0M619.4 146.7h0M617.4 146.1h0M616.8 146.7h0M622.3 143.7h0M618.8 143.9h0M614.1 144.3h0M622.7 150.8h0M620.4 145.2h0M627.3 152.9h0M620.5 150.1h0M626.5 148h0M624.3 155.3h0M621.6 152.2h0M629.1 140.9h0M620 152h0M625.8 148.1h0M622.2 148.5h0M619.9 155.7h0M622.8 151.7h0M620.4 145.7h0M618.5 141.9h0M629 145.7h0M622.9 154.9h0M623.4 150.6h0M618.3 143.8h0M628.4 141.6h0M619.7 146.9h0M628.1 143.6h0M621.4 140.4h0M625.6 144.2h0M626.9 141.2h0M620.5 147.9h0M622.6 143.3h0M621.7 140.7h0M622.4 136.3h0M622.9 151.4h0M625.5 149.4h0M620.7 147.9h0M620.8 145.6h0M621.9 136.3h0M625.6 147.8h0M625.3 142.1h0M624.8 147.9h0M636.1 126.2h0M636 126.2h0M638.1 124.8h0M634.2 126.3h0M636 125.4h0M637.5 129.3h0M637.6 126.9h0M638.5 127.8h0M592.2 147.5h0M580.7 145.3h0M587.3 149.2h0M586.2 150.3h0M583.4 146.3h0M589.6 148.1h0M587 151.2h0M589.9 146.1h0M587.4 144h0M586.7 148.9h0M581.8 151.6h0M592.6 149.1h0M589.5 151.5h0M586.3 150.4h0M587.9 144.5h0M584.2 146.7h0M589.9 148.2h0M589.6 146.9h0M583.1 152.8h0M593.7 148.9h0M586.2 150.7h0M583.6 147.5h0M582.7 149.1h0M587.5 147.1h0M584.9 144.5h0M584.4 150.8h0M585.8 150.9h0M584.3 147.8h0M585.5 147.4h0M589 143.3h0M588.9 149.6h0M586.8 148.2h0M586.2 149.6h0M587 146h0M587.2 150.2h0M587.9 148.1h0M587.4 146.9h0M585.5 143.7h0M586.3 150.3h0M585.7 145.9h0M592.9 138.8h0M591.5 139.3h0M592.5 138.4h0M589.9 141.5h0M591.4 137.2h0M591.6 140.6h0M588.9 140.8h0M591.1 141.9h0M592.5 138.3h0M593.5 140.7h0M590.7 138.9h0M590.4 140.1h0M588.9 138.2h0M587.6 139.5h0M598.7 127.5h0M598.2 129.6h0M596.1 131h0M594.3 132.4h0M593 135.4h0" stroke="#D6D6D6" stroke-width="1.1" stroke-linecap="round" fill="none"/>
<path d="M639.3 102.5h0M597.5 84.8h0M588.4 96.6h0M649.7 94.9h0M648.2 98h0M635.8 94h0M624.5 127.4h0M618.8 88.5h0M626.9 54.1h0M616.2 106.8h0M628.4 86.4h0M613.5 123.5h0M597 68.3h0M605.4 106.6h0M623.5 103.2h0M627.7 91.3h0M622.1 98h0M594.2 81.7h0M649.7 92.9h0M615.3 124.8h0M662.2 97.1h0M604.2 113.3h0M599.3 122.8h0M607.8 92.9h0M601.9 107h0M631.1 120.9h0M615.3 112h0M621.7 81.5h0M618.6 120.9h0M637.6 94.7h0M619.6 52.9h0M625.3 111.7h0M610.5 114.5h0M659.6 95.3h0M641.8 93.7h0M629.4 99.9h0M638.4 93.3h0M629.3 101.2h0M653.2 100.2h0M617.7 58h0M661.9 96.9h0M632.5 92.9h0M624.1 94h0M647.7 100h0M623.5 105.6h0M622.4 59.6h0M588.7 75h0M605.7 112.1h0M648.6 101.1h0M638.2 91.6h0M619.8 96.4h0M608.5 112h0M614.5 92.4h0M613.1 107.4h0M623.7 79.7h0M616.9 78.8h0M630.3 129.7h0M595.7 124.3h0M628.4 111.5h0M639.3 100.7h0M609.1 81.3h0M625.7 128.1h0M624 65.8h0M658.1 96.9h0M600.7 90.9h0M618.6 112.9h0M657.4 93.8h0M627.7 107.4h0M612.6 58.1h0M611.4 59.4h0M632.3 84.5h0M653.4 101.7h0M635 92.8h0M655.9 100.8h0M641.8 98.7h0M629.4 74.2h0M609.7 64.9h0M654.7 95.2h0M617.4 123.1h0M600.8 67.3h0M608.3 63.1h0M609.2 122.2h0M609.6 118h0M611.6 127.4h0M632.7 116.9h0M616.5 87h0M596.5 127.8h0M659.1 95.2h0M617.8 127.2h0M629.2 84.3h0M595.8 103.5h0M621.6 112.8h0M621.2 111.8h0M606.9 116.4h0M623.4 78.9h0M627.3 82.4h0M628.4 110.5h0M644.7 96.8h0M631.6 92.4h0M599.1 122h0M653.6 100.7h0M602.8 122.5h0M585.8 94.9h0M624.9 73h0M609.9 122.4h0M585.3 71.3h0M589.4 92.8h0M653.6 98.2h0M659.1 99.8h0M630.7 119.1h0M601.3 84h0M624.6 88.9h0M623.6 127.2h0M629.8 128.1h0M603.6 70.9h0M606.4 113.7h0M588.6 81.4h0M607.3 97.6h0M637.4 97.2h0M645.6 90.3h0M627.4 71.8h0M612.6 94.2h0M606.8 120.4h0M639.6 91.7h0M644.2 97.8h0M629.3 122.7h0M644.6 93.1h0M623.3 125.7h0M616.1 74.2h0M621.3 96.5h0M627.7 76.7h0M654.1 93.6h0M610.8 103.5h0M604.6 91.5h0M640.9 97.4h0M619 63.5h0M650.7 97.8h0M614.4 128.5h0M621.2 79.6h0M623 88.3h0M656.3 93.5h0M629.9 110.3h0M644.2 99.6h0M635.7 87.8h0M646 93.8h0M630 114.7h0M616 65.5h0M634.7 93.4h0M603.3 88.1h0M654.3 96.7h0M600.2 120h0M609.1 122.2h0M616.9 105h0M654 97.9h0M632.6 97.2h0M618.5 114.7h0M656.2 98.5h0M642.3 98.5h0M654.5 93.1h0M644.9 100.5h0M615.8 126.5h0M640.9 96.7h0M629.3 82.3h0M594.5 82.7h0M621.2 126.8h0M592 96.2h0M639.1 94h0M630.8 124.4h0M628.7 62.6h0M611.4 125.2h0M605.3 112.2h0M653.4 93.9h0M642.4 91.9h0M631.5 104.1h0M636.7 96.3h0M607.5 102.2h0M637.6 97h0M635 87.3h0M616.7 112.4h0M633.9 85.3h0M629 71.7h0M622.3 125.1h0M628.6 121.5h0M585.3 77.4h0M646.5 102.4h0M627.2 82h0M620.9 109.1h0M628.6 102.6h0M659.8 102.2h0M614.2 114.4h0M594.4 117.9h0M612.8 105.7h0M624.9 129h0M622.2 115.6h0M586.2 83.6h0M607.9 113.5h0M656.9 94.8h0M608.2 115.1h0M653.8 100.3h0M603.1 121.7h0M595.4 128.3h0M621.2 57.6h0M633.9 109.7h0M590.7 104.8h0M632.4 119.3h0M640.5 91.3h0M602 110.6h0M592.8 111.9h0M606.2 116.1h0M645.3 97.9h0M595.2 107.9h0M628.4 91.2h0M628.7 94.8h0M593.2 101.8h0M625.9 86.4h0M612.7 123.1h0M643.2 101.4h0M609.6 113.6h0M634.4 89.2h0M627.5 130.2h0M615 67.4h0M651.8 93.4h0M657.6 100.3h0M627.9 92.6h0M638 95.5h0M599.5 93.8h0M614 129.6h0M624.4 115.3h0M636.1 96h0M615.9 104.6h0M617.1 93.2h0M648.4 95.1h0M652.9 93h0M653.4 94.9h0M654.2 99.9h0M657.2 95.2h0M645.4 88.6h0M639.4 93.8h0M652.9 94.1h0M648.7 91.2h0M642.4 90.8h0M655.9 89.9h0M656.2 93.3h0M656.6 99.9h0M647.4 93h0M649.4 93.6h0M655.9 95.7h0M652 97.4h0M649.1 99.5h0M640.9 96.8h0M647.7 98.9h0M649.9 89.9h0M643.8 99.2h0M646.6 100.2h0M649.4 93.8h0M655.3 91.9h0M651 96.2h0M654.9 89.2h0M641.1 93.2h0M650.4 96.4h0M652.9 102.4h0M655.7 97.8h0M648.8 98.5h0M655.9 98.1h0M651.1 98h0M660.8 93.4h0M638.9 98.6h0M656.1 95.2h0M649.1 103.4h0M649 92.1h0M648.9 97.6h0M653.5 94.6h0M652.5 95.8h0M645.4 96.2h0M644.8 98.9h0M646.1 95.2h0M640.9 94.5h0M644.3 100.7h0M651 97.6h0M641.3 92h0M650.7 91.6h0M658.5 94.7h0M652.6 96.9h0M650.8 98.4h0M647.7 97.1h0M658.8 96.6h0M652.4 94.9h0M652 98.1h0M652.6 95.4h0M654.4 96h0M661 92.1h0M645.9 98h0M651.5 89.7h0M655.6 100.2h0M652.9 91.5h0M656.3 92.6h0M650.9 97.2h0M647 90.6h0M650.8 95.8h0M646.6 93.5h0M656 95.6h0M648.9 94h0M652.6 96.2h0M650.6 91.5h0M649.4 93.9h0M652 99.5h0M657.2 97.9h0M653.6 94.4h0M649.6 93.3h0M651.3 95.6h0M662.4 97.6h0M649.4 98.3h0M648.8 99h0M656.1 103.4h0M645.3 95.7h0M650.9 96.8h0M655.7 92.9h0M657.2 92.4h0M642.6 99.4h0M656.5 99.3h0M645.9 95.3h0M652.9 97.3h0M650.9 95.7h0M657.5 94.5h0M648.4 94.6h0M648.6 96.3h0M659.8 96.8h0M649.6 99.8h0M648.4 95.9h0M651.1 94.1h0M649.4 96.1h0M643.3 94.7h0M622.2 147.7h0M629.2 146.8h0M622.2 139.7h0M622.4 141.3h0M627.3 150.8h0M620.9 146.9h0M623.9 150.1h0M621.3 147.2h0M623.3 136.3h0M623.7 154.1h0M621.1 149.3h0M623.2 144h0M624.9 144.6h0M619.2 144.7h0M626.2 151h0M624.1 141.5h0M618.6 142.1h0M618 138.7h0M618.5 145.6h0M616.9 143.7h0M619.9 141.9h0M624.1 141h0M621.1 142.5h0M623.4 144.3h0M614.1 138.8h0M634.2 125.8h0M636.6 128.5h0" stroke="#E8286E" stroke-width="1.1" stroke-linecap="round" fill="none"/>
<text x="8" y="195.7" font-size="18.5" text-anchor="start" fill="#000" font-weight="bold">c</text>
<g stroke="#EEEEEE" stroke-width="0.7"><line x1="40.7" y1="212.5" x2="40.7" y2="347.5"/><line x1="67.5" y1="212.5" x2="67.5" y2="347.5"/><line x1="94.0" y1="212.5" x2="94.0" y2="347.5"/><line x1="120.5" y1="212.5" x2="120.5" y2="347.5"/><line x1="147.4" y1="212.5" x2="147.4" y2="347.5"/><line x1="24" y1="218.6" x2="166" y2="218.6"/><line x1="24" y1="242.7" x2="166" y2="242.7"/><line x1="24" y1="266.5" x2="166" y2="266.5"/><line x1="24" y1="290.5" x2="166" y2="290.5"/><line x1="24" y1="314.6" x2="166" y2="314.6"/><line x1="24" y1="338.6" x2="166" y2="338.6"/></g>
<line x1="23.6" y1="212.5" x2="23.6" y2="342.7" stroke="#8A8A8A" stroke-width="1"/>
<line x1="30" y1="349.3" x2="159" y2="349.3" stroke="#8A8A8A" stroke-width="1.1"/>
<text x="18.8" y="278" font-size="10.5" text-anchor="middle" fill="#111" transform="rotate(-90 18.8 278)">DC2</text>
<text x="94.3" y="360.8" font-size="10.5" text-anchor="middle" fill="#111">DC1</text>
<path d="M130.2 313.3h0M108 303h0M97.6 278.8h0M97.8 275.4h0M150.2 318.1h0M118.3 302.6h0M127.9 303.4h0M133.6 255.5h0M141 296.7h0M143.5 279.4h0M101.6 292.8h0M103 299.3h0M126 307.2h0M95.4 290.3h0M144.3 324.7h0M106 292.3h0M149.9 320.3h0M129.5 292.5h0M104.9 294.5h0M149.3 309.5h0M146.1 300.4h0M121.2 310.5h0M118 298h0M103.8 276.2h0M121.9 281.3h0M113.1 297.5h0M134.2 313.6h0M121.2 264.7h0M128.8 312.4h0M118.8 291.9h0M105.2 287.7h0M105.2 294.4h0M122.6 313.6h0M125.2 293.1h0M118.7 262.7h0M109.7 264.7h0M144 276h0M133.6 299.5h0M137.2 274.4h0M122.3 309.2h0M118.7 255.1h0M111.9 300.2h0M151.4 331.1h0M108 276.2h0M132.3 285.8h0M133.2 262.3h0M102.4 270.7h0M116.4 259.5h0M135.7 320.3h0M111 305.8h0M96.2 281.2h0M106.5 281.9h0M133.2 275.6h0M118 274.4h0M146 292.8h0M148.8 297h0M127.1 302.2h0M138.4 309.1h0M136.4 282h0M121.9 265.8h0M149 312.5h0M151.6 304.4h0M140.9 275.6h0M138.4 287.2h0M108.4 284.1h0M142.8 272.7h0M141.7 320h0M131.7 268.3h0M139.5 314.3h0M129.2 313.7h0M122.5 292.4h0M136.2 320.2h0M146.9 284.1h0M109.5 267.7h0M106.8 274.2h0M133.7 275.2h0M143.4 282.3h0M124.7 269.5h0M110.2 310.1h0M133.8 287h0M132.9 273.6h0M156.2 327.7h0M129 294.6h0M112.7 304.6h0M109.6 271.6h0M138.3 303.1h0M127.4 277.4h0M116.4 266h0M116.2 256.5h0M100 271.7h0M97.9 295.1h0M141.2 294.7h0M98.2 277.2h0M136.3 267.2h0M115.1 311.8h0M149.4 314.9h0M145.9 285h0M113.8 295.9h0M99.2 295.1h0M126.7 278.1h0M112.5 295.4h0M120.6 298.5h0M102.2 273.7h0M121.2 280.6h0M144.8 318.8h0M107.5 261.1h0M106.3 301.1h0M144.8 293.2h0M153.5 320.4h0M137.1 318.3h0M151.3 306.2h0M92.3 287.4h0M112.6 283.8h0M125.5 306.1h0M127.9 279.2h0M127.3 280.7h0M135.1 296.8h0M94.4 302.5h0M91.9 296.4h0M98.4 285.8h0M142.6 297.8h0M108.1 261.1h0M138 272h0M152.4 321.9h0M123.6 275.9h0M132.1 319h0M113.1 268.6h0M138 276.2h0M129.9 261.7h0M146.8 296.4h0M128.3 257.4h0M129.4 298.9h0M95.7 294.8h0M119.2 313.8h0M123 256.9h0M109.6 299.1h0M123.4 313.8h0M102.3 280.1h0M146.8 296.1h0M145.5 326.9h0M129.4 284.2h0M103.3 305.5h0M124.5 301.1h0M153.4 320.5h0M114.9 310.5h0M134.3 261.8h0M140.5 312.1h0M94.1 290.3h0M121.5 289.9h0M145.1 322h0M146.9 321.2h0M104.6 269.3h0M115.9 281.4h0M119.1 272.2h0M137.7 298.7h0M111.8 308.3h0M143.1 267.7h0M114.8 302h0M141.6 269.5h0M114.8 306.5h0M123.4 314.3h0M101.5 286h0M110.5 310.1h0M118.2 267.2h0M132 265.5h0M113 300.4h0M131.4 298.9h0M130.4 308.4h0M118.9 293.2h0M112 284.2h0M150.1 313.4h0M131.2 254.9h0M156.1 314.2h0M125 292.4h0M132.2 310.1h0M126.3 280.7h0M92.3 284.2h0M93.5 282.9h0M149.9 315.8h0M123.4 307.3h0M117.6 297h0M150.9 328h0M114.2 288.5h0M115.6 265.7h0M128.2 265.4h0M141.9 295.6h0M130.1 264.4h0M99.7 305.2h0M135 284.1h0M128.4 304.3h0M123.4 268.2h0M156.9 318.8h0M113.6 302.4h0M139.3 281.1h0M129 282.7h0M119.2 257.4h0M129.9 257.7h0M126 279.9h0M122 262.2h0M140.1 302.9h0M142.9 263.5h0M112.6 279.9h0M102.7 271.4h0M140.8 311.2h0M122.1 292.9h0M113.7 309h0M149.5 297.9h0M107.6 308h0M120.9 262h0M144.8 280.1h0M100.5 284.9h0M116.9 315h0M136.6 288.4h0M116.4 307.6h0M140.7 272h0M107.2 283.7h0M150.6 318.7h0M133.9 280.1h0M109.3 281h0M114.6 289.4h0M115.9 279.7h0M141.1 321.9h0M128.6 266.6h0M150.2 293h0M135.3 262.2h0M118.7 300.1h0M114.9 290.6h0M146.6 315.1h0M105.8 293.5h0M116.5 259.3h0M96.8 282.7h0M141.9 281.8h0M117.2 272.6h0M111.1 290.3h0M123.9 300.7h0M155 327.3h0M136.1 281.9h0M106.5 301.7h0M101.9 300.4h0M105.7 266.2h0M90.6 290.7h0M106.3 265.4h0M139.4 286.1h0M135.4 307.5h0M130.3 297.6h0M131 256.6h0M96.6 276.4h0M147.9 320.6h0M143.2 325.9h0M114.8 287.5h0M110.1 270h0M108.6 264.3h0M132 288.1h0M130.4 294.2h0M90.6 290.2h0M107.5 276h0M127.8 319.9h0M117.1 285h0M110.2 272.4h0M145.5 275.6h0M97.9 297.2h0M108 261.4h0M131.5 283.9h0M116.8 264.5h0M117.1 277.7h0M143.7 308.9h0M151.8 317.5h0M128.5 289.6h0M140.7 299.1h0M141.5 290.7h0M101.5 300.8h0M120.1 297.9h0M120.4 301h0M94.3 282.1h0M126.3 300.7h0M118.3 257.1h0M137.3 292.3h0M136.3 258.3h0M131.1 302.8h0M138.2 292.3h0M121.7 262.3h0M125.6 275.3h0M147 301.5h0M104.9 295.4h0M138.1 273.2h0M128.2 260.4h0M106.1 262.8h0M154.5 318.2h0M131.6 284.4h0M116 305.2h0M109.1 276.5h0M143.9 278.4h0M145.3 279.6h0M125.7 287.6h0M143.3 300.8h0M134 266.6h0M148.8 317.8h0M124.1 304.6h0M106.2 274.5h0M126.5 287.7h0M138.4 268.1h0M154.3 314.2h0M135.9 290.4h0M142.7 309.2h0M145.3 306h0M103.7 283.7h0M101.9 282.3h0M140.7 266.8h0M145.1 308h0M110.7 298.8h0M100 274.7h0M123.9 285.6h0M101.7 294.1h0M149.1 318.9h0M97.7 292h0M137.4 302.5h0M95.2 291.1h0M134 305.3h0M94.2 280.4h0M136.8 276.6h0M139.1 295.8h0M107.5 296.9h0M144.7 271.1h0M148 320.8h0M113.6 263h0M129.1 306.7h0M102.5 275.6h0M122.8 301.1h0M125.8 281.1h0M97.6 291.9h0M151.7 323.6h0M152.8 322.9h0M128.1 293.7h0M128.7 284.6h0M136.4 293.5h0M135.6 322h0M125.2 277.4h0M131.6 316.7h0M115.9 286.3h0M144.6 325.7h0M126.5 298.2h0M135.1 301.7h0M126.6 291h0M92.1 284.2h0M109 273.6h0M142.8 283.1h0M101.2 290.5h0M94.5 290.7h0M103.9 283.1h0M140.1 278.5h0M100.5 280.3h0M101.9 293h0M135.4 273.8h0M137.5 293.2h0M144.1 312.8h0M135.3 305.5h0M117.8 297.1h0M120.7 306.6h0M146.4 295.6h0M90.5 299.8h0M110.1 310.9h0M107.2 303.6h0M100.5 303.9h0M130.2 307.3h0M140.6 288.1h0M135.6 287.8h0M147.5 306.3h0M139.9 286.7h0M149.1 322.4h0M146.9 296h0M132.4 303.4h0M118.9 284.5h0M127.5 271h0M128.9 310.5h0M153.6 317.8h0M103.4 300.3h0M124.5 300.6h0M137.7 297.5h0M125.5 302.7h0M131.2 279.3h0M129.7 286.6h0M139.2 281.5h0M119.2 299.3h0M100 295.9h0M150.2 307.6h0M122.8 263.2h0M128.2 285.3h0M113.8 309.3h0M100.1 306.3h0M141.2 281h0M146.2 294.9h0M153.6 319.2h0M113.8 257.7h0M131.1 304.7h0M136 317.8h0M136.4 300.8h0M153 316.7h0M150.1 323.8h0M97 297.5h0M146.5 278.5h0M148.6 329h0M125.3 271.1h0M108.2 266.2h0M118.6 284.2h0M107.7 284.7h0M111.8 258.3h0M127.3 284h0M118.9 275.4h0M111.5 258.5h0M154.6 329.3h0M102.2 304.8h0M130.7 272.1h0M125.6 292.9h0M116.3 282.3h0M116.3 297.2h0M132 321.2h0M133.2 258.8h0M127.3 315.8h0M138.3 316h0M138 283.2h0M102.4 279.6h0M87.3 296.6h0M140.1 301.5h0M132.4 274.6h0M130.7 312.9h0M150.7 308.9h0M126.1 310.8h0M140.7 296.3h0M148.8 321.6h0M145.1 270.4h0M127.6 266.3h0M154.1 325.5h0M96.3 296.6h0M134.9 277.7h0M139.5 282.6h0M149.3 297.1h0M117.7 292.3h0M116.6 291.1h0M137.2 278.8h0M110 262.6h0M133.4 269.6h0M144.4 296.5h0M148.2 305.9h0M119.4 300.3h0M104.7 293.4h0M146 322.5h0M126.7 270.2h0M146.4 279h0M131.3 315.4h0M111.1 269.8h0M100.8 287.4h0M110.6 310.1h0M140.8 301.6h0M123.4 311.1h0M99.7 268.9h0M119.4 264.2h0M154.1 315.3h0M126.7 294.3h0M144.3 278.7h0M145.5 286.9h0M144.8 293.6h0M133.2 271.3h0M142 315.1h0M92.2 285.7h0M117.6 266.6h0M97.3 278.2h0M114.4 300.5h0M133.9 301.1h0M117.2 266.7h0M139.8 268h0M120.9 272.3h0M143.7 295.2h0M131.8 302.8h0M104.2 274.7h0M132.6 293.5h0M143.9 304.3h0M135.7 273.9h0M144.6 275.6h0M137.8 282.9h0M144.5 307.2h0M118.2 292h0M101.8 284.9h0M94.8 293.5h0M92.6 298.2h0M122.8 299.1h0M134 292h0M151.9 303.4h0M97.9 298.4h0M111.4 258.4h0M127.4 289.3h0M99.9 287.4h0M144 300.1h0M126.7 286.1h0M129 265.1h0M153.9 314.2h0M133.5 275.2h0M137.3 281.8h0M145.1 292.3h0M130.1 301.7h0M141.4 307.9h0M99.7 300.4h0M111.9 265.2h0M88.6 296.5h0M105.7 264.8h0M124.2 285.7h0M114.6 304.8h0M98.6 291.4h0M139.8 282.5h0M104.1 283.7h0M148.3 313.1h0M122.5 258.6h0M136.5 292.5h0M145.1 290.8h0M89.9 293.8h0M90.2 287.1h0M96.5 297h0M133.8 318.6h0M114.1 280h0M136.9 295.4h0M131.2 277.2h0M150.1 315.5h0M127.7 280.6h0M138.7 301h0M124.9 268.3h0M128 302.6h0M153.3 321.4h0M140.9 286h0M136.4 265.7h0M146.9 320.5h0M153.6 317.1h0M134 261.5h0M124.6 296.2h0M132.1 293.4h0M136.6 285.2h0M139 272.1h0M139.2 289.6h0M154.6 308.2h0M155 325.4h0M145.8 270.2h0M156.2 318.4h0M138.2 315.4h0M131.7 262h0M144.4 318.6h0M125.6 266.3h0M122.4 294.5h0M157 325.3h0M145.1 281.5h0M138.6 299.4h0M132.3 296.8h0M143.4 286.3h0M124.4 277.4h0M141.1 272h0M136.6 316.2h0M155.4 322h0M134.5 309.3h0M134 313.2h0M144.6 306.2h0M130 280.6h0M154.9 314.8h0M132.9 308.6h0M123.2 279.6h0M135.8 297.9h0M136.5 272.8h0M132.1 276.3h0M124.9 277.3h0M127.5 300.9h0M141.2 305.6h0M152.1 306.9h0M149.6 306.6h0M130.2 291.4h0M142.8 273.5h0M135.1 279.8h0M145.3 323.6h0M126.7 304h0M141.2 321.1h0M127.2 274.3h0M128 293.8h0M130.6 261h0M133.2 263.7h0M143.3 274.4h0M149.1 313.4h0M134.3 270.6h0M150.9 323.3h0M155.6 312.8h0M135.1 293.3h0M127.3 291.9h0M127.2 268.3h0M138 289.8h0M131.6 303.2h0M155.1 314.9h0M132.3 277.8h0M135 300.2h0M137 279h0M144.6 273.2h0M148.8 304.8h0M155.6 323h0M150.3 305.5h0M129.2 287h0M137.6 267.4h0M143.8 273.3h0M128.6 304.2h0M146.5 280.3h0M145.2 291.7h0M147.5 311.7h0M136.2 268.4h0M137.3 317.2h0M151.7 309.7h0M153.5 317.4h0M129.2 289.9h0M141.2 313.4h0M140.2 262.4h0M132.8 312.2h0M133.2 307.8h0M127.1 289.3h0M140.9 311.9h0M131.2 273.4h0M146.3 305.8h0M130.4 272.3h0M123.7 266.6h0M149.1 314.6h0M137.9 312.7h0M140.2 300.8h0M137.4 278.5h0M137 274.7h0M134.6 264.6h0M145.8 318.8h0M143.1 316.4h0M137.6 259.6h0M142.7 311.3h0M132.8 290.5h0M148.3 299.3h0M147.2 287.1h0M135.7 298.6h0M134.7 290.6h0M133.4 275.1h0M138.5 281.8h0M142.4 288.8h0M151.6 317.4h0M140.7 320.1h0M139.3 283.2h0M141.9 318.4h0M140.7 315h0M133.4 305.3h0M141.5 304.5h0M136.9 267.3h0M120.6 264.2h0M122.7 288.1h0M134.3 302.8h0M132.3 301.9h0M139.9 261.7h0M140.7 304.1h0M142 279.5h0M142.7 302.9h0M153.8 310.7h0M135.4 311h0M145.9 285.8h0M137.8 292.7h0M122.4 263.7h0M125.6 273.3h0M127.5 278.1h0M134.8 309.4h0M142.7 266.9h0M145.6 299.2h0M127.9 293.6h0M139.7 262.1h0M125.5 270.1h0M155 321.8h0M135.9 296.7h0M122.1 267.6h0M138 265.8h0M137.5 295.7h0M134.7 291.7h0M144.9 319.8h0M126 270.7h0M144.1 321.2h0M128.3 291.2h0M155.3 312.2h0M146.6 309h0M121.4 278.5h0M145.7 321.9h0M155.8 315.7h0M143.3 273h0M132.1 272.8h0M141.9 264.8h0M150.2 303.8h0M150.2 308.4h0M145.3 280.4h0M154.4 312.3h0M124.7 274.4h0M137.3 274.7h0M157.5 325.8h0M143.2 279.5h0M138.7 297.1h0M139.2 313.8h0M127.3 274.5h0M124.2 289.9h0M136.7 282.9h0M155.3 318.9h0M128.3 263.5h0M147.3 283.5h0M131.4 290.6h0M121.6 270.4h0M145 301.8h0M128.9 266.4h0M151.7 297.3h0M141.6 266h0M136.1 261.4h0M148.4 319.8h0M123.9 284.3h0M131.4 289.4h0M151.6 301.2h0M124.4 280.6h0M139.5 263.2h0M141.6 298.9h0M134.6 287.2h0M131.5 269.2h0M132.5 304.7h0M141.3 269.5h0M137.6 270.5h0M125 265.8h0M126.5 271.4h0M137.2 304.1h0M122.7 281.2h0M135.4 291.7h0M145.8 294.4h0M139.9 278h0M140 294.5h0M148.8 292.8h0M127.8 269.7h0M142 313.5h0M145.6 312.1h0M123 263.9h0M141.5 312.8h0M137.9 262.2h0M139.8 285.1h0M121.6 285.7h0M145.4 271.1h0M137.1 275.5h0M126.3 282.3h0M126.3 300h0M145.3 281.7h0M123.4 279.8h0M136.9 292.7h0M124.5 266.4h0M122.5 284.7h0M145.2 295.5h0M136.1 275.3h0M137 305.9h0M120.9 269h0M137.5 277.2h0M126.4 273.2h0M142.3 302.3h0M154.6 323.7h0M133.1 304.8h0M146.6 313.7h0M139.6 263.2h0M130.6 286.3h0M140.9 274.1h0M157.1 319.8h0M125.5 265.8h0M121.9 271.8h0M142.6 298h0M127.9 294.7h0M134.3 266.3h0M150.1 293.4h0M143.1 291.3h0M137.1 272.1h0M151.8 319.8h0M131.7 264.4h0M140.8 284.8h0M136.4 295.2h0M148.7 318.9h0M150.8 319.8h0M132.7 259.2h0M130.4 304h0M134.4 300.2h0M139 310.3h0M139.2 287.6h0M130.2 273.6h0M153.8 311.4h0M138.5 303.4h0M156.9 322.1h0M127.5 279.3h0M124.2 267.4h0M149.1 300.1h0M134.7 289.5h0M151.4 326.4h0M143.4 274.7h0M127.6 273.4h0M136.7 280.7h0M139.1 264.9h0M139.3 269.8h0M124 272.9h0M143.5 299.9h0M122.5 296.6h0M134.3 260.7h0M134.8 271.4h0M131 305.8h0M123 296.8h0M126.1 270.7h0M129.6 282.3h0M125 277.2h0M134.4 296.7h0M150.5 327.9h0M146.9 303.9h0M140.9 304.1h0M132.3 263h0M146.4 294.2h0M153 312.2h0M151.5 307.6h0M151.6 306.8h0M137.3 263.2h0M150.9 328.6h0M154 327.4h0M129.3 264.7h0M153.7 308.8h0M130.7 306.4h0M140.9 292.6h0M134.3 315.2h0M153.7 323.6h0M152.2 319.3h0M130.5 287.1h0M130.6 281.6h0M150.8 325.5h0M126.4 278.1h0M142.7 290.3h0M139.9 299.7h0M121.5 262.7h0M127.8 260.9h0M134.6 298h0M138.5 303.3h0M142 308.8h0M141.1 269h0M138.6 277.7h0M136 289.1h0M139 279.4h0M141.1 286.3h0M140.9 319.4h0M138.1 277.9h0M120.9 269.5h0M121.7 291.9h0M144.9 295.6h0M140.9 295.9h0M149.6 292.3h0M132.3 290.3h0M140.4 276.9h0M146.4 280.2h0M156.9 319.2h0M142.6 311.6h0M131.5 285.5h0M90.5 291.4h0M87.4 287.6h0M84.4 298h0M85.8 289.9h0M87.1 300.1h0M88.5 289.8h0M91.5 293h0M87.5 289.6h0M87.8 298h0M86.8 302.4h0M87.1 294.9h0M87.7 288h0M87.5 287.9h0M92.3 299.1h0M85.8 286.6h0M88.4 288.6h0M92.8 294.8h0M82 295.4h0M85.3 297h0M88.3 297h0M86.7 301.7h0M84.3 292.9h0M94.2 298.1h0M87 298.7h0M88.2 298.4h0M85.8 301.7h0M88.6 289.7h0M87 299.9h0M89.1 296.7h0M84.7 288h0M109.2 291.6h0M113.1 290.7h0M109 297.5h0M87 304.4h0M129.9 297.1h0M103.9 306.9h0M97.4 300h0M112.1 295.6h0M109.1 293.4h0M104.3 304.9h0M101.5 295.5h0M103.2 303.7h0M106.2 293.4h0M112.9 284.6h0M91.8 302h0M127.4 296.1h0M113 289.3h0M110.9 301.3h0M115.2 294.2h0M128.1 292.6h0M124.2 291.7h0M117.3 310h0M130.3 299h0M94.2 306.2h0M103.1 291.7h0M104.3 293h0M117.1 301.3h0M116.3 306.4h0M106.2 305.2h0M121.4 314h0" stroke="#FDC086" stroke-width="2.1" stroke-linecap="round" fill="none"/>
<path d="M110.4 247.5h0M107.2 248.9h0M121.6 260h0M104.9 247.3h0M124.6 271.4h0M121.2 275.5h0M110.3 260.3h0M110.7 276.6h0M118.3 260.2h0M117.9 250.1h0M114.9 235.5h0M112.2 247.2h0M121 268.7h0M117.3 247.1h0M107.6 263.3h0M113.5 254.2h0M107.8 258.8h0M116.9 264h0M108.8 256.3h0M105.4 258.7h0M115.5 253.3h0M121.9 245h0M126.6 260.4h0M119.6 259.2h0M110.6 251.6h0M122.4 256.6h0M117.8 253.6h0M121.6 262.7h0M106.4 274.7h0M123 264.4h0M117.9 256.3h0M121.7 276.7h0M115 246.7h0M115.4 257.4h0M122.4 245.5h0M112.5 253.9h0M122.5 266.9h0M117 266.5h0M116.3 257.6h0M99.3 248.5h0M107.5 260.8h0M116 246.7h0M115.7 255.4h0M118.2 251.5h0M110.3 267.6h0M113.5 265.7h0M109.1 254.4h0M113 247.6h0M120.4 244.1h0M117 237h0M120.2 256.7h0M123.2 274.7h0M110.4 256.4h0M106.2 252.2h0M115.7 256.6h0M120.8 260.8h0M122.1 250.1h0M116.2 246.9h0M114 235.3h0M114.5 256.7h0M111.9 252.6h0M103.2 250.3h0M111 258.2h0M118.4 252.2h0M114.1 259.4h0M108.9 265.3h0M129.4 259.6h0M111.7 258.1h0M123.3 267.6h0M105.7 259.1h0" stroke="#BEAED4" stroke-width="2.2" stroke-linecap="round" fill="none"/>
<path d="M114.2 229.4h0M105.8 228.1h0M113 234.3h0M102.7 228.1h0M111.4 226.3h0M108.3 235.2h0M105.5 236.4h0M104.8 233.9h0M104.5 243.1h0M118.5 244.6h0M106.6 219.4h0M102.9 229.8h0M121 238.6h0M118 220.2h0M121.1 238.8h0M106.9 230.6h0M124.9 234h0M112.4 247h0M124.7 235.5h0M117.6 243.8h0M107.5 235.8h0M109.7 222.7h0M116.7 242.4h0M127.2 239.3h0M121.6 230.2h0M101.5 225.9h0M116 226.3h0M127.6 243.6h0M111.5 248.5h0M117.9 247.6h0M111.6 239.5h0M111.3 232.1h0M121.8 250.3h0M114 234.9h0M106.3 230h0M116.8 220.1h0M109.7 221.4h0M114.6 240.6h0M115.6 229.4h0M105.3 216.6h0M113.2 246.6h0M111 231.4h0M109.7 221.3h0M121.2 238.8h0M101.8 220.2h0M123.3 223.7h0M112.7 222.2h0M115.5 224.6h0M108.4 221.4h0M127.6 255h0M114.8 238.5h0M117.4 232.1h0M112.4 228.6h0M119.1 220.4h0M109.3 261.5h0M104.7 268.5h0M113.8 257.5h0M126.9 255.7h0M117.1 251.6h0M120.3 261.4h0M108.9 261.1h0M124 259.7h0M110 263.2h0M127.2 252.3h0M101.2 250.7h0M116.2 266.1h0M125.8 261.3h0M110.8 261.9h0M116 248.2h0M101.5 263.8h0M102.8 265.7h0M134.5 256.3h0M109.2 251.2h0M110.5 259h0M124.3 250.3h0M113.4 251.1h0M125.4 263.6h0M109.1 253.7h0M117.4 242.3h0M111.7 257.1h0M104.6 257.7h0M116.5 251.8h0M124.5 248.9h0M119.5 254.1h0M125 250h0M121 260.8h0M125.4 268.5h0M103.7 255.5h0M107.2 263.6h0M127.2 253.8h0M118 266.1h0M117.7 255.1h0M102.6 250.6h0M124.2 244.8h0M118.4 257.7h0M116 262.2h0M109.9 266.7h0M112.5 263.9h0M111.3 258.1h0M113.3 269h0M107.5 251.2h0M128 262.3h0M115.8 254.1h0M105.5 254h0M119 265.3h0M123.7 267.3h0M119.2 250.6h0M113.2 267.9h0M117 267h0M103.1 252.3h0M109.5 258.1h0M109.6 245.8h0M115.4 238.4h0M111.2 259.4h0M106.6 255.7h0M108.8 253.4h0M118 259.7h0M119.6 250.2h0M128.6 258.6h0M110.7 266.5h0M112.8 271.3h0M123.1 255.3h0M112.2 249.6h0M109.7 254h0M127.3 257.5h0M115.5 259.5h0M113.6 246.4h0M103.9 267.3h0M113.9 268.7h0M131.9 258.4h0M122.6 253.4h0M115.1 256.9h0M116.2 268h0M115.4 263.3h0M117.3 261.1h0M131.5 244.1h0M126 251.3h0M117.9 253.6h0M112.3 245.6h0M96.5 273.1h0M123.5 254.4h0M100.7 261.5h0M129.5 259.7h0M101.9 252.1h0M118.5 255.7h0M125.6 248.6h0M110.9 237.6h0M125.8 261.3h0M112.6 242h0M123.5 244.9h0M105.4 240.8h0M104.1 248.6h0M106.9 264.9h0M122.2 256.7h0M111.3 255.7h0M104.9 259.2h0M108.1 252h0M118.9 249h0M104.2 264.2h0M105.5 265.3h0M110.5 268.7h0M119.8 259.2h0M116.5 281.5h0M131.8 278.3h0M120.3 274.3h0M116 262.9h0M124.2 279.5h0M123.7 272.8h0M128.8 274.9h0M131.2 270.4h0M104.7 276h0M129 268.3h0M123.1 277.4h0M100.3 286.8h0M128.1 271.8h0M110.5 263.4h0M141.7 271h0M127.4 269h0M118 277h0M112.4 272.5h0M119.1 275.9h0M128.8 271.9h0M133.7 270.1h0M117.5 273.5h0M118.6 277.7h0M100.3 262.2h0M101.1 281.6h0M128.5 268.8h0M124.5 262.2h0M118.2 282h0M126.9 286h0M116.5 280h0M122 275h0M123.4 277.7h0M133.2 273.4h0M124.5 272.4h0M123.7 268.1h0M130.3 277.4h0M124.1 273h0M89.5 264h0M86 279h0M97 232h0M84.3 250h0M108.6 213.4h0M114 216.5h0" stroke="#386CB0" stroke-width="2.3" stroke-linecap="round" fill="none"/>
<path d="M126.8 314.6h0M139.8 322.4h0M132.6 311.3h0M133.6 309.9h0M144 319h0M136.3 309.8h0M129.8 315.4h0M129.2 316.2h0M137.6 314.5h0M141.8 323.9h0M129.1 323.9h0M136.8 313.6h0M142.1 326.9h0M131.9 303.5h0M146.1 326h0M121.6 316.9h0M142 299.6h0M146.1 323.7h0M146.5 329.9h0M122.3 325.5h0M131.1 323.5h0M126.5 303.3h0M139.9 319.2h0M126.4 319.8h0M147.7 325.9h0M141.2 308h0M148.7 319.1h0M145.7 326.4h0M152.1 325.8h0M149.8 320h0M144.8 322.5h0M130 332h0M140.5 335.8h0M107 314h0M121 315h0" stroke="#7FC97F" stroke-width="2.2" stroke-linecap="round" fill="none"/>
<path d="M50.4 325.8h0M81.5 298.5h0M38 339.3h0M77 317.2h0M83.2 297.8h0M81.1 314.1h0M63.7 320.6h0M52.9 337.1h0M41.3 311.4h0M84.1 304.4h0M67.1 297.7h0M37.2 335.6h0M80.3 315.8h0M75.2 317.9h0M61.4 308.1h0M85.4 298.8h0M65.7 300.3h0M65 298.1h0M59.8 303.7h0M51.5 303.7h0M72.5 318.9h0M60.1 332.3h0M57.7 326.6h0M70.6 304.1h0M66.4 322.7h0M62.1 318.9h0M79 320.7h0M47.4 329.4h0M44.7 331.1h0M54.9 338.3h0M81 297.1h0M59 330h0M35.9 319.1h0M51.5 329.3h0M40.2 333.4h0M81.8 302.1h0M85.6 314.8h0M74.5 307.3h0M71.8 318.1h0M52.8 323.4h0M47.3 307.1h0M67.7 331.4h0M76.7 320.1h0M77 294.3h0M80.7 300.5h0M39.2 335.6h0M54 333.3h0M52 304.9h0M75.9 305.4h0M45.7 312.5h0M51.3 336.3h0M56.8 334.5h0M61.7 336.6h0M64.7 327.6h0M36.4 334.1h0M58.7 331.6h0M50 308.7h0M62.4 326.3h0M78.9 307.5h0M68.3 302.9h0M74.2 311.4h0M51.6 306.8h0M39.7 328.7h0M59.8 307.3h0M52.5 312h0M84.1 310.8h0M74.9 322.3h0M66.6 327.2h0M55.6 307.5h0M55.6 315.9h0M85.9 306.1h0M46.6 315h0M85.5 306.1h0M66.8 301.5h0M68.6 315.5h0M80.6 313.4h0M69.7 310.9h0M82.5 308.2h0M81.6 304.8h0M72.5 297.8h0M72.7 322h0M77.7 324.2h0M62.1 312h0M74.7 306.5h0M80.4 317.4h0M66.8 323h0M80.8 316.2h0M70.2 319.4h0M81.3 311.6h0M67 323.4h0M87.3 308.2h0M49 326.9h0M34.6 334.8h0M54.9 338.4h0M65.4 318.5h0M76.1 297.2h0M56.2 332h0M69.9 319.3h0M34.8 334.3h0M68.8 331.2h0M69.6 322.8h0M48.9 305.6h0M79.8 309.4h0M80.7 295.1h0M49.3 336h0M81.3 318.8h0M68.1 303.2h0M74.4 296.4h0M45.3 312.5h0M57.5 336h0M79.6 299.2h0M82 318.6h0M49.4 310.4h0M83 310.4h0M74 297.1h0M36.5 325h0M80.5 308h0M39 318h0M81.6 308.1h0M65 305.4h0M68.5 329.2h0M77 321.9h0M42.1 327.3h0M71.2 307.8h0M71.9 313.3h0M67.1 303.4h0M53.7 316h0M81.7 318.8h0M48.4 309.9h0M77.3 310h0M85.4 312.9h0M64.2 311.6h0M47 317h0M76.2 294.1h0M74.1 313.3h0M47.1 331.6h0M76.2 308.6h0M85.3 309.6h0M53.4 304.9h0M63.5 304.9h0M53.1 302.6h0M56.1 335.8h0M84.6 314.2h0M71.3 317.1h0M41.8 329.4h0M80.1 295.3h0M59.7 336h0M42.9 327.1h0M48.8 333.7h0M76.2 301.6h0M71.8 296.7h0M78.9 311.3h0M75 316.6h0M61.5 315.3h0M36.1 324.6h0M36 324.5h0M48.1 338.7h0M70.2 320.4h0M68.5 322.5h0M70.8 312h0M85.9 315.2h0M84.7 299.5h0M46.6 330.8h0M66.2 313.9h0M51.9 331.3h0M41.6 335.1h0M73.1 316.5h0M85.5 311.5h0M71.7 307.7h0M73.3 324.7h0M70.8 306.6h0M56.2 306.7h0M72.8 302.4h0M67.2 297.6h0M64.7 306.7h0M71.3 318.7h0M61.7 315.8h0M53.3 326.5h0M68.5 317h0M73.5 311.4h0M53.8 336.9h0M62.1 306.8h0M68.4 306.7h0M72.8 310.4h0M70 302.6h0M43.5 325.8h0M37 336.4h0M81.3 295.4h0M82.2 311.6h0M87.8 304.5h0" stroke="#F0027F" stroke-width="2.3" stroke-linecap="round" fill="none"/>
<path d="M95 283.6h0M99.7 292.7h0M107 304.8h0M116.3 329.7h0M90 301h0M98 275.8h0M110 296h0M120 298h0M126 303h0M88.5 299h0M101 289.5h0M114.3 338.5h0" stroke="#F0027F" stroke-width="2.3" stroke-linecap="round" fill="none"/>
<ellipse cx="60.4" cy="317.6" rx="36.5" ry="21.2" transform="rotate(-35 60.4 317.6)" fill="none" stroke="#E6853C" stroke-width="1.45" stroke-dasharray="3.2 1.8"/>
<text x="170.2" y="209" font-size="9.5" text-anchor="start" fill="#111">Pseudotime</text>
<text x="175" y="220.7" font-size="9.3" text-anchor="middle" fill="#111" transform="translate(49 0) scale(0.72 1)">0</text>
<text x="184.8" y="220.7" font-size="9.3" text-anchor="middle" fill="#111" transform="translate(51.7 0) scale(0.72 1)">10</text>
<text x="195.5" y="220.7" font-size="9.3" text-anchor="middle" fill="#111" transform="translate(54.7 0) scale(0.72 1)">20</text>
<text x="207.3" y="220.7" font-size="9.3" text-anchor="middle" fill="#111" transform="translate(58 0) scale(0.72 1)">30</text>
<g stroke="#444" stroke-width="0.6"><line x1="174.3" y1="227.1" x2="208.3" y2="227.1"/><line x1="174.5" y1="223.8" x2="174.5" y2="227.1"/><line x1="180.1" y1="223.8" x2="180.1" y2="227.1"/><line x1="185.6" y1="223.8" x2="185.6" y2="227.1"/><line x1="191.2" y1="223.8" x2="191.2" y2="227.1"/><line x1="196.8" y1="223.8" x2="196.8" y2="227.1"/><line x1="202.4" y1="223.8" x2="202.4" y2="227.1"/><line x1="208" y1="223.8" x2="208" y2="227.1"/></g>
<path d="M174.3 243 L199 243 L199.2 243.5 L199.5 244 L199.8 244.5 L200 245 L200.2 245.5 L200.5 246 L200.8 246.5 L201.2 247 L201.5 247.5 L201.8 248 L202.2 248.5 L202.5 249 L202.8 249.5 L203 250 L203.2 250.5 L203.5 251 L203.8 251.5 L204 252 L204.1 252.5 L204.2 253 L204.4 253.5 L204.5 254 L204.6 254.5 L204.8 255 L204.9 255.5 L205 256 L205.1 256.5 L205.1 257 L205.2 257.5 L205.2 258 L205.2 258.5 L205.3 259 L205.3 259.5 L205.4 260 L205.4 260.5 L205.5 261 L205.5 261.5 L205.6 262 L205.6 262.5 L205.6 263 L205.6 263.5 L205.6 264 L205.6 264.5 L205.6 265 L205.7 265.5 L205.7 266 L205.7 266.5 L205.7 267 L205.7 267.5 L205.7 268 L205.7 268.5 L205.7 269 L205.7 269.5 L205.7 270 L205.7 270.5 L205.7 271 L205.8 271.5 L205.8 272 L205.8 272.5 L205.8 273 L205.8 273.5 L205.8 274 L205.8 274.5 L205.8 275 L205.8 275.5 L205.8 276 L205.8 276.5 L205.8 277 L205.8 277.5 L205.9 278 L205.9 278.5 L205.9 279 L205.9 279.5 L205.9 280 L205.9 280.5 L205.9 281 L205.9 281.5 L205.9 282 L205.9 282.5 L205.9 283 L205.9 283.5 L205.9 284 L206 284.5 L206 285 L206 285.5 L206 286 L206 286.5 L206 287 L206 287.5 L206 288 L206 288.5 L206 289 L206 289.5 L206 290 L206 290.5 L206.1 291 L206.1 291.5 L206.1 292 L206.1 292.5 L206.1 293 L206.1 293.5 L206.1 294 L206.1 294.5 L206.1 295 L206.1 295.5 L206.1 296 L206.1 296.5 L206.2 297 L206.2 297.5 L206.2 298 L206.2 298.5 L206.2 299 L206.2 299.5 L206.2 300 L206.2 300.5 L206.2 301 L206.2 301.5 L206.2 302 L206.2 302.5 L206.3 303 L206.3 303.5 L206.3 304 L206.3 304.5 L206.3 305 L206.3 305.5 L206.3 306 L206.3 306.5 L206.3 307 L206.3 307.5 L206.3 308 L206.3 308.5 L206.4 309 L206.4 309.5 L206.4 310 L206.4 310.5 L206.4 311 L206.4 311.5 L206.4 312 L206.4 312.5 L206.4 313 L206.4 313.5 L206.4 314 L206.5 314.5 L206.5 315 L206.5 315.5 L206.5 316 L206.5 316.5 L206.5 317 L206.5 317.5 L206.5 318 L206.5 318.5 L206.5 319 L206.5 319.5 L206.5 320 L206.6 320.5 L206.6 321 L206.6 321.5 L206.6 322 L206.6 322.5 L206.6 323 L206.6 323.5 L206.6 324 L206.6 324.5 L206.6 325 L206.6 325.5 L206.6 326 L206.7 326.5 L206.7 327 L206.7 327.5 L206.7 328 L206.7 328.5 L206.7 329 L206.7 329.5 L206.7 330 L206.7 330.5 L206.7 331 L206.7 331.5 L206.8 332 L206.8 332.5 L206.8 333 L206.8 333.5 L206.8 334 L206.8 334.5 L174.3 334.8 Z" fill="#FDC086"/><path d="M174.3 233.4 L178.5 233.4 Q180 233.4 180.5 234.2 L191 234.2 Q195.5 234.6 196 238 L196.5 241.5 Q197 242.6 199 243 L199 243.4 L174.3 243.4 Z" fill="#386CB0"/><rect x="174.3" y="242.6" width="24.7" height="1.6" fill="#8F8FA3"/><rect x="174.3" y="244.2" width="25.7" height="1.4" fill="#C4A58F"/><rect x="174.3" y="245.6" width="26.2" height="1.2" fill="#E0B08A"/><rect x="174.3" y="252.6" width="29.8" height="1.2" fill="#DDAE8E"/><rect x="174.3" y="256.4" width="30.7" height="1.6" fill="#C4A49C"/><rect x="174.3" y="262" width="31.3" height="1" fill="#F8A785"/><rect x="174.3" y="266" width="31.4" height="1.3" fill="#F8A485"/><rect x="174.3" y="288" width="31.7" height="0.9" fill="#F7A987"/><rect x="174.3" y="290.1" width="31.7" height="1.3" fill="#BDA3A0"/><rect x="174.3" y="293" width="31.8" height="1.2" fill="#F8A285"/><rect x="174.3" y="294.4" width="31.8" height="0.7" fill="#F6AA8A"/><rect x="174.3" y="298.2" width="31.9" height="0.9" fill="#E8B08F"/><rect x="174.3" y="301.5" width="31.9" height="1.3" fill="#F8A284"/><rect x="174.3" y="306" width="32" height="1.3" fill="#F8A385"/><rect x="174.3" y="311.3" width="32.1" height="0.6" fill="#E5B294"/><rect x="174.3" y="322" width="32.3" height="1" fill="#E6AF8F"/><rect x="174.3" y="324.3" width="32.3" height="1.3" fill="#F8A284"/><rect x="174.3" y="327.7" width="32.4" height="1" fill="#E6AF90"/><rect x="174.3" y="271.5" width="31.4" height="0.6" fill="#F4AF8C"/><rect x="174.3" y="316.5" width="32.2" height="0.6" fill="#F2AC8C"/><rect x="174.3" y="276" width="31.5" height="0.6" fill="#F6AD8A"/><rect x="174.3" y="281.5" width="31.6" height="0.6" fill="#F6AD8A"/><path d="M174.3 334.7 L207.3 334.7 L208.3 346.7 L174.3 346.7 Z" fill="#F0027F"/><rect x="174.3" y="339" width="33.5" height="0.8" fill="#F0208A"/>
<text x="234.5" y="189.6" font-size="18.5" text-anchor="start" fill="#000" font-weight="bold">d</text>
<clipPath id="c2516"><rect x="251.6" y="226.2" width="82.6" height="90"/></clipPath>
<g stroke="#EBEBEB"><line x1="264.1" y1="226.2" x2="264.1" y2="316.2" stroke-width="0.4"/><line x1="281.7" y1="226.2" x2="281.7" y2="316.2" stroke-width="0.4"/><line x1="299.1" y1="226.2" x2="299.1" y2="316.2" stroke-width="0.4"/><line x1="316.6" y1="226.2" x2="316.6" y2="316.2" stroke-width="0.4"/><line x1="334.1" y1="226.2" x2="334.1" y2="316.2" stroke-width="0.4"/><line x1="251.6" y1="260.2" x2="334.2" y2="260.2" stroke-width="0.4"/><line x1="251.6" y1="284.4" x2="334.2" y2="284.4" stroke-width="0.4"/><line x1="251.6" y1="236" x2="334.2" y2="236" stroke-width="0.4"/><line x1="251.6" y1="308.6" x2="334.2" y2="308.6" stroke-width="0.4"/><line x1="255.4" y1="226.2" x2="255.4" y2="316.2" stroke-width="0.7"/><line x1="272.9" y1="226.2" x2="272.9" y2="316.2" stroke-width="0.7"/><line x1="290.4" y1="226.2" x2="290.4" y2="316.2" stroke-width="0.7"/><line x1="307.9" y1="226.2" x2="307.9" y2="316.2" stroke-width="0.7"/><line x1="325.4" y1="226.2" x2="325.4" y2="316.2" stroke-width="0.7"/><line x1="251.6" y1="248.1" x2="334.2" y2="248.1" stroke-width="0.7"/><line x1="251.6" y1="272.3" x2="334.2" y2="272.3" stroke-width="0.7"/><line x1="251.6" y1="296.5" x2="334.2" y2="296.5" stroke-width="0.7"/></g>
<g clip-path="url(#c2516)"><path d="M288.7 262.8h0M286.4 271.8h0M264.1 277.6h0M264.3 271.4h0M272.7 273.3h0M258.2 281.7h0M284.1 252.6h0M274.1 266h0M284.9 256h0M284.5 277.5h0M277.7 259.7h0M281.1 268h0M290.2 267.8h0M266.4 282h0M265.1 281.9h0M273 276.9h0M262.2 274h0M278.8 270.1h0M287.9 241.8h0M277.5 263.9h0M267.7 270.4h0M276.8 270.9h0M277.5 279h0M257.3 286.9h0M281.4 263.9h0M265.6 292.2h0M266.4 254.5h0M259.4 257.8h0M283.3 284.9h0M282.1 253.4h0M263.6 261.7h0M270.3 258.9h0M281.5 260h0M272.6 251.9h0M278.3 278.8h0M271.3 277.3h0M283.5 260h0M283.1 266.8h0M281.3 285h0M260.5 266.3h0M273.1 259h0M276.3 272.5h0M258.7 272.1h0M277.5 258.2h0M283.7 292.1h0M276.7 276.4h0M288.5 275.6h0M265.3 275.9h0M281.8 282.5h0M281.5 283.1h0M282.2 265.1h0M272.2 249.9h0M276.9 284.4h0M284.4 247.8h0M290.2 253.3h0M268.9 260.8h0M267.1 257.8h0M262.5 280.2h0M265.4 260.7h0M265.6 291.9h0M268.7 282.2h0M266.3 269.8h0M261.6 266.4h0M276.5 286.1h0M276.6 292.3h0M267.3 268.5h0M280.3 264.9h0M266 265.6h0M272.1 272.4h0M260.1 291.5h0M258.6 263.2h0M276 260.8h0M284 265h0M289.8 239h0M259.7 273.4h0M257.3 259.2h0M270.3 273.8h0M279.3 303.2h0M287.3 279.4h0M270.4 304.7h0M274.7 273.3h0M256.7 263.4h0M264.4 294.6h0M287.2 257.2h0M266.2 277h0M286.5 255.2h0M263.2 270.4h0M263.6 286.5h0M268.2 266.1h0M269.4 272.9h0M271.2 261.1h0M272.4 248.3h0M277.3 271.8h0M266.4 254.1h0M275 271.5h0M275.3 262.9h0M281.8 265.5h0M289.9 272.6h0M274.8 268.8h0M285.3 271.7h0M286 259.4h0M275.6 282.6h0M289.1 276.4h0M259.7 265.8h0M266.5 267.1h0M281.8 260.9h0M259.6 269.4h0M261.8 262.9h0M258.9 270.7h0M286.4 255h0M270.4 281.2h0M264.9 267.9h0M285.5 275h0M279.8 283.1h0M264.8 276.8h0M263.3 267h0M281.1 267.7h0M289.3 243.6h0M263.6 266.5h0M256.4 272.2h0M287.8 264h0M278.9 284.6h0M261.3 274.7h0M262.6 274.6h0M266 252.9h0M262.8 284.1h0M283.9 268.3h0M289.7 273.1h0M270.8 270h0M264.6 294.6h0M266.2 270h0M287.6 265.2h0M279.1 266.4h0M287.6 238.4h0M282.1 268.4h0M265.3 268.1h0M264.1 274.5h0M283.3 254.1h0M286.8 239.1h0M259.5 255.9h0M265.2 269.9h0M267.3 288.2h0M280.1 263.1h0M263.9 294h0M272.7 281.5h0M273.4 277.8h0M286.2 279.1h0M257.2 276.9h0M273.2 275.2h0M273.5 279.6h0M269.6 267.8h0M259.3 284.9h0M270 256.8h0M280.8 260.4h0M289.9 269.7h0M289 259.7h0M287.5 273.6h0M286.4 273.4h0M258.6 264.3h0M287.3 284.6h0M264.6 268.7h0M284.9 243.6h0M281.7 294.2h0M284.7 238.4h0M272.9 294h0M270.8 298.6h0M276.7 294.8h0M285.7 280.1h0M278.4 276.1h0M272.6 294h0M262.6 277.5h0M275 260.7h0M289.9 274h0M264.5 273h0M282.6 260.1h0M283.7 246.4h0M288.9 266.2h0M283.8 258.5h0M277.8 263.2h0M273.2 270.5h0M271.1 276h0M277.5 265.1h0M264 266.3h0M267.5 289.1h0M286.2 270.7h0M259.2 272.4h0M287.9 262h0M280.9 264.2h0M257.3 257.6h0M273.2 258.5h0M271.5 286.8h0M278 250.3h0M270.6 280.6h0M289.7 274.9h0M271.9 258.7h0M257.3 281.2h0M266.2 294.1h0M265.4 266.7h0M259.9 270.8h0M258.4 270.3h0M285.1 283.6h0M258.2 267.2h0M259.2 284h0M258.9 265.8h0M278.3 284.2h0M271.9 283.3h0M270 296.1h0M282.6 277h0M272.6 258.7h0M270.8 269.3h0M266.6 280.6h0M263.5 258.4h0M266.9 271.2h0M267.1 264.3h0M286.7 262.1h0M279.1 270.2h0M276.9 268.2h0M258.8 271.5h0M272 258.1h0M257.9 269.8h0M263.4 264.3h0M265.6 287.6h0M260.8 298.7h0M267.2 269.8h0M272.2 269.8h0M260.2 271h0M271.3 284.1h0M261.2 274.2h0M263.7 287.8h0M266.8 272.7h0M289.9 265.9h0M285.4 268.8h0M265.4 270.6h0M273.7 277.2h0M286.6 266.5h0M276.4 261.7h0M265.4 256.1h0M286.1 261.5h0M274.9 260.9h0M259.4 269.6h0M278.1 249.4h0M294.3 238.4h0M268.7 280.8h0M274.1 262.7h0M263.3 271.5h0M266.4 254.8h0M267 303.2h0M260 284.1h0M278.2 290.3h0M265.5 257.6h0M284 263.9h0M268 265.3h0M277.1 264.9h0M271.6 268.6h0M271.3 267.1h0M272.7 276.5h0M270 297.2h0M286.2 262.4h0M279.7 269.6h0M281.4 275h0M268.8 280.3h0M264.1 259.1h0M270.5 281.3h0M270 285.3h0M275.9 262.3h0M283.9 249.6h0M268.6 288.7h0M277.7 281.6h0M268.3 285.9h0M266.1 269.4h0M282.2 261.2h0M293.7 246.6h0M261.6 276.4h0M260.6 279.2h0M269.8 279.9h0M272.2 258.2h0M271.7 279.2h0M259.5 286.6h0M284.9 269.7h0M263.6 275.4h0M272.7 266.8h0M266.7 281.5h0M275.4 249.5h0M271.6 248.9h0M275.3 284.2h0M276 268.6h0M269.1 285.1h0M264 278.3h0M260.8 291h0M262.1 279.1h0M269.8 269.5h0M277.3 267.9h0M273.9 287.4h0M275.8 294.6h0M269.1 295.3h0M265.7 259.6h0M289.5 267.4h0M279.2 268.3h0M270.2 255.1h0M271.6 284.1h0M286.3 261.5h0M259.2 284.9h0M259.6 274.4h0M284 290h0M265.9 279.1h0M280.4 269.6h0M267.5 272.3h0M260.4 293.7h0M274 274.2h0M271.7 261.4h0M267.4 274.8h0M266.6 263.7h0M276.8 262.2h0M272.2 268.9h0M266.7 278.4h0M279.3 268.3h0M267.5 284.9h0M270.7 264.4h0M265.2 270.6h0M272 257.6h0M279.6 241.9h0M268.6 263h0M287.2 259.3h0M263.7 272.8h0M279.6 258.8h0M269.5 256.3h0M273.5 274.8h0M273.3 286.7h0M277.3 286.4h0M263.3 263.2h0M280.7 263h0M263.3 268.8h0M275.6 290.9h0M264.3 281.7h0M277.6 288.6h0M271.3 286h0M268.8 280.1h0M283.8 275.7h0M288 246.8h0M277 285.4h0M267.3 281.2h0M274.1 280.2h0M264 274.1h0M267.2 265h0M271 282h0M269.8 292.9h0M262.9 280.6h0M286.5 261.7h0M274.2 284.3h0M279.2 257.5h0M266.2 286.5h0M276.4 278.1h0M258.7 282.5h0M273.8 248.2h0M266.6 264.6h0M259.4 272.5h0M272.8 283.9h0M270.6 286h0M264.2 283.4h0M260.5 257h0M286.6 250.7h0M267.1 272.1h0M261.8 284.4h0M261.9 297.1h0M266.6 279.5h0M271.8 265.8h0M280.6 262h0M271.1 267.6h0M269 281.6h0M280 262.8h0M260.6 278.3h0M275.3 260.1h0M271.3 269.2h0M271 263h0M274.6 267h0M270.9 278.1h0M280.1 254.7h0M282.7 280.4h0M285.5 258.8h0M272.1 277.3h0M262.4 280.1h0M263.2 272h0M290.2 271.3h0M259.8 288.9h0M267.5 284.9h0M271.1 285.9h0M279.1 268.9h0M266.4 270.3h0M262.7 276.5h0M259.9 295.3h0M265.8 272.7h0M263.4 263.9h0M283.8 281.2h0M271.1 283.2h0M274.5 260h0M268.9 275.2h0M272.5 258.8h0M291.8 268.5h0M260.4 293.6h0M276.7 270.7h0M268.9 273.8h0M284.3 263.7h0M271.4 282.4h0M291 270.3h0M267.3 249.3h0M271.3 278.9h0M268.1 254.4h0M263.7 288.6h0M265.2 271.8h0M275.1 266.3h0M257.4 267h0M256.4 278h0M255.5 286h0M255.5 277h0M255.6 296h0M256.3 307.9h0M256.2 296.5h0M256 259.2h0M255.8 268.1h0M256.7 255.6h0M256.1 272.1h0M255.7 295.7h0M255.6 290.1h0M255.6 274.4h0M255.4 288.3h0M255.8 289.5h0M256.3 290.9h0M256.4 287h0M255.4 301.1h0M255.4 273.2h0M255.6 286.8h0M256 262.9h0M295.6 237.6h0M298.8 248.3h0M303.5 248.3h0M305.1 250.2h0M301.7 252.1h0M305.4 259.7h0M301.7 258.7h0M299.8 262.5h0M311.1 241.7h0M316.8 229.8h0M316.4 235.5h0M321.5 234.7h0M313.6 269.7h0M310.2 260.6h0M315.3 257.2h0M325.3 260.6h0M330.9 265.3h0M305.1 291.8h0M309.2 287h0M317.7 288.9h0M321.5 288h0M296 284.2h0M294.1 278.5h0M297.9 271h0M303.5 274.8h0M270.5 312h0M255.4 308.8h0M259.2 304h0M264.8 305h0M255.4 301.2h0" stroke="#2B2B2B" stroke-width="2.7" stroke-linecap="round" fill="none"/>
<path d="M255.4 276.4 L259.5 275.2 L263.5 274 L267.6 272.7 L271.6 271.4 L275.7 270 L279.7 268.6 L283.8 267.2 L287.8 265.6 L291.9 264.1 L295.9 262.5 L300 260.8 L304 259.1 L308.1 257.4 L312.1 255.6 L316.2 253.8 L320.2 251.9 L324.3 250 L328.3 248 L332.4 246 L332.4 259.1 L328.3 259.8 L324.3 260.5 L320.2 261.3 L316.2 262.2 L312.1 263 L308.1 264 L304 264.9 L300 266 L295.9 267 L291.9 268.1 L287.8 269.3 L283.8 270.5 L279.7 271.8 L275.7 273.1 L271.6 274.4 L267.6 275.8 L263.5 277.3 L259.5 278.8 L255.4 280.3 Z" fill="#BEBEBE" fill-opacity="0.55"/>
<line x1="255.4" y1="278.4" x2="332.4" y2="252.5" stroke="#E69F00" stroke-width="1.1"/>
</g>
<rect x="251.6" y="226.2" width="82.6" height="90" fill="none" stroke="#333" stroke-width="0.7"/>
<g stroke="#333" stroke-width="0.6"><line x1="255.4" y1="316.2" x2="255.4" y2="318.2"/><line x1="272.9" y1="316.2" x2="272.9" y2="318.2"/><line x1="290.4" y1="316.2" x2="290.4" y2="318.2"/><line x1="307.9" y1="316.2" x2="307.9" y2="318.2"/><line x1="325.4" y1="316.2" x2="325.4" y2="318.2"/><line x1="249.6" y1="248.1" x2="251.6" y2="248.1"/><line x1="249.6" y1="272.3" x2="251.6" y2="272.3"/><line x1="249.6" y1="296.5" x2="251.6" y2="296.5"/></g>
<text x="255.4" y="324.7" font-size="6.4" text-anchor="middle" fill="#3A3A3A">0.0</text>
<text x="272.9" y="324.7" font-size="6.4" text-anchor="middle" fill="#3A3A3A">0.1</text>
<text x="290.4" y="324.7" font-size="6.4" text-anchor="middle" fill="#3A3A3A">0.2</text>
<text x="307.9" y="324.7" font-size="6.4" text-anchor="middle" fill="#3A3A3A">0.3</text>
<text x="325.4" y="324.7" font-size="6.4" text-anchor="middle" fill="#3A3A3A">0.4</text>
<text x="249.1" y="250.4" font-size="6.4" text-anchor="end" fill="#3A3A3A">4</text>
<text x="249.1" y="274.6" font-size="6.4" text-anchor="end" fill="#3A3A3A">0</text>
<text x="249.1" y="298.8" font-size="6.4" text-anchor="end" fill="#3A3A3A">-4</text>
<text x="292.9" y="219.3" font-size="10.15" text-anchor="middle" fill="#111">TCGA-HNSCC</text>
<text x="292.9" y="332.9" font-size="7.3" text-anchor="middle" fill="#111">Deconvoluted</text>
<text x="292.9" y="341.4" font-size="7.3" text-anchor="middle" fill="#111">proportion of CF1</text>
<text x="0" y="0" font-size="8.2" text-anchor="middle" fill="#111" transform="translate(243.4 271.2) rotate(-90) scale(0.89 1)">Expression level (<tspan font-style="italic">CXCL8</tspan>)</text>
<clipPath id="c3620"><rect x="362.0" y="226.5" width="83" height="89.8"/></clipPath>
<g stroke="#EBEBEB"><line x1="369.4" y1="226.5" x2="369.4" y2="316.3" stroke-width="0.4"/><line x1="383.4" y1="226.5" x2="383.4" y2="316.3" stroke-width="0.4"/><line x1="397.4" y1="226.5" x2="397.4" y2="316.3" stroke-width="0.4"/><line x1="411.4" y1="226.5" x2="411.4" y2="316.3" stroke-width="0.4"/><line x1="425.4" y1="226.5" x2="425.4" y2="316.3" stroke-width="0.4"/><line x1="439.4" y1="226.5" x2="439.4" y2="316.3" stroke-width="0.4"/><line x1="362.0" y1="255" x2="445.0" y2="255" stroke-width="0.4"/><line x1="362.0" y1="275.8" x2="445.0" y2="275.8" stroke-width="0.4"/><line x1="362.0" y1="296.6" x2="445.0" y2="296.6" stroke-width="0.4"/><line x1="362.0" y1="234.2" x2="445.0" y2="234.2" stroke-width="0.4"/><line x1="362.4" y1="226.5" x2="362.4" y2="316.3" stroke-width="0.7"/><line x1="376.4" y1="226.5" x2="376.4" y2="316.3" stroke-width="0.7"/><line x1="390.4" y1="226.5" x2="390.4" y2="316.3" stroke-width="0.7"/><line x1="404.4" y1="226.5" x2="404.4" y2="316.3" stroke-width="0.7"/><line x1="418.4" y1="226.5" x2="418.4" y2="316.3" stroke-width="0.7"/><line x1="432.4" y1="226.5" x2="432.4" y2="316.3" stroke-width="0.7"/><line x1="362.0" y1="244.6" x2="445.0" y2="244.6" stroke-width="0.7"/><line x1="362.0" y1="265.4" x2="445.0" y2="265.4" stroke-width="0.7"/><line x1="362.0" y1="286.2" x2="445.0" y2="286.2" stroke-width="0.7"/><line x1="362.0" y1="307" x2="445.0" y2="307" stroke-width="0.7"/></g>
<g clip-path="url(#c3620)"><path d="M390.9 244.7h0M396 249.8h0M398.6 249h0M400.3 251.5h0M402 250.7h0M402.8 252.4h0M399.1 253.2h0M401.1 254.1h0M396.9 255.8h0M398.1 256.6h0M394.3 257.5h0M395.2 259.2h0M387.2 255.8h0M388.4 260h0M390.9 262.6h0M391.8 264.3h0M390.1 265.1h0M389.2 266.8h0M385 264.3h0M383.3 265.1h0M382.4 267.7h0M382.1 271.1h0M372.2 263.1h0M371.4 266h0M368.8 268.5h0M396 262.6h0M397.7 263.4h0M402.8 265.1h0M402.5 266.8h0M403.7 257.5h0M404.5 260h0M398.6 267.7h0M396 271.1h0M400.3 271.9h0M403.7 274.5h0M388.4 269.4h0M383.3 275.3h0M384.1 277h0M379 276.2h0M370.5 276.5h0M373.1 278.7h0M388.4 278.7h0M385 281.3h0M378.2 281.3h0M396 278.7h0M399.4 282.1h0M399.8 283.8h0M377.3 284.7h0M376.5 285.5h0M382.4 285.5h0M387.5 285.5h0M374.8 288.9h0M383.3 293.7h0M379 295.7h0M390.1 294h0M365.4 297.1h0M373.6 297.4h0M374.8 301.7h0M377 301.7h0M365.7 312.2h0M392.6 260h0M385.8 270.2h0M380.4 273.6h0M402.9 251.5h0M402 253.2h0M403.7 257.5h0M402.9 259.2h0M405.4 258.3h0M406.3 256.6h0M407.1 259.2h0M404.6 262.6h0M406.3 264.3h0M407.1 261.7h0M402.9 266h0M405.4 266h0M409.7 249.8h0M411.4 253.2h0M412.2 259.2h0M410.5 260h0M415.6 243.9h0M419.9 245h0M419 249h0M414.8 252.4h0M415.6 254.9h0M418.2 253.2h0M419 249.8h0M420.4 259.2h0M419 260.9h0M415.6 267.2h0M403.7 274h0M425 247.3h0M425.8 252.4h0M430.1 245.6h0M435.2 246.4h0M436 237.1h0M441.5 243h0M430.1 244.7h0M422.4 249.8h0" stroke="#2B2B2B" stroke-width="2.7" stroke-linecap="round" fill="none"/>
<path d="M366.6 281.4 L370.6 279.5 L374.6 277.6 L378.5 275.5 L382.5 273.4 L386.5 271.1 L390.5 268.8 L394.5 266.4 L398.4 263.9 L402.4 261.3 L406.4 258.6 L410.4 255.9 L414.3 253 L418.3 250.1 L422.3 247.1 L426.3 244 L430.3 240.8 L434.2 237.5 L438.2 234.1 L442.2 230.7 L442.2 241.9 L438.2 243.8 L434.2 245.7 L430.3 247.8 L426.3 249.9 L422.3 252.2 L418.3 254.5 L414.3 256.9 L410.4 259.4 L406.4 262 L402.4 264.7 L398.4 267.4 L394.5 270.3 L390.5 273.2 L386.5 276.2 L382.5 279.3 L378.5 282.5 L374.6 285.8 L370.6 289.2 L366.6 292.7 Z" fill="#BEBEBE" fill-opacity="0.55"/>
<line x1="366.6" y1="287" x2="442.2" y2="236.3" stroke="#E69F00" stroke-width="1.1"/>
</g>
<rect x="362.0" y="226.5" width="83" height="89.8" fill="none" stroke="#333" stroke-width="0.7"/>
<g stroke="#333" stroke-width="0.6"><line x1="362.4" y1="316.3" x2="362.4" y2="318.3"/><line x1="376.4" y1="316.3" x2="376.4" y2="318.3"/><line x1="390.4" y1="316.3" x2="390.4" y2="318.3"/><line x1="404.4" y1="316.3" x2="404.4" y2="318.3"/><line x1="418.4" y1="316.3" x2="418.4" y2="318.3"/><line x1="432.4" y1="316.3" x2="432.4" y2="318.3"/><line x1="360" y1="244.6" x2="362.0" y2="244.6"/><line x1="360" y1="265.4" x2="362.0" y2="265.4"/><line x1="360" y1="286.2" x2="362.0" y2="286.2"/><line x1="360" y1="307" x2="362.0" y2="307"/></g>
<text x="362.4" y="324.8" font-size="6.4" text-anchor="middle" fill="#3A3A3A">0.05</text>
<text x="376.4" y="324.8" font-size="6.4" text-anchor="middle" fill="#3A3A3A">0.10</text>
<text x="390.4" y="324.8" font-size="6.4" text-anchor="middle" fill="#3A3A3A">0.15</text>
<text x="404.4" y="324.8" font-size="6.4" text-anchor="middle" fill="#3A3A3A">0.20</text>
<text x="418.4" y="324.8" font-size="6.4" text-anchor="middle" fill="#3A3A3A">0.25</text>
<text x="432.4" y="324.8" font-size="6.4" text-anchor="middle" fill="#3A3A3A">0.30</text>
<text x="359.5" y="246.9" font-size="6.4" text-anchor="end" fill="#3A3A3A">2.5</text>
<text x="359.5" y="267.7" font-size="6.4" text-anchor="end" fill="#3A3A3A">0.0</text>
<text x="359.5" y="288.5" font-size="6.4" text-anchor="end" fill="#3A3A3A">-2.5</text>
<text x="359.5" y="309.3" font-size="6.4" text-anchor="end" fill="#3A3A3A">-5.0</text>
<text x="403.5" y="219.3" font-size="10.15" text-anchor="middle" fill="#111">GSE41613</text>
<text x="403.5" y="332.9" font-size="7.3" text-anchor="middle" fill="#111">Deconvoluted</text>
<text x="403.5" y="341.4" font-size="7.3" text-anchor="middle" fill="#111">proportion of CF1</text>
<text x="0" y="0" font-size="8.2" text-anchor="middle" fill="#111" transform="translate(348 271.4) rotate(-90) scale(0.89 1)">Expression level (<tspan font-style="italic">CXCL8</tspan>)</text>
<clipPath id="c4696"><rect x="469.6" y="226.0" width="82.6" height="89.8"/></clipPath>
<g stroke="#EBEBEB"><line x1="482.1" y1="226.0" x2="482.1" y2="315.8" stroke-width="0.4"/><line x1="500.1" y1="226.0" x2="500.1" y2="315.8" stroke-width="0.4"/><line x1="518.2" y1="226.0" x2="518.2" y2="315.8" stroke-width="0.4"/><line x1="536.4" y1="226.0" x2="536.4" y2="315.8" stroke-width="0.4"/><line x1="469.6" y1="240.5" x2="552.2" y2="240.5" stroke-width="0.4"/><line x1="469.6" y1="261.1" x2="552.2" y2="261.1" stroke-width="0.4"/><line x1="469.6" y1="281.7" x2="552.2" y2="281.7" stroke-width="0.4"/><line x1="469.6" y1="302.3" x2="552.2" y2="302.3" stroke-width="0.4"/><line x1="473" y1="226.0" x2="473" y2="315.8" stroke-width="0.7"/><line x1="491.1" y1="226.0" x2="491.1" y2="315.8" stroke-width="0.7"/><line x1="509.2" y1="226.0" x2="509.2" y2="315.8" stroke-width="0.7"/><line x1="527.3" y1="226.0" x2="527.3" y2="315.8" stroke-width="0.7"/><line x1="545.4" y1="226.0" x2="545.4" y2="315.8" stroke-width="0.7"/><line x1="469.6" y1="230.2" x2="552.2" y2="230.2" stroke-width="0.7"/><line x1="469.6" y1="250.8" x2="552.2" y2="250.8" stroke-width="0.7"/><line x1="469.6" y1="271.4" x2="552.2" y2="271.4" stroke-width="0.7"/><line x1="469.6" y1="292" x2="552.2" y2="292" stroke-width="0.7"/><line x1="469.6" y1="312.6" x2="552.2" y2="312.6" stroke-width="0.7"/></g>
<g clip-path="url(#c4696)"><path d="M473 254h0M473.4 271.1h0M473.4 276.2h0M473.4 281.5h0M473 285.3h0M474.3 291.5h0M473.9 292.8h0M474.3 294.3h0M475.3 295.7h0M473.4 299.4h0M473.4 303.2h0M473.4 306.1h0M473.4 311.7h0M474.9 261.2h0M475.3 262.6h0M476.2 266.3h0M474.3 276.2h0M475.8 276.2h0M477.2 279h0M478.1 290.4h0M482.8 259.2h0M482.8 284.3h0M482.5 289.4h0M483.8 271.4h0M485.7 265.4h0M487 312.1h0M488.5 259.2h0M490.4 280.9h0M491.3 265.4h0M492.3 284.3h0M493.2 257.5h0M494.2 257.5h0M494.6 290h0M493.8 306.4h0M495.7 270.1h0M497.4 265.4h0M498.9 256.9h0M500.8 265.4h0M501.7 271.4h0M501.4 251.2h0M502.7 252.2h0M503.3 257.8h0M503.6 254.4h0M504.6 253.1h0M505.1 252.2h0M504 275.8h0M504 281.5h0M505.9 270.1h0M507.4 280.9h0M508.4 276.4h0M508.6 248.7h0M508.9 258.8h0M510.3 260.7h0M511.2 265h0M515.4 292.3h0M516.9 257.5h0M520.3 257.5h0M520.7 244.6h0M521.6 249.3h0M522.2 251.2h0M523.5 252.2h0M526.3 239.9h0M526.7 248.4h0M526.3 254h0M534.3 255.6h0M539.6 256.3h0M548.1 254h0M473.7 291.9h0M474.5 293.4h0M473.6 286.2h0M474.7 295.7h0M475.8 292.8h0M475.3 263.5h0M473.7 255.9h0M473 272h0M480 276.7h0M480.9 271.1h0M490 266h0M501 251.8h0M505.5 250.3h0M506.7 253.1h0M502.7 271.1h0M494.2 268.2h0M492.7 290h0M495.1 289h0" stroke="#2B2B2B" stroke-width="2.7" stroke-linecap="round" fill="none"/>
<path d="M473 280.5 L477 278.6 L481 276.6 L485 274.6 L489 272.4 L493 270.2 L497 267.9 L501 265.5 L505 263 L509 260.4 L513 257.7 L517 255 L521 252.2 L525 249.2 L529 246.2 L533 243.1 L537 240 L541 236.7 L545 233.4 L549 229.9 L549 248.8 L545 250.2 L541 251.6 L537 253.1 L533 254.7 L529 256.4 L525 258.2 L521 260.1 L517 262 L513 264 L509 266.2 L505 268.4 L501 270.6 L497 273 L493 275.5 L489 278 L485 280.7 L481 283.4 L477 286.2 L473 289.1 Z" fill="#BEBEBE" fill-opacity="0.55"/>
<line x1="473" y1="284.8" x2="549" y2="239.4" stroke="#E69F00" stroke-width="1.1"/>
</g>
<rect x="469.6" y="226.0" width="82.6" height="89.8" fill="none" stroke="#333" stroke-width="0.7"/>
<g stroke="#333" stroke-width="0.6"><line x1="473" y1="315.8" x2="473" y2="317.8"/><line x1="491.1" y1="315.8" x2="491.1" y2="317.8"/><line x1="509.2" y1="315.8" x2="509.2" y2="317.8"/><line x1="527.3" y1="315.8" x2="527.3" y2="317.8"/><line x1="545.4" y1="315.8" x2="545.4" y2="317.8"/><line x1="467.6" y1="230.2" x2="469.6" y2="230.2"/><line x1="467.6" y1="250.8" x2="469.6" y2="250.8"/><line x1="467.6" y1="271.4" x2="469.6" y2="271.4"/><line x1="467.6" y1="292" x2="469.6" y2="292"/><line x1="467.6" y1="312.6" x2="469.6" y2="312.6"/></g>
<text x="473" y="324.3" font-size="6.4" text-anchor="middle" fill="#3A3A3A">0.00</text>
<text x="491.1" y="324.3" font-size="6.4" text-anchor="middle" fill="#3A3A3A">0.05</text>
<text x="509.2" y="324.3" font-size="6.4" text-anchor="middle" fill="#3A3A3A">0.10</text>
<text x="527.3" y="324.3" font-size="6.4" text-anchor="middle" fill="#3A3A3A">0.15</text>
<text x="545.4" y="324.3" font-size="6.4" text-anchor="middle" fill="#3A3A3A">0.20</text>
<text x="467.1" y="232.5" font-size="6.4" text-anchor="end" fill="#3A3A3A">4</text>
<text x="467.1" y="253.1" font-size="6.4" text-anchor="end" fill="#3A3A3A">2</text>
<text x="467.1" y="273.7" font-size="6.4" text-anchor="end" fill="#3A3A3A">0</text>
<text x="467.1" y="294.3" font-size="6.4" text-anchor="end" fill="#3A3A3A">-2</text>
<text x="467.1" y="314.9" font-size="6.4" text-anchor="end" fill="#3A3A3A">-4</text>
<text x="510.9" y="219.3" font-size="10.15" text-anchor="middle" fill="#111">GSE42743</text>
<text x="510.9" y="332.9" font-size="7.3" text-anchor="middle" fill="#111">Deconvoluted</text>
<text x="510.9" y="341.4" font-size="7.3" text-anchor="middle" fill="#111">proportion of CF1</text>
<text x="0" y="0" font-size="8.2" text-anchor="middle" fill="#111" transform="translate(458.1 270.9) rotate(-90) scale(0.89 1)">Expression level (<tspan font-style="italic">CXCL8</tspan>)</text>
<clipPath id="c5762"><rect x="576.2" y="226.6" width="83.5" height="89.2"/></clipPath>
<g stroke="#EBEBEB"><line x1="592.5" y1="226.6" x2="592.5" y2="315.8" stroke-width="0.4"/><line x1="616.6" y1="226.6" x2="616.6" y2="315.8" stroke-width="0.4"/><line x1="640.8" y1="226.6" x2="640.8" y2="315.8" stroke-width="0.4"/><line x1="576.2" y1="251.6" x2="659.7" y2="251.6" stroke-width="0.4"/><line x1="576.2" y1="271.9" x2="659.7" y2="271.9" stroke-width="0.4"/><line x1="576.2" y1="292.1" x2="659.7" y2="292.1" stroke-width="0.4"/><line x1="576.2" y1="231.2" x2="659.7" y2="231.2" stroke-width="0.4"/><line x1="576.2" y1="312.4" x2="659.7" y2="312.4" stroke-width="0.4"/><line x1="580.5" y1="226.6" x2="580.5" y2="315.8" stroke-width="0.7"/><line x1="604.6" y1="226.6" x2="604.6" y2="315.8" stroke-width="0.7"/><line x1="628.7" y1="226.6" x2="628.7" y2="315.8" stroke-width="0.7"/><line x1="652.8" y1="226.6" x2="652.8" y2="315.8" stroke-width="0.7"/><line x1="576.2" y1="241.4" x2="659.7" y2="241.4" stroke-width="0.7"/><line x1="576.2" y1="261.7" x2="659.7" y2="261.7" stroke-width="0.7"/><line x1="576.2" y1="282" x2="659.7" y2="282" stroke-width="0.7"/><line x1="576.2" y1="302.3" x2="659.7" y2="302.3" stroke-width="0.7"/></g>
<g clip-path="url(#c5762)"><path d="M588.8 270.4h0M609.3 273.2h0M584.8 287.6h0M611.4 274.8h0M602.6 269.9h0M584.2 278.7h0M589.8 263.9h0M598.4 269h0M606.5 283.1h0M594.8 271.1h0M593.2 274.8h0M583.6 270.9h0M606.3 266.1h0M597.5 266.8h0M588 311.4h0M588.2 296.9h0M581.3 299.3h0M594.1 303h0M590.3 300.5h0M593 264.6h0M586 283.7h0M605.1 285.3h0M589.3 282.9h0M595.4 286.6h0M587.5 281.3h0M592.6 284h0M595.1 299.1h0M582 280h0M594.3 274.3h0M584 286.9h0M595 288.9h0M598.3 287.8h0M609 279.3h0M590.5 290h0M588.3 280.8h0M609.9 276.3h0M611.6 270.3h0M600.5 266.2h0M602.4 269.4h0M586.5 312.4h0M588.2 301.8h0M590.2 306.9h0M586.7 305.4h0M588.6 290.1h0M608 261.3h0M600.4 283.9h0M597 259.9h0M610.5 276.9h0M592.2 265.5h0M587 285.3h0M591.6 308.4h0M602.2 278.8h0M603.1 288.9h0M591.5 294h0M595.6 282.6h0M607.5 279.3h0M581.7 287.8h0M582.9 305.1h0M587 279.1h0M591.4 282.2h0M608.7 274.3h0M593.3 296.3h0M592.1 263.6h0M591 302.8h0M589.4 290.5h0M610.1 262.5h0M600.4 271.7h0M585.1 289.2h0M584.1 306.4h0M597 265.9h0M583.4 310.6h0M599 270.5h0M591.4 279.5h0M590.5 306.2h0M597.8 277.2h0M589.1 283h0M582.7 294h0M583.6 279.6h0M591.4 261.2h0M584.9 282.1h0M583.3 282.4h0M594.6 285.7h0M608 268h0M589.2 280.2h0M587 281.1h0M594 296.4h0M606.7 259.3h0M588.9 305.5h0M595.8 282.8h0M610.2 259.2h0M598.6 276.2h0M599.6 274h0M592.3 278.1h0M594.8 261.3h0M596.6 281h0M586.4 271.9h0M596.1 303.9h0M597.8 300.5h0M592.2 296.8h0M597.8 280.7h0M607.3 283.8h0M610.2 265.8h0M582 293.1h0M581.9 299h0M584.2 305.6h0M594.4 285.6h0M586.4 295.1h0M582.7 307.7h0M592.1 291.6h0M605.5 258h0M585.8 270.8h0M581.8 302.1h0M582.6 309h0M586.4 282h0M606.6 262.1h0M608.9 279.5h0M603.1 274.4h0M589 260.1h0M593 307.2h0M597 280.9h0M599.6 279.3h0M606.3 271.6h0M599.2 279.7h0M595 266.7h0M594.7 298.6h0M586 263.2h0M613.4 270h0M592.1 260h0M596.8 284.7h0M586.2 278.9h0M601.2 290.6h0M592.4 259.8h0M586.1 274.1h0M613.5 270h0M598.8 285.6h0M585.2 280.4h0M609.2 268.9h0M593.2 302.5h0M599.6 273.1h0M593 279.5h0M602.5 264.2h0M595.6 270.6h0M581.1 301.8h0M602.7 257.3h0M594.1 305.1h0M583 274.9h0M598 277.4h0M592.8 296.8h0M603.6 288.4h0M599.4 259.8h0M604.8 271.8h0M596.6 275.3h0M594.7 287.4h0M609.2 279.3h0M606.8 279.6h0M597.7 270.8h0M591.7 265.9h0M603.1 266h0M588.3 292.3h0M598.6 299.5h0M603.6 266.8h0M591.6 272.1h0M600.9 284.1h0M606.5 258.4h0M597.2 297.3h0M585.7 274.6h0M589 268.6h0M589.8 286.1h0M592.8 301.4h0M589.4 277h0M587.5 273.4h0M596.9 297.3h0M596.6 273.5h0M583.2 269.9h0M583.7 296.9h0M607.6 273.9h0M591.9 306.1h0M584.7 268.5h0M589.7 298.4h0M580.9 280.8h0M604.7 260.2h0M582.3 289.2h0M591.9 306.6h0M588 293.5h0M602.7 291.5h0M604.7 283.9h0M594.8 275.8h0M591.5 277.3h0M588.2 282.7h0M601.8 294.1h0M599.5 289.1h0M612.3 271.7h0M611 267.4h0M586.7 294.1h0M592.1 306.9h0M608.7 265.8h0M585 296.8h0M601.8 286.3h0M587 272.5h0M596.3 262.7h0M592 301.7h0M597 290.4h0M594.7 280.3h0M595.3 300.1h0M581.2 275.9h0M591.5 298.9h0M585.7 291.3h0M596.3 296.2h0M594.9 300.9h0M592 286.5h0M591.8 279.2h0M586.1 303.3h0M591.9 305.2h0M584.5 286.4h0M582.2 307.2h0M591.9 291.3h0M582.8 287.5h0M593.4 291.8h0M582.7 304.1h0M584.8 300.6h0M597.1 275.4h0M597.2 282h0M589.3 298.9h0M583.1 283.2h0M593.4 281.1h0M586.1 281.4h0M592.6 295.1h0M591.5 285.8h0M581.7 286.1h0M589.7 295.4h0M591.9 273.5h0M582.5 297h0M592.7 306.6h0M584 301h0M589.4 272.7h0M591.4 289.3h0M589.6 285.8h0M593.4 293h0M591.1 278.8h0M586.5 296.3h0M582.3 303.1h0M590.7 275.7h0M587.8 289h0M591.7 292.8h0M589.3 275.8h0M588.1 308h0M582.3 301h0M585.7 298.3h0M595 298.1h0M581.2 280.3h0M589.1 277.8h0M591.7 270.9h0M588.9 291h0M597.1 278h0M592.2 277.1h0M595.4 285.4h0M588.7 289.9h0M585.8 296.4h0M595.2 300.3h0M590.3 304.4h0M594.2 280.3h0M583.7 291.9h0M589 287.2h0M581.1 279h0M592.3 286.2h0M586.4 285.8h0M590.3 300.5h0M587.4 272.2h0M585.7 291.5h0M586.4 283.9h0M587.2 273.2h0M583.1 299.7h0M596.8 284.4h0M592.8 293.1h0M581.6 310.4h0M588.6 282.1h0M586.2 280.3h0M585 296.4h0M593.6 291h0M589.2 311.1h0M585.7 301.3h0M587.7 304.9h0M596.1 277.6h0M594 295.1h0M591.4 297.9h0M585.3 273.6h0M593.7 275.6h0M591.2 283.8h0M597.1 287.9h0M585.1 303.6h0M581.6 288.1h0M582.1 292.8h0M585.8 298.1h0M593.3 298.2h0M595.9 277.6h0M594.7 300.9h0M586.2 300.9h0M587.4 300.1h0M587.2 285.9h0M590.6 280h0M594.6 296.1h0M595.7 295.2h0M584.2 295.8h0M585.2 301.6h0M582.4 274.9h0M584.7 274h0M586.5 311.3h0M593.7 278.8h0M595.9 290h0M594.9 298.6h0M623.1 256h0M608.9 263.8h0M616.5 277.1h0M605.7 270.3h0M610.3 272.4h0M606.5 279h0M624 254.6h0M625.8 254.6h0M608.4 278.6h0M606.9 279.3h0M607.6 270.6h0M627.1 268.3h0M611.1 270.8h0M614.7 263.4h0M625.9 268.1h0M604.8 272.6h0M618.8 261h0M617.1 269.7h0M587.7 257.6h0M626.3 255.6h0M631.1 257.6h0M633.5 255.6h0M648 256.6h0M656.4 250.5h0M592.5 302.3h0M593.8 294.2h0M616.6 279h0M619.1 266.8h0" stroke="#2B2B2B" stroke-width="2.7" stroke-linecap="round" fill="none"/>
<path d="M580.5 288.8 L584.6 286.3 L588.6 283.6 L592.7 280.8 L596.7 278 L600.8 275 L604.9 272 L608.9 268.9 L613 265.7 L617 262.4 L621.1 259 L625.1 255.5 L629.2 251.9 L633.3 248.3 L637.3 244.5 L641.4 240.7 L645.4 236.8 L649.5 232.8 L653.6 228.6 L657.6 224.4 L657.6 248.3 L653.6 249.8 L649.5 251.4 L645.4 253.1 L641.4 254.9 L637.3 256.8 L633.3 258.7 L629.2 260.8 L625.1 262.9 L621.1 265.2 L617 267.5 L613 269.9 L608.9 272.4 L604.9 275 L600.8 277.7 L596.7 280.4 L592.7 283.3 L588.6 286.2 L584.6 289.3 L580.5 292.4 Z" fill="#BEBEBE" fill-opacity="0.55"/>
<line x1="580.5" y1="290.6" x2="657.6" y2="236.4" stroke="#E69F00" stroke-width="1.1"/>
</g>
<rect x="576.2" y="226.6" width="83.5" height="89.2" fill="none" stroke="#333" stroke-width="0.7"/>
<g stroke="#333" stroke-width="0.6"><line x1="580.5" y1="315.8" x2="580.5" y2="317.8"/><line x1="604.6" y1="315.8" x2="604.6" y2="317.8"/><line x1="628.7" y1="315.8" x2="628.7" y2="317.8"/><line x1="652.8" y1="315.8" x2="652.8" y2="317.8"/><line x1="574.2" y1="241.4" x2="576.2" y2="241.4"/><line x1="574.2" y1="261.7" x2="576.2" y2="261.7"/><line x1="574.2" y1="282" x2="576.2" y2="282"/><line x1="574.2" y1="302.3" x2="576.2" y2="302.3"/></g>
<text x="580.5" y="324.3" font-size="6.4" text-anchor="middle" fill="#3A3A3A">0.0</text>
<text x="604.6" y="324.3" font-size="6.4" text-anchor="middle" fill="#3A3A3A">0.1</text>
<text x="628.7" y="324.3" font-size="6.4" text-anchor="middle" fill="#3A3A3A">0.2</text>
<text x="652.8" y="324.3" font-size="6.4" text-anchor="middle" fill="#3A3A3A">0.3</text>
<text x="573.7" y="243.7" font-size="6.4" text-anchor="end" fill="#3A3A3A">4</text>
<text x="573.7" y="264" font-size="6.4" text-anchor="end" fill="#3A3A3A">2</text>
<text x="573.7" y="284.3" font-size="6.4" text-anchor="end" fill="#3A3A3A">0</text>
<text x="573.7" y="304.6" font-size="6.4" text-anchor="end" fill="#3A3A3A">-2</text>
<text x="618" y="219.3" font-size="10.15" text-anchor="middle" fill="#111">GSE65858</text>
<text x="618" y="332.9" font-size="7.3" text-anchor="middle" fill="#111">Deconvoluted</text>
<text x="618" y="341.4" font-size="7.3" text-anchor="middle" fill="#111">proportion of CF1</text>
<text x="0" y="0" font-size="8.2" text-anchor="middle" fill="#111" transform="translate(565.5 271.2) rotate(-90) scale(0.89 1)">Expression level (<tspan font-style="italic">CXCL8</tspan>)</text>
<text x="-1.2" y="381" font-size="18.5" text-anchor="start" fill="#000" font-weight="bold">e</text>
<clipPath id="c264"><rect x="26.4" y="401.2" width="115.4" height="106.2"/></clipPath>
<g stroke="#EBEBEB"><line x1="45.4" y1="401.2" x2="45.4" y2="507.4" stroke-width="0.4"/><line x1="72.6" y1="401.2" x2="72.6" y2="507.4" stroke-width="0.4"/><line x1="99.7" y1="401.2" x2="99.7" y2="507.4" stroke-width="0.4"/><line x1="126.9" y1="401.2" x2="126.9" y2="507.4" stroke-width="0.4"/><line x1="26.4" y1="491.5" x2="141.8" y2="491.5" stroke-width="0.4"/><line x1="26.4" y1="469.4" x2="141.8" y2="469.4" stroke-width="0.4"/><line x1="26.4" y1="447.4" x2="141.8" y2="447.4" stroke-width="0.4"/><line x1="26.4" y1="425.3" x2="141.8" y2="425.3" stroke-width="0.4"/><line x1="26.4" y1="403.3" x2="141.8" y2="403.3" stroke-width="0.4"/><line x1="31.8" y1="401.2" x2="31.8" y2="507.4" stroke-width="0.7"/><line x1="59" y1="401.2" x2="59" y2="507.4" stroke-width="0.7"/><line x1="86.2" y1="401.2" x2="86.2" y2="507.4" stroke-width="0.7"/><line x1="113.3" y1="401.2" x2="113.3" y2="507.4" stroke-width="0.7"/><line x1="140.5" y1="401.2" x2="140.5" y2="507.4" stroke-width="0.7"/><line x1="26.4" y1="502.5" x2="141.8" y2="502.5" stroke-width="0.7"/><line x1="26.4" y1="480.4" x2="141.8" y2="480.4" stroke-width="0.7"/><line x1="26.4" y1="458.4" x2="141.8" y2="458.4" stroke-width="0.7"/><line x1="26.4" y1="436.4" x2="141.8" y2="436.4" stroke-width="0.7"/><line x1="26.4" y1="414.3" x2="141.8" y2="414.3" stroke-width="0.7"/></g>
<g clip-path="url(#c264)"><path d="M77.6 498.4h0M94.3 498.3h0M57 462.6h0M92.8 474.2h0M111 490.3h0M91 490.9h0M75.1 466.8h0M119.2 484.1h0M48.4 482.6h0M95.1 494.8h0M77.5 499.6h0M45.5 460.4h0M36.1 480.4h0M32.1 501.7h0M92 464.5h0M129.8 485.5h0M85.4 499.6h0M74.4 470.7h0M102.8 483.3h0M81.3 485.6h0M96.9 468.9h0M84.2 483.9h0M99.7 492.4h0M125.9 458.2h0M116.4 484h0M32.5 500h0M45.4 497.8h0M83.6 494.9h0M73.2 491.4h0M38.3 467.6h0M97 480h0M69.1 502.4h0M72.9 468.9h0M127.8 480.4h0M82.6 481h0M71.2 488.8h0M103.4 497.2h0M60.1 483.8h0M121.7 455.6h0M48.3 475.2h0M106.6 501.1h0M74.1 474.2h0M45.7 496.6h0M129.4 454.9h0M51 477.9h0M50.4 485.7h0M130.4 456.7h0M63.5 501.5h0M104.4 462.4h0M105.2 485.8h0M66.1 500h0M61.7 455.9h0M79.2 482.3h0M32.7 485.2h0M68 482.9h0M45.8 499h0M96.9 492.8h0M42.9 467.6h0M71.9 468.4h0M75.3 468.2h0M81.9 466.1h0M90.6 499.7h0M84.6 465.9h0M43 488.9h0M127.4 483.3h0M33.3 489.3h0M101.4 500h0M126.1 450.1h0M134.3 451.8h0M57.5 483.3h0M48.2 492.7h0M74.4 490.3h0M132.9 455.8h0M100 490.6h0M48 477.5h0M62.2 460h0M106.3 465.1h0M123.6 483.4h0M119.8 457.8h0M136.7 456.9h0M96 501.4h0M72.2 465.4h0M67.9 500h0M117.5 473.8h0M63.9 500.5h0M99.4 499.7h0M44.8 465.7h0M73.9 485.8h0M73.3 458.7h0M118.9 464h0M75.6 483.7h0M53.4 496.7h0M98.4 463.5h0M57.8 481.9h0M86.4 460.1h0M104.9 490.5h0M51 469.2h0M61.3 490.3h0M78.5 486.6h0M125.3 472.2h0M67.3 480.5h0M85.4 497.5h0M73.1 469.7h0M126.8 471.5h0M34.6 472.2h0M43.2 470.9h0M64 483.1h0M103.7 491h0M50.6 477.8h0M102.2 471.6h0M113.5 488.1h0M123.7 481.8h0M115.6 485.2h0M61.2 467.5h0M54.2 501.7h0M33.2 464.4h0M77.3 480.6h0M83 487.8h0M85.4 487h0M60.4 501.9h0M54.2 480.8h0M130.7 463.9h0M126.6 462.2h0M72.7 500.6h0M53.9 499.9h0M63.1 481.1h0M38.7 495.3h0M39.8 468.1h0M57.8 482.2h0M37.7 484.2h0M57.8 500.4h0M106.4 465.7h0M60 499.9h0M42.3 471.2h0M49.2 500.2h0M59.1 460.6h0M124.2 493.4h0M67.8 471.6h0M125.7 491.6h0M118.4 487.3h0M135.7 460.1h0M38.7 480.7h0M60.2 490.1h0M104.2 498.3h0M69 484.9h0M60 486.8h0M103 499.9h0M46.4 486.5h0M100.5 474.2h0M98.5 458.8h0M91.5 502.1h0M35.6 476h0M34.2 489.2h0M50.7 488.1h0M63.1 495h0M73.4 489.5h0M93 482.7h0M68.4 500h0M66.6 461.5h0M123.8 456.5h0M135.5 493.4h0M124.5 501.2h0M44.5 498.8h0M112.8 471.1h0M38.1 485.8h0M91.6 501.3h0M117.7 473h0M104.2 488.5h0M73.6 478.2h0M115.3 467.5h0M39.5 492.2h0M134.9 491.7h0M96 496.7h0M119.9 485h0M109.6 483.3h0M81.5 476.5h0M33.8 488.5h0M86.6 477.8h0M78.9 499h0M47.8 500.3h0M72 497h0M63.5 491.1h0M76.5 476.6h0M81.6 487.4h0M49.9 494.4h0M125.1 485.7h0M78.2 491.3h0M59.3 491.2h0M110.4 458h0M113.5 476.2h0M59.7 478.3h0M90.4 463.8h0M71.9 490.3h0M77.9 476.7h0M79.2 498.4h0M82.1 500.8h0M53.1 498.5h0M88.7 496.6h0M94.6 488.5h0M92 500.4h0M72.6 495.7h0M114.5 471.7h0M74.6 482.1h0M122.3 468.3h0M68.4 499.6h0M49.9 479.6h0M56.1 481.2h0M105.5 486.9h0M127.9 474.8h0M116.1 475h0M131 487.3h0M68 459.5h0M37.3 493.8h0M83.1 495.3h0M95.7 474.5h0M108.4 453.2h0M38.2 500h0M42.4 474.3h0M73.8 488h0M110.6 464.4h0M36.6 499.6h0M47.9 491.7h0M59.8 485.5h0M46.4 497.7h0M56.4 479.2h0M67.6 497.9h0M124.6 481.3h0M128.5 453.3h0M87.6 471.5h0M48.9 482.7h0M103.1 466.2h0M81.8 471.9h0M40.1 485.2h0M92.7 458.2h0M126.3 469.7h0M92.3 493.7h0M33.3 476.5h0M50.6 471h0M34 466.9h0M92.1 466.9h0M112.6 460.5h0M43.1 460.4h0M137.7 468.3h0M40.3 470.5h0M34.2 493.1h0M48.4 500.9h0M104.9 469.9h0M106.6 475.4h0M64.3 489.5h0M78.3 493.8h0M122.2 480.8h0M70.1 471.6h0M64.2 459.8h0M56.3 465.5h0M105 468.1h0M52.7 491.5h0M123.2 473.2h0M36.3 459.4h0M55.3 479.1h0M68.1 460.7h0M131.2 462.5h0M80.3 484.2h0M70.5 459.4h0M62.9 502.2h0M83.8 488.3h0M98.7 474.8h0M55.3 470.6h0M117.2 466h0M94.8 473.2h0M116.8 473.5h0M123 490.1h0M35.1 471.2h0M78.7 453.3h0M67.1 468.3h0M82.2 452h0M42.6 480.9h0M74.5 454.4h0M79.4 498.3h0M123.3 458.9h0M135.7 486.2h0M34.7 499h0M107 471.2h0M118.9 476.1h0M85.2 494.5h0M115.3 489.5h0M137.3 466h0M81.1 494.9h0M76.1 486.8h0M55.7 501.4h0M113.9 464h0M99.1 499.7h0M40.5 464h0M84.3 495.9h0M74.4 497.8h0M128.5 483.5h0M97.5 482.9h0M51.8 488.6h0M42.4 495.9h0M52.6 468.6h0M80.4 472.9h0M64.5 463.6h0M107.7 486.9h0M89.4 500.1h0M41.3 499.4h0M105.5 458.7h0M110.9 494.9h0M70.3 486.9h0M99.5 491.8h0M112 473.4h0M84.4 476.6h0M91 486.3h0M55 462.8h0M97.9 457.4h0M137.5 473.7h0M49.5 500.3h0M66.6 485.7h0M52.7 476.4h0M50.3 490.1h0M52.6 501.6h0M45.3 487.3h0M109.8 466.4h0M121.6 484.4h0M97.1 471.8h0M57.2 478.7h0M122.4 464.4h0M45.2 479.5h0M125.3 486.7h0M83.8 480.8h0M75.2 470.9h0M112.6 453.8h0M102.5 490.7h0M68.3 460.4h0M45.3 496h0M78 495.3h0M53.6 495.5h0M55.3 468.9h0M111.8 483.9h0M99.3 455.3h0M67.1 495.9h0M36.7 488.3h0M72.1 497.2h0M96 495.8h0M64.8 493.6h0M86 492.7h0M47 485.3h0M111.2 455.2h0M36.8 495.1h0M94 479.5h0M62.8 465.4h0M52.3 464.9h0M124.3 467.6h0M38.9 497.7h0M78.6 487.8h0M53 472h0M46.3 501.5h0M115.5 447.2h0M117.8 477.6h0M72.1 461h0M39.3 469.8h0M49.3 493.1h0M74.1 465.8h0M90.4 454.7h0M82.6 483.3h0M76.2 481h0M70 480.7h0M52.5 500.4h0M43.3 486.9h0M34.7 502.3h0M109.6 488.5h0M52 498.6h0M122.8 447.1h0M52.3 459.5h0M102.9 490.9h0M81.4 468.4h0M38 497.2h0M47.4 478.3h0M122.9 477h0M55.5 489.6h0M69.6 475.5h0M57.6 483.2h0M90.8 492h0M36.1 474.6h0M48 490.4h0M55.1 501.7h0M58.9 460.7h0M67.4 485.2h0M65.4 492.3h0M135.3 446.5h0M103.5 451.8h0M54.1 483.1h0M99.8 490.3h0M120.7 476.4h0M121.2 478.6h0M79.1 487.1h0M32.8 487.3h0M116.4 479.7h0M47.2 500.1h0M121.5 464.6h0M66.5 475.6h0M77 475.2h0M86.3 501.7h0M119.3 466.3h0M58.3 484.5h0M60.4 480.4h0M68.5 467.9h0M54.6 460.5h0M110.9 463h0M72.7 454.9h0M99.3 460h0M76.4 493.7h0M34.5 500.3h0M58.3 478.2h0M64.3 492.2h0M105.8 461.8h0M124.5 488h0M110.2 465.9h0M128.9 453.2h0M94 487.8h0M34.2 473.7h0M63.3 454.2h0M137.2 482.1h0M48.8 481.8h0M50.9 461.2h0M39.2 484.5h0M52.7 502.2h0M98.4 498.6h0M71.4 496.6h0M59.7 494.6h0M75.5 498.4h0M56.3 497.1h0M45 501.1h0M106.9 497.4h0M39.3 481.1h0M102.4 480.1h0M116.6 456.6h0M57.6 461.3h0M122.4 463.5h0M49.4 489.8h0M107.8 487.4h0M130.2 445.9h0M96.7 481.6h0M131.3 485.9h0M74.3 501.4h0M39.6 485.5h0M92.1 466.6h0M130.3 463.1h0M105 487.1h0M80 496.3h0M56.6 495.9h0M54.9 482.6h0M41 480.8h0M92.7 483h0M36.6 486.2h0M91.3 468.6h0M102 483.8h0M79.8 496.3h0M114.7 472.8h0M81.9 470.6h0M62.4 490.2h0M36.9 474.4h0M116.2 452.1h0M97.5 456.8h0M94.5 473.9h0M87.8 469.5h0M74.5 483.4h0M63 495.2h0M78.8 487.2h0M59.2 473.5h0M40.7 468.7h0M35.3 470.1h0M54.1 495.4h0M78.9 480.8h0M79.6 494.6h0M65.2 491.7h0M39.5 467.4h0M76.5 493.3h0M42.1 500.6h0M45.8 489.5h0M72.3 455.5h0M96.5 483.2h0M57.6 469.3h0M76.6 486.2h0M127.2 474.6h0M43.5 498.1h0M48.7 483.9h0M76.2 483.9h0M96.7 482.7h0M71.1 489.4h0M60.9 495.1h0M44.8 466.1h0M126.3 479.8h0M99.1 500.6h0M77 489.4h0M106.9 502.3h0M48.8 469.7h0M129.5 446.2h0M70.2 481.4h0M31.8 476.1h0M111.2 463.1h0M39.2 484.4h0M86.4 472.9h0M69.6 498.4h0M35.6 491.5h0M59.4 490.8h0M123.5 479h0M69.7 502.5h0M51.4 501.9h0M55.3 496h0M86.2 473h0M100.8 459.2h0M52.9 463.7h0M98.7 493h0M63 492.2h0M41.4 488.1h0M65.7 501.2h0M57.3 500.4h0M33.2 490.3h0M73.8 487.4h0M80.5 495.5h0M131.2 472.9h0M89.9 462.7h0M62.8 497.8h0M102.1 490.6h0M58.8 474.7h0M36.9 492.3h0M79.7 500h0M107.5 465.6h0M114.9 480.7h0M54.2 497.1h0M89.5 499.2h0M79.4 496.5h0M65.3 497.1h0M76.4 478.7h0M88.5 485.5h0M121.2 481.5h0M46.5 488.9h0M103.2 486.5h0M90.1 481.3h0M85.7 486.4h0M52.6 501.5h0M116.9 463h0M75.9 470h0M84.2 467.9h0M53.4 472.5h0M89.7 484.8h0M82.1 484.9h0M82 483h0M48.5 493.2h0M73.3 488.3h0M84.2 498.9h0M57.2 493.8h0M99.1 475.7h0M46.3 472.4h0M135.9 483.5h0M103.2 482.8h0M42 480.6h0M92.8 492.9h0M136.5 452.2h0M90.8 486.6h0M71.9 473.8h0M87.3 477.5h0M53.8 494.9h0M111.4 460.9h0M98.3 469.5h0M40.9 496.8h0M92.7 487.5h0M49.6 465.9h0M122.3 488.5h0M66 491.6h0M114.8 468.8h0M101.8 475.5h0M70.2 475.2h0M33.5 474.5h0M58.7 478.2h0M58.2 490.5h0M112.6 487h0M77.2 490.1h0M40.1 483.8h0M79.5 499.3h0M77.4 490h0M50.4 464.8h0M86.6 471.9h0M103 500.2h0M58.2 479.2h0M115.5 487.5h0M101.5 488h0M94.4 487.7h0M97.9 498.6h0M86.5 463.8h0M34.2 473.9h0M51.1 495.1h0M116.9 476.2h0M39.2 482.1h0M71.9 453.5h0M46.9 462.1h0M108.9 474.6h0M135.5 467.3h0M73 480.9h0M86.2 493.7h0M105.4 449.3h0M127.5 478.8h0M47.5 476.1h0M47.1 487.2h0M32.8 500.4h0M73.7 489.3h0M49.3 499.6h0M111.7 466.9h0M97.8 455.3h0M108.2 493.2h0M71.9 477.5h0M98.5 467.9h0M43.1 466.5h0M92.8 472.1h0M54.7 455.7h0M37.2 500.2h0M106.7 476.8h0M61.2 490.4h0M109 489.5h0M33 459.1h0M101.7 494.5h0M118.4 454.8h0M83 501.2h0M51.1 499.9h0M98.9 493h0M57 475.4h0M119.3 465.8h0M79.2 475.1h0M71.9 486.6h0M115.3 494.6h0M62.7 464.3h0M72.3 492.1h0M43.1 500.4h0M82.3 493.5h0M64.9 470.3h0M37.3 500.7h0M55.8 495.5h0M34.3 492.1h0M87.1 500.6h0M74.2 476h0M37.9 469.9h0M96.1 468.4h0M51.7 492.1h0M90.9 459.4h0M95.8 499.7h0M84.5 469.3h0M73.5 469.9h0M47.8 493.8h0M61.6 496.3h0M33.9 482.8h0M111.9 484h0M32.2 488.9h0M50.9 501.7h0M47.9 489.7h0M126.2 471.1h0M67.8 474.2h0M45.7 484.3h0M115.2 457.6h0M46 489.8h0M119.6 478.8h0M95.5 455.9h0M46.4 476.2h0M51.8 479.7h0M116 474h0M98.8 465.6h0M130.4 462.5h0M60.3 468.7h0M78.7 499.2h0M50.3 461.4h0M59.1 493h0M77.7 494h0M48 485.9h0M92.8 479.5h0M48.6 492.8h0M55.6 484h0M42.4 478.8h0M114.1 478.6h0M137.8 447.8h0M40.8 475h0M39.2 502h0M112.9 463.1h0M96.9 489.3h0M79 501.3h0M64.1 496.1h0M75.6 488.8h0M88.9 495.6h0M79.4 474.7h0M60.8 497.6h0M39.3 469.8h0M91.2 485.1h0M89.8 461.5h0M99.4 461h0M36.3 498.4h0M95.1 492h0M109.6 492.7h0M41.5 484.5h0M33.4 494.6h0M73.9 458.8h0M123.2 464.5h0M71.1 496.5h0M42.9 488.1h0M114.5 489.5h0M43.3 494.6h0M58.5 466h0M111 474.7h0M87.6 485.1h0M98.1 491.5h0M113.6 487.3h0M96.6 478.8h0M37.8 466h0M100.1 453.8h0M103.9 495.6h0M109.6 501.5h0M70.3 462.7h0M80.2 496.4h0M116.1 498.6h0M42.8 498.4h0M91.6 498.9h0M67.4 476.9h0M120.1 480h0M58.3 492.2h0M65.6 480h0M125.4 486h0M110.4 469.7h0M48.5 500.2h0M101.8 481h0M42.7 498.5h0M90.3 479.9h0M32.8 484.9h0M64.5 467.6h0M106.6 479.1h0M127.3 445.7h0M59.5 471h0M65.2 454.6h0M33.3 494.5h0M55 477.8h0M45.6 460h0M100 476.3h0M65.5 484.5h0M111.3 487.5h0M84.1 464.6h0M72 480.7h0M46.8 499.1h0M78.1 495.6h0M103.8 458.8h0M69.5 478.4h0M57.6 470.7h0M40.4 501h0M87.8 496.8h0M105.8 484.6h0M68.4 496.3h0M64.3 491.5h0M51.6 460.3h0M92.9 452.7h0M67 500.6h0M82.8 472.8h0M124.7 461.3h0M129.7 491h0M40 480.2h0M34.5 480.9h0M101 457h0M78.2 482.9h0M34.6 479.1h0M42 483.2h0M40.5 485.6h0M47.3 500.6h0M114.5 465.7h0M109.3 457.7h0M106.9 456.9h0M42.8 487.5h0M114.6 461.5h0M40.2 496.6h0M111.3 458.4h0M62.6 479.2h0M85.8 454.1h0M47 473.1h0M85.8 467.4h0M63.5 498.9h0M63.2 475.8h0M113.8 494h0M134.1 456.2h0M78.3 475.5h0M44.6 468.3h0M47.4 489.8h0M92.9 478.6h0M87.5 466.5h0M62.8 480.1h0M36.9 484.8h0M95.9 502.1h0M47.6 490.6h0M128.3 481.6h0M103.5 463h0M65.5 480.9h0M58.9 489.9h0M124.3 487.4h0M47 470.3h0M33.8 473h0M91.5 490.5h0M50.5 469.2h0M127.4 468.1h0M137.1 467h0M103.2 457.1h0M60.1 481h0M34.2 468.5h0M82 501.5h0M61.4 473.6h0M33.3 489.4h0M70.7 495h0M53.6 481.9h0M40.5 468.9h0M127.7 459h0M56.5 486.8h0M122.1 453.1h0M60 489.9h0M117 493h0M132.1 488.6h0M62.7 486.9h0M88.8 457.1h0M99.1 465.6h0M95.2 455.6h0M69.7 480.6h0M81.8 473.2h0M98.3 458.9h0M91.8 485.6h0M67.5 500.1h0M122.4 473.1h0M107.8 455.2h0M36.8 500.4h0M67 484.5h0M98.9 476.4h0M90.9 469.5h0M87.2 469.8h0M126.5 453.3h0M54.1 468.8h0M39.2 495.7h0M63.1 486.3h0M32.7 490.9h0M32.5 467.1h0M32.7 488.6h0M32.6 475.3h0M32.7 492.9h0M31.9 473.5h0M32.5 463.3h0M32.1 462.4h0M31.9 477h0M32.7 501.9h0M32.5 466.4h0M32.5 461h0M32.8 465.9h0M32.2 502h0M31.9 500.2h0M31.9 494.4h0M32.6 494.2h0M32.5 479.6h0M32 468.9h0M31.9 482.4h0M32.5 469.4h0M32.3 476.8h0M32 472.8h0M32.3 492.8h0M32.6 493.5h0M32 487.2h0M32.4 479h0M32.9 478.7h0M31.8 477.1h0M32.9 483.1h0M32 502.2h0M32.4 488.6h0M32.7 500.6h0M32 498h0M32.7 474.2h0M35.1 500.1h0M83.1 502.3h0M73 500h0M55.4 499.2h0M59.3 501.3h0M38.2 501.5h0M78.5 498.2h0M89.9 501.9h0M116.2 501.7h0M86.7 499.3h0M37.4 499.3h0M76.9 498.9h0M110.1 500.9h0M91.1 499.8h0M67 501.5h0M44.5 501.5h0M36 499.3h0M65.3 498.3h0M101.4 498.7h0M50.9 499.8h0M101.1 500.3h0M104.6 501.1h0M85.8 502.4h0M33 499.6h0M57.8 502.2h0M112.4 500.7h0M112.6 502.4h0M96 500.7h0M104.4 500.4h0M95.5 501.3h0M72 501.4h0M31.9 501.9h0M104.9 501h0M40.4 500.5h0M48.2 502.2h0M74.7 501.4h0M114.7 499.8h0M66.3 498.8h0M77.6 498.6h0M109.1 501.5h0M41.6 423.8h0M65.5 407.7h0M64.4 423.1h0M67.7 425.3h0M88.3 414.3h0M130.7 418.7h0M131.8 418.7h0M62.2 431.9h0M63.3 434.1h0M97 427.5h0M100.3 425.3h0M113.3 429.7h0M114.4 434.1h0M127.5 434.1h0M137.2 449.6h0M49.2 440.8h0M54.6 443h0M78.5 440.8h0M76.4 443h0M103.5 436.4h0M80.7 445.2h0M60.1 440.8h0M69.8 440.8h0M37.2 449.6h0M122 443h0M131.8 488.2h0M128.6 442.2h0M113.5 438.8h0M62.6 433.2h0M89.7 443.3h0M73.4 451.9h0M72.8 435.2h0M62.2 438.5h0M128.5 440.6h0M90.3 437.3h0M108 449.2h0M59.8 437.6h0M103.6 451.7h0M77.2 442.4h0M73.4 433.3h0M124.4 434.3h0M91.3 432.2h0M108.3 429.8h0M55.8 440h0M119.8 451h0M60 448.6h0M109.5 439.4h0M117.8 451.5h0M98.5 448.3h0M89.1 453.8h0M118.4 449.5h0M89.7 433.1h0" stroke="#2B2B2B" stroke-width="2.8" stroke-linecap="round" fill="none"/>
<path d="M31.8 491.6 L37.3 490.3 L42.9 489 L48.4 487.6 L54 486.3 L59.5 484.9 L65.1 483.6 L70.6 482.2 L76.2 480.8 L81.7 479.4 L87.3 477.9 L92.8 476.5 L98.4 475 L103.9 473.6 L109.5 472.1 L115 470.6 L120.6 469.1 L126.1 467.5 L131.7 466 L137.2 464.4 L137.2 467.3 L131.7 468.5 L126.1 469.8 L120.6 471.1 L115 472.5 L109.5 473.8 L103.9 475.1 L98.4 476.5 L92.8 477.9 L87.3 479.3 L81.7 480.7 L76.2 482.1 L70.6 483.6 L65.1 485 L59.5 486.5 L54 488 L48.4 489.5 L42.9 491 L37.3 492.5 L31.8 494 Z" fill="#BEBEBE" fill-opacity="0.55"/>
<line x1="31.8" y1="492.8" x2="137.2" y2="465.8" stroke="#E69F00" stroke-width="1.5"/>
</g>
<rect x="26.4" y="401.2" width="115.4" height="106.2" fill="none" stroke="#333" stroke-width="0.7"/>
<g stroke="#333" stroke-width="0.6"><line x1="31.8" y1="507.4" x2="31.8" y2="509.4"/><line x1="59" y1="507.4" x2="59" y2="509.4"/><line x1="86.2" y1="507.4" x2="86.2" y2="509.4"/><line x1="113.3" y1="507.4" x2="113.3" y2="509.4"/><line x1="140.5" y1="507.4" x2="140.5" y2="509.4"/><line x1="24.4" y1="502.5" x2="26.4" y2="502.5"/><line x1="24.4" y1="480.4" x2="26.4" y2="480.4"/><line x1="24.4" y1="458.4" x2="26.4" y2="458.4"/><line x1="24.4" y1="436.4" x2="26.4" y2="436.4"/><line x1="24.4" y1="414.3" x2="26.4" y2="414.3"/></g>
<text x="31.8" y="515.9" font-size="6.6" text-anchor="middle" fill="#3A3A3A">0.00</text>
<text x="59" y="515.9" font-size="6.6" text-anchor="middle" fill="#3A3A3A">0.25</text>
<text x="86.2" y="515.9" font-size="6.6" text-anchor="middle" fill="#3A3A3A">0.50</text>
<text x="113.3" y="515.9" font-size="6.6" text-anchor="middle" fill="#3A3A3A">0.75</text>
<text x="140.5" y="515.9" font-size="6.6" text-anchor="middle" fill="#3A3A3A">1.00</text>
<text x="23.6" y="504.9" font-size="6.6" text-anchor="end" fill="#3A3A3A">0.0</text>
<text x="23.6" y="482.8" font-size="6.6" text-anchor="end" fill="#3A3A3A">0.1</text>
<text x="23.6" y="460.8" font-size="6.6" text-anchor="end" fill="#3A3A3A">0.2</text>
<text x="23.6" y="438.7" font-size="6.6" text-anchor="end" fill="#3A3A3A">0.3</text>
<text x="23.6" y="416.7" font-size="6.6" text-anchor="end" fill="#3A3A3A">0.4</text>
<text x="87.7" y="389.6" font-size="10.3" text-anchor="middle" fill="#111">Pooled HNSCC</text>
<text x="84.6" y="526.9" font-size="8.55" text-anchor="middle" fill="#111">Deconvoluted proportion (CC1)</text>
<text x="0" y="0" font-size="8.55" text-anchor="middle" fill="#111" transform="translate(9.8 454.3) rotate(-90) scale(1 1)">Deconvoluted proportion (CF1)</text>
<text x="147.6" y="380.7" font-size="18.5" text-anchor="start" fill="#000" font-weight="bold">f</text>
<line x1="172.4" y1="405.9" x2="172.4" y2="505.9" stroke="#222" stroke-width="0.85"/>
<line x1="169.6" y1="505.9" x2="222.9" y2="505.9" stroke="#222" stroke-width="0.85"/>
<g stroke="#222" stroke-width="0.75"><line x1="169.6" y1="505.9" x2="172.4" y2="505.9"/><line x1="169.6" y1="472.7" x2="172.4" y2="472.7"/><line x1="169.6" y1="439.4" x2="172.4" y2="439.4"/><line x1="169.6" y1="406.2" x2="172.4" y2="406.2"/><line x1="184.3" y1="505.9" x2="184.3" y2="509.1"/><line x1="210.5" y1="505.9" x2="210.5" y2="509.1"/></g>
<text x="167.5" y="508.1" font-size="7.1" text-anchor="end" fill="#111">0</text>
<text x="167.5" y="474.9" font-size="7.1" text-anchor="end" fill="#111">1</text>
<text x="167.5" y="441.6" font-size="7.1" text-anchor="end" fill="#111">2</text>
<text x="167.5" y="408.4" font-size="7.1" text-anchor="end" fill="#111">3</text>
<rect x="177.0" y="471.7" width="14.7" height="34.2" fill="#B4C7E7" stroke="#222" stroke-width="0.8"/>
<g stroke="#333" stroke-width="0.8"><line x1="184.3" y1="469.3" x2="184.3" y2="473.7"/><line x1="180.8" y1="469.3" x2="187.9" y2="469.3"/><line x1="180.8" y1="473.7" x2="187.9" y2="473.7"/></g>
<rect x="203.4" y="427.5" width="14.2" height="78.4" fill="#4472C4" stroke="#222" stroke-width="0.8"/>
<g stroke="#333" stroke-width="0.8"><line x1="210.5" y1="417.2" x2="210.5" y2="439.4"/><line x1="206.9" y1="417.2" x2="214.1" y2="417.2"/><line x1="206.9" y1="439.4" x2="214.1" y2="439.4"/></g>
<line x1="181.9" y1="407.8" x2="210.3" y2="407.8" stroke="#333" stroke-width="0.8"/>
<text x="197.3" y="405.8" font-size="8.2" text-anchor="middle" fill="#111" letter-spacing="1.1">**</text>
<text x="198.2" y="389.2" font-size="10.2" text-anchor="middle" fill="#111">SCCQLL1</text>
<text x="180.3" y="518.3" font-size="7.3" text-anchor="middle" fill="#111">Control</text>
<text x="212.2" y="518.3" font-size="7.3" text-anchor="middle" fill="#111">Galectin-7</text>
<text x="0" y="0" font-size="8.2" text-anchor="middle" fill="#111" transform="translate(159.8 455.8) rotate(-90) scale(0.89 1)">Relative <tspan font-style="italic">CXCL8</tspan> expression level</text>
<line x1="257.4" y1="404.7" x2="257.4" y2="505.9" stroke="#222" stroke-width="0.85"/>
<line x1="254.6" y1="505.9" x2="307.5" y2="505.9" stroke="#222" stroke-width="0.85"/>
<g stroke="#222" stroke-width="0.75"><line x1="254.6" y1="505.9" x2="257.4" y2="505.9"/><line x1="254.6" y1="480.7" x2="257.4" y2="480.7"/><line x1="254.6" y1="455.4" x2="257.4" y2="455.4"/><line x1="254.6" y1="430.2" x2="257.4" y2="430.2"/><line x1="254.6" y1="405" x2="257.4" y2="405"/><line x1="269.2" y1="505.9" x2="269.2" y2="509.1"/><line x1="295.4" y1="505.9" x2="295.4" y2="509.1"/></g>
<text x="252.5" y="508.1" font-size="7.1" text-anchor="end" fill="#111">0</text>
<text x="252.5" y="482.9" font-size="7.1" text-anchor="end" fill="#111">0.5</text>
<text x="252.5" y="457.6" font-size="7.1" text-anchor="end" fill="#111">1</text>
<text x="252.5" y="432.4" font-size="7.1" text-anchor="end" fill="#111">1.5</text>
<text x="252.5" y="407.2" font-size="7.1" text-anchor="end" fill="#111">2</text>
<rect x="262.0" y="454.4" width="14.5" height="51.5" fill="#B4C7E7" stroke="#222" stroke-width="0.8"/>
<g stroke="#333" stroke-width="0.8"><line x1="269.2" y1="451.9" x2="269.2" y2="457"/><line x1="265.6" y1="451.9" x2="272.9" y2="451.9"/><line x1="265.6" y1="457" x2="272.9" y2="457"/></g>
<rect x="288.1" y="429.7" width="14.6" height="76.2" fill="#4472C4" stroke="#222" stroke-width="0.8"/>
<g stroke="#333" stroke-width="0.8"><line x1="295.4" y1="415.6" x2="295.4" y2="444.4"/><line x1="291.8" y1="415.6" x2="299" y2="415.6"/><line x1="291.8" y1="444.4" x2="299" y2="444.4"/></g>
<line x1="269.2" y1="405.0" x2="296.3" y2="405.0" stroke="#333" stroke-width="0.8"/>
<text x="283.5" y="403" font-size="8.2" text-anchor="middle" fill="#111" letter-spacing="1.1">*</text>
<text x="282.9" y="389.2" font-size="10.2" text-anchor="middle" fill="#111">SNU1066</text>
<text x="265.5" y="518.3" font-size="7.3" text-anchor="middle" fill="#111">Control</text>
<text x="297.2" y="518.3" font-size="7.3" text-anchor="middle" fill="#111">Galectin-7</text>
<text x="0" y="0" font-size="8.2" text-anchor="middle" fill="#111" transform="translate(238.6 455.8) rotate(-90) scale(0.89 1)">Relative <tspan font-style="italic">CXCL8</tspan> expression level</text>
<line x1="343.4" y1="401.7" x2="343.4" y2="506" stroke="#222" stroke-width="0.85"/>
<line x1="340.6" y1="506.0" x2="402.2" y2="506.0" stroke="#222" stroke-width="0.85"/>
<g stroke="#222" stroke-width="0.75"><line x1="340.6" y1="506" x2="343.4" y2="506"/><line x1="340.6" y1="480" x2="343.4" y2="480"/><line x1="340.6" y1="454" x2="343.4" y2="454"/><line x1="340.6" y1="428" x2="343.4" y2="428"/><line x1="340.6" y1="402" x2="343.4" y2="402"/><line x1="360.9" y1="506.0" x2="360.9" y2="509.2"/><line x1="391.1" y1="506.0" x2="391.1" y2="509.2"/></g>
<text x="338.5" y="508.2" font-size="7.1" text-anchor="end" fill="#111">0.0</text>
<text x="338.5" y="482.2" font-size="7.1" text-anchor="end" fill="#111">0.5</text>
<text x="338.5" y="456.2" font-size="7.1" text-anchor="end" fill="#111">1.0</text>
<text x="338.5" y="430.2" font-size="7.1" text-anchor="end" fill="#111">1.5</text>
<text x="338.5" y="404.2" font-size="7.1" text-anchor="end" fill="#111">2.0</text>
<rect x="352.2" y="454" width="17.5" height="52" fill="#D9D9D6" stroke="#222" stroke-width="0.8"/>
<g stroke="#333" stroke-width="0.8"><line x1="360.9" y1="453.7" x2="360.9" y2="454.3"/><line x1="357.3" y1="453.7" x2="364.6" y2="453.7"/><line x1="357.3" y1="454.3" x2="364.6" y2="454.3"/></g>
<rect x="382.4" y="414" width="17.5" height="92" fill="#6CE86C" stroke="#222" stroke-width="0.8"/>
<g stroke="#333" stroke-width="0.8"><line x1="391.1" y1="406.7" x2="391.1" y2="421.2"/><line x1="387.5" y1="406.7" x2="394.8" y2="406.7"/><line x1="387.5" y1="421.2" x2="394.8" y2="421.2"/></g>
<line x1="360.0" y1="400.6" x2="391.2" y2="400.6" stroke="#333" stroke-width="0.8"/>
<text x="378.6" y="398.6" font-size="8.2" text-anchor="middle" fill="#111" letter-spacing="1.1">***</text>
<text x="373.3" y="389.2" font-size="10.2" text-anchor="middle" fill="#111">CAF30</text>
<text x="358" y="518.3" font-size="7.3" text-anchor="middle" fill="#111">Control</text>
<text x="392.9" y="518.3" font-size="7.3" text-anchor="middle" fill="#111">Galectin-7</text>
<text x="0" y="0" font-size="8.2" text-anchor="middle" fill="#111" transform="translate(323.9 455.8) rotate(-90) scale(0.89 1)">Relative <tspan font-style="italic">CXCL8</tspan> expression level</text>
<line x1="436.4" y1="402.1" x2="436.4" y2="505.9" stroke="#222" stroke-width="0.85"/>
<line x1="433.6" y1="505.9" x2="499.5" y2="505.9" stroke="#222" stroke-width="0.85"/>
<g stroke="#222" stroke-width="0.75"><line x1="433.6" y1="505.9" x2="436.4" y2="505.9"/><line x1="433.6" y1="485.2" x2="436.4" y2="485.2"/><line x1="433.6" y1="464.5" x2="436.4" y2="464.5"/><line x1="433.6" y1="443.8" x2="436.4" y2="443.8"/><line x1="433.6" y1="423.1" x2="436.4" y2="423.1"/><line x1="433.6" y1="402.4" x2="436.4" y2="402.4"/><line x1="454.1" y1="505.9" x2="454.1" y2="509.1"/><line x1="484.5" y1="505.9" x2="484.5" y2="509.1"/></g>
<text x="431.5" y="508.1" font-size="7.1" text-anchor="end" fill="#111">0.8</text>
<text x="431.5" y="487.4" font-size="7.1" text-anchor="end" fill="#111">1.0</text>
<text x="431.5" y="466.7" font-size="7.1" text-anchor="end" fill="#111">1.2</text>
<text x="431.5" y="446" font-size="7.1" text-anchor="end" fill="#111">1.4</text>
<text x="431.5" y="425.3" font-size="7.1" text-anchor="end" fill="#111">1.6</text>
<text x="431.5" y="404.6" font-size="7.1" text-anchor="end" fill="#111">1.8</text>
<rect x="445.7" y="487.3" width="16.9" height="18.6" fill="#D9D9D6" stroke="#222" stroke-width="0.8"/>
<g stroke="#333" stroke-width="0.8"><line x1="454.1" y1="485.2" x2="454.1" y2="489.9"/><line x1="450.5" y1="485.2" x2="457.8" y2="485.2"/><line x1="450.5" y1="489.9" x2="457.8" y2="489.9"/></g>
<rect x="476.2" y="436.6" width="16.6" height="69.3" fill="#6CE86C" stroke="#222" stroke-width="0.8"/>
<g stroke="#333" stroke-width="0.8"><line x1="484.5" y1="427.2" x2="484.5" y2="446.9"/><line x1="480.9" y1="427.2" x2="488.1" y2="427.2"/><line x1="480.9" y1="446.9" x2="488.1" y2="446.9"/></g>
<line x1="453.8" y1="417.2" x2="484.9" y2="417.2" stroke="#333" stroke-width="0.8"/>
<text x="470.5" y="415.2" font-size="8.2" text-anchor="middle" fill="#111" letter-spacing="1.1">**</text>
<text x="468.4" y="389.2" font-size="10.2" text-anchor="middle" fill="#111">CAF57</text>
<text x="451.5" y="518.3" font-size="7.3" text-anchor="middle" fill="#111">Control</text>
<text x="486.5" y="518.3" font-size="7.3" text-anchor="middle" fill="#111">Galectin-7</text>
<text x="0" y="0" font-size="8.2" text-anchor="middle" fill="#111" transform="translate(419 455.8) rotate(-90) scale(0.89 1)">Relative <tspan font-style="italic">CXCL8</tspan> expression level</text>
<line x1="526.8" y1="402" x2="526.8" y2="506" stroke="#8A8A8A" stroke-width="0.85"/>
<line x1="524" y1="506.0" x2="590.3" y2="506.0" stroke="#222" stroke-width="0.85"/>
<g stroke="#8A8A8A" stroke-width="0.75"><line x1="524" y1="506" x2="526.8" y2="506"/><line x1="524" y1="485.3" x2="526.8" y2="485.3"/><line x1="524" y1="464.5" x2="526.8" y2="464.5"/><line x1="524" y1="443.8" x2="526.8" y2="443.8"/><line x1="524" y1="423" x2="526.8" y2="423"/><line x1="524" y1="402.3" x2="526.8" y2="402.3"/><line x1="545.2" y1="506.0" x2="545.2" y2="509.2"/><line x1="575" y1="506.0" x2="575" y2="509.2"/></g>
<text x="521.9" y="508.2" font-size="7.1" text-anchor="end" fill="#111">0</text>
<text x="521.9" y="487.5" font-size="7.1" text-anchor="end" fill="#111">2</text>
<text x="521.9" y="466.7" font-size="7.1" text-anchor="end" fill="#111">4</text>
<text x="521.9" y="446" font-size="7.1" text-anchor="end" fill="#111">6</text>
<text x="521.9" y="425.2" font-size="7.1" text-anchor="end" fill="#111">8</text>
<text x="521.9" y="404.5" font-size="7.1" text-anchor="end" fill="#111">10</text>
<rect x="536.6" y="494.4" width="17.1" height="11.6" fill="#D9D9D6" stroke="#222" stroke-width="0.8"/>
<g stroke="#333" stroke-width="0.8"><line x1="545.2" y1="493.3" x2="545.2" y2="495.6"/><line x1="541.6" y1="493.3" x2="548.8" y2="493.3"/><line x1="541.6" y1="495.6" x2="548.8" y2="495.6"/></g>
<rect x="566.8" y="428.5" width="16.3" height="77.5" fill="#6CE86C" stroke="#222" stroke-width="0.8"/>
<g stroke="#333" stroke-width="0.8"><line x1="575" y1="419.9" x2="575" y2="437.6"/><line x1="571.4" y1="419.9" x2="578.6" y2="419.9"/><line x1="571.4" y1="437.6" x2="578.6" y2="437.6"/></g>
<line x1="544.4" y1="411.3" x2="574.9" y2="411.3" stroke="#333" stroke-width="0.8"/>
<text x="562.6" y="409.3" font-size="8.2" text-anchor="middle" fill="#111" letter-spacing="1.1">***</text>
<text x="559" y="389.2" font-size="10.2" text-anchor="middle" fill="#111">CAF58</text>
<text x="542.5" y="518.3" font-size="7.3" text-anchor="middle" fill="#111">Control</text>
<text x="577" y="518.3" font-size="7.3" text-anchor="middle" fill="#111">Galectin-7</text>
<text x="0" y="0" font-size="8.2" text-anchor="middle" fill="#111" transform="translate(514.2 455.8) rotate(-90) scale(0.89 1)">Relative <tspan font-style="italic">CXCL8</tspan> expression level</text>
<line x1="618.4" y1="402.2" x2="618.4" y2="505.9" stroke="#222" stroke-width="0.85"/>
<line x1="615.6" y1="505.9" x2="682.4" y2="505.9" stroke="#222" stroke-width="0.85"/>
<g stroke="#222" stroke-width="0.75"><line x1="615.6" y1="505.9" x2="618.4" y2="505.9"/><line x1="615.6" y1="485.2" x2="618.4" y2="485.2"/><line x1="615.6" y1="464.5" x2="618.4" y2="464.5"/><line x1="615.6" y1="443.9" x2="618.4" y2="443.9"/><line x1="615.6" y1="423.2" x2="618.4" y2="423.2"/><line x1="615.6" y1="402.5" x2="618.4" y2="402.5"/><line x1="636.3" y1="505.9" x2="636.3" y2="509.1"/><line x1="666.4" y1="505.9" x2="666.4" y2="509.1"/></g>
<text x="613.5" y="508.1" font-size="7.1" text-anchor="end" fill="#111">0</text>
<text x="613.5" y="487.4" font-size="7.1" text-anchor="end" fill="#111">10</text>
<text x="613.5" y="466.7" font-size="7.1" text-anchor="end" fill="#111">20</text>
<text x="613.5" y="446.1" font-size="7.1" text-anchor="end" fill="#111">30</text>
<text x="613.5" y="425.4" font-size="7.1" text-anchor="end" fill="#111">40</text>
<text x="613.5" y="404.7" font-size="7.1" text-anchor="end" fill="#111">50</text>
<rect x="628.0" y="503.8" width="16.6" height="2.1" fill="#D9D9D6" stroke="#222" stroke-width="0.8"/>
<g stroke="#333" stroke-width="0.8"><line x1="636.3" y1="503.6" x2="636.3" y2="504"/><line x1="632.7" y1="503.6" x2="639.9" y2="503.6"/><line x1="632.7" y1="504" x2="639.9" y2="504"/></g>
<rect x="658.3" y="425" width="16.2" height="80.9" fill="#6CE86C" stroke="#222" stroke-width="0.8"/>
<g stroke="#333" stroke-width="0.8"><line x1="666.4" y1="414.9" x2="666.4" y2="435.2"/><line x1="662.8" y1="414.9" x2="670" y2="414.9"/><line x1="662.8" y1="435.2" x2="670" y2="435.2"/></g>
<line x1="635.9" y1="406.4" x2="667.0" y2="406.4" stroke="#888" stroke-width="0.8"/>
<text x="654.4" y="404.4" font-size="8.2" text-anchor="middle" fill="#111" letter-spacing="1.1">***</text>
<text x="650.9" y="389.2" font-size="10.2" text-anchor="middle" fill="#111">CAF70</text>
<text x="634.5" y="518.3" font-size="7.3" text-anchor="middle" fill="#111">Control</text>
<text x="668.5" y="518.3" font-size="7.3" text-anchor="middle" fill="#111">Galectin-7</text>
<text x="0" y="0" font-size="8.2" text-anchor="middle" fill="#111" transform="translate(604.2 455.8) rotate(-90) scale(0.89 1)">Relative <tspan font-style="italic">CXCL8</tspan> expression level</text></svg></body></html>
